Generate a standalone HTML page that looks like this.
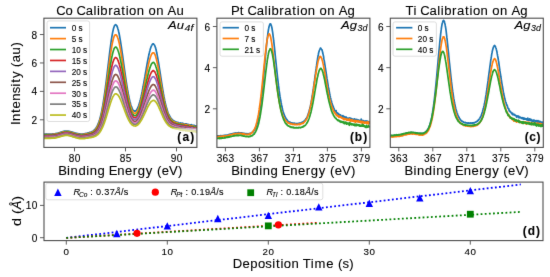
<!DOCTYPE html>
<html><head><meta charset="utf-8"><title>Calibration</title>
<style>
html,body{margin:0;padding:0;background:#fff;}
body{width:550px;height:277px;overflow:hidden;}
svg{display:block;font-family:"Liberation Sans", sans-serif;will-change:transform;}
text{stroke:#000;stroke-width:0.1px;}
</style></head>
<body>
<svg xmlns="http://www.w3.org/2000/svg" width="550" height="277" viewBox="0 0 550 277">
<defs><filter id="bl" x="0" y="0" width="550" height="277" filterUnits="userSpaceOnUse" color-interpolation-filters="sRGB"><feConvolveMatrix order="3" kernelMatrix="0.0052 0.0619 0.0052 0.0619 0.7314 0.0619 0.0052 0.0619 0.0052" edgeMode="duplicate"/></filter></defs><g filter="url(#bl)">
<rect x="0" y="0" width="550" height="277" fill="#fff"/>
<clipPath id="clipa"><rect x="43.9" y="18.2" width="153.0" height="129.20000000000002"/></clipPath>
<g clip-path="url(#clipa)">
<polyline points="43.90,134.08 44.16,134.35 44.41,134.17 44.67,134.23 44.92,134.22 45.17,134.20 45.43,134.31 45.68,134.20 45.94,134.23 46.19,133.98 46.45,134.16 46.71,134.20 46.96,134.19 47.22,134.21 47.47,134.23 47.73,134.18 47.98,134.13 48.23,134.17 48.49,134.09 48.74,134.15 49.00,134.13 49.26,134.04 49.51,134.09 49.77,134.15 50.02,134.12 50.27,134.07 50.53,133.98 50.78,134.10 51.04,134.09 51.29,134.00 51.55,134.10 51.81,134.05 52.06,133.97 52.32,133.97 52.57,133.98 52.83,133.93 53.08,134.11 53.33,133.86 53.59,133.96 53.84,133.97 54.10,133.83 54.36,133.77 54.61,133.81 54.87,133.81 55.12,133.71 55.38,133.67 55.63,133.55 55.88,133.54 56.14,133.53 56.39,133.42 56.65,133.45 56.91,133.44 57.16,133.29 57.42,133.23 57.67,133.21 57.92,133.18 58.18,133.05 58.43,133.15 58.69,132.88 58.94,132.82 59.20,132.87 59.46,132.69 59.71,132.68 59.97,132.49 60.22,132.58 60.47,132.43 60.73,132.25 60.98,132.14 61.24,132.26 61.49,132.08 61.75,131.95 62.01,131.92 62.26,131.72 62.52,131.81 62.77,131.64 63.02,131.65 63.28,131.44 63.53,131.46 63.79,131.42 64.04,131.45 64.30,131.20 64.56,131.20 64.81,131.16 65.07,131.10 65.32,131.12 65.58,131.15 65.83,131.14 66.08,131.13 66.34,130.99 66.59,131.16 66.85,131.11 67.11,131.10 67.36,131.09 67.62,131.09 67.87,131.22 68.12,131.28 68.38,131.22 68.63,131.18 68.89,131.26 69.14,131.34 69.40,131.43 69.66,131.45 69.91,131.54 70.17,131.54 70.42,131.70 70.67,131.72 70.93,131.80 71.18,131.84 71.44,131.93 71.69,131.87 71.95,132.01 72.21,132.09 72.46,132.38 72.72,132.35 72.97,132.45 73.22,132.46 73.48,132.70 73.73,132.57 73.99,132.66 74.24,132.87 74.50,132.93 74.76,132.99 75.01,133.01 75.27,133.05 75.52,133.03 75.78,133.23 76.03,133.24 76.28,133.34 76.54,133.31 76.79,133.43 77.05,133.45 77.31,133.65 77.56,133.65 77.82,133.74 78.07,133.65 78.33,133.74 78.58,133.84 78.83,133.89 79.09,133.87 79.34,133.97 79.60,134.01 79.86,133.95 80.11,133.85 80.37,134.03 80.62,134.06 80.88,134.11 81.13,134.12 81.38,134.01 81.64,133.99 81.89,134.03 82.15,134.00 82.41,133.99 82.66,133.97 82.92,134.05 83.17,133.96 83.43,133.89 83.68,133.91 83.93,133.86 84.19,133.84 84.44,133.77 84.70,133.66 84.96,133.68 85.21,133.62 85.47,133.52 85.72,133.47 85.97,133.36 86.23,133.53 86.48,133.30 86.74,133.33 86.99,133.23 87.25,133.13 87.51,133.06 87.76,133.00 88.02,132.99 88.27,132.84 88.53,132.89 88.78,132.82 89.03,132.69 89.29,132.70 89.54,132.46 89.80,132.46 90.06,132.31 90.31,132.35 90.57,132.28 90.82,132.16 91.08,132.02 91.33,132.00 91.58,131.83 91.84,131.73 92.09,131.51 92.35,131.51 92.61,131.26 92.86,131.20 93.12,131.05 93.37,130.86 93.62,130.69 93.88,130.41 94.13,130.13 94.39,129.95 94.64,129.67 94.90,129.33 95.16,129.12 95.41,128.82 95.67,128.51 95.92,128.23 96.17,127.71 96.43,127.46 96.68,126.88 96.94,126.46 97.19,125.90 97.45,125.45 97.71,124.94 97.96,124.28 98.22,123.71 98.47,123.03 98.72,122.32 98.98,121.60 99.23,120.83 99.49,120.05 99.74,119.15 100.00,118.36 100.26,117.29 100.51,116.35 100.77,115.17 101.02,114.07 101.28,113.12 101.53,111.80 101.78,110.58 102.04,109.34 102.29,107.91 102.55,106.57 102.81,105.21 103.06,103.62 103.32,102.07 103.57,100.46 103.82,98.89 104.08,97.09 104.33,95.35 104.59,93.67 104.84,91.82 105.10,89.91 105.36,88.03 105.61,85.95 105.87,84.06 106.12,82.11 106.38,80.06 106.63,77.94 106.88,75.71 107.14,73.74 107.39,71.60 107.65,69.43 107.91,67.32 108.16,65.03 108.42,63.06 108.67,60.84 108.92,58.75 109.18,56.61 109.43,54.63 109.69,52.39 109.94,50.47 110.20,48.47 110.46,46.59 110.71,44.68 110.97,42.76 111.22,40.95 111.47,39.25 111.73,37.58 111.98,36.05 112.24,34.60 112.49,33.16 112.75,31.87 113.01,30.71 113.26,29.56 113.52,28.53 113.77,27.70 114.03,26.96 114.28,26.24 114.53,25.63 114.79,25.34 115.04,25.03 115.30,24.86 115.56,24.71 115.81,24.93 116.07,24.93 116.32,25.11 116.57,25.56 116.83,25.85 117.08,26.42 117.34,27.10 117.59,27.76 117.85,28.66 118.11,29.48 118.36,30.30 118.62,31.51 118.87,32.47 119.12,33.79 119.38,34.99 119.63,36.39 119.89,37.93 120.14,39.29 120.40,40.76 120.66,42.41 120.91,44.04 121.17,45.60 121.42,47.36 121.67,49.16 121.93,50.87 122.18,52.57 122.44,54.47 122.69,56.22 122.95,58.03 123.21,59.98 123.46,61.91 123.72,63.79 123.97,65.58 124.22,67.39 124.48,69.27 124.73,71.10 124.99,72.98 125.24,74.73 125.50,76.56 125.76,78.31 126.01,80.09 126.27,81.80 126.52,83.40 126.78,85.06 127.03,86.64 127.28,88.10 127.54,89.65 127.79,90.93 128.05,92.47 128.31,93.94 128.56,95.18 128.82,96.48 129.07,97.77 129.32,98.84 129.58,100.07 129.83,101.28 130.09,102.07 130.34,103.12 130.60,103.91 130.86,104.89 131.11,105.73 131.37,106.32 131.62,107.17 131.88,107.73 132.13,108.25 132.38,108.86 132.64,109.35 132.89,109.76 133.15,110.09 133.41,110.51 133.66,110.69 133.92,110.90 134.17,110.95 134.43,111.22 134.68,111.31 134.93,111.21 135.19,111.23 135.44,111.08 135.70,110.94 135.96,110.67 136.21,110.53 136.47,110.19 136.72,109.99 136.97,109.48 137.23,108.88 137.48,108.52 137.74,107.97 137.99,107.41 138.25,106.66 138.51,105.99 138.76,105.34 139.02,104.45 139.27,103.65 139.53,102.75 139.78,101.92 140.03,100.83 140.29,99.91 140.54,98.91 140.80,97.86 141.06,96.74 141.31,95.52 141.57,94.41 141.82,93.11 142.08,91.89 142.33,90.57 142.58,89.29 142.84,88.01 143.09,86.77 143.35,85.25 143.61,83.82 143.86,82.44 144.12,80.98 144.37,79.59 144.62,78.13 144.88,76.69 145.13,75.08 145.39,73.68 145.64,72.24 145.90,70.82 146.16,69.28 146.41,67.72 146.67,66.34 146.92,64.99 147.18,63.44 147.43,62.05 147.68,60.72 147.94,59.41 148.19,58.08 148.45,56.86 148.71,55.63 148.96,54.55 149.22,53.27 149.47,52.27 149.72,51.13 149.98,50.42 150.23,49.33 150.49,48.46 150.74,47.76 151.00,46.98 151.26,46.31 151.51,45.75 151.77,45.32 152.02,44.86 152.28,44.43 152.53,44.13 152.78,44.01 153.04,43.90 153.29,43.86 153.55,43.87 153.81,44.19 154.06,44.48 154.32,44.75 154.57,45.31 154.82,45.84 155.08,46.44 155.33,47.16 155.59,48.11 155.84,48.89 156.10,50.08 156.36,50.98 156.61,52.29 156.87,53.48 157.12,54.61 157.38,56.03 157.63,57.45 157.88,58.86 158.14,60.27 158.39,61.84 158.65,63.40 158.91,64.90 159.16,66.66 159.42,68.27 159.67,69.92 159.92,71.43 160.18,73.11 160.43,74.75 160.69,76.53 160.94,78.19 161.20,79.74 161.46,81.53 161.71,83.07 161.97,84.71 162.22,86.46 162.47,87.98 162.73,89.53 162.98,90.86 163.24,92.26 163.49,93.97 163.75,95.37 164.01,96.98 164.26,98.04 164.52,99.34 164.77,100.70 165.03,101.69 165.28,103.11 165.53,104.06 165.79,105.09 166.04,106.27 166.30,107.00 166.56,107.90 166.81,109.09 167.07,109.95 167.32,110.50 167.57,111.35 167.83,112.23 168.08,112.80 168.34,113.43 168.59,114.06 168.85,114.50 169.11,115.12 169.36,115.44 169.62,115.98 169.87,116.54 170.12,116.91 170.38,117.27 170.63,117.74 170.89,118.40 171.14,118.40 171.40,118.84 171.66,118.88 171.91,119.40 172.17,119.58 172.42,119.85 172.68,119.85 172.93,120.31 173.18,120.58 173.44,120.66 173.69,120.97 173.95,121.02 174.21,121.20 174.46,121.29 174.72,121.11 174.97,121.67 175.22,121.70 175.48,121.86 175.73,121.79 175.99,122.25 176.24,122.25 176.50,122.21 176.76,122.17 177.01,122.37 177.27,122.54 177.52,122.69 177.78,122.48 178.03,122.35 178.28,122.65 178.54,122.74 178.79,122.75 179.05,123.10 179.31,123.03 179.56,123.08 179.82,123.01 180.07,123.13 180.33,123.45 180.58,122.98 180.83,122.91 181.09,123.40 181.34,123.30 181.60,123.38 181.86,123.31 182.11,123.88 182.37,123.22 182.62,123.74 182.88,123.39 183.13,123.71 183.38,123.87 183.64,123.86 183.89,123.66 184.15,124.13 184.41,124.06 184.66,124.13 184.92,124.47 185.17,123.80 185.43,124.02 185.68,124.21 185.93,123.97 186.19,124.53 186.44,124.36 186.70,123.97 186.96,124.20 187.21,125.03 187.47,125.35 187.72,124.84 187.97,124.37 188.23,124.79 188.48,124.77 188.74,124.62 188.99,125.03 189.25,124.81 189.51,124.71 189.76,124.84 190.02,124.90 190.27,125.20 190.53,124.96 190.78,125.25 191.03,124.86 191.29,124.59 191.54,125.47 191.80,125.87 192.06,125.48 192.31,125.32 192.57,125.20 192.82,125.24 193.07,125.76 193.33,125.81 193.58,125.33 193.84,125.98 194.09,125.47 194.35,125.85 194.61,125.64 194.86,125.70 195.12,125.73 195.37,125.77 195.62,126.28 195.88,125.99 196.13,126.11 196.39,126.08 196.64,125.90 196.90,126.33" fill="none" stroke="#1f77b4" stroke-width="1.7" stroke-linejoin="round" />
<polyline points="43.90,134.77 44.16,134.77 44.41,134.74 44.67,134.68 44.92,134.77 45.17,134.65 45.43,134.70 45.68,134.72 45.94,134.79 46.19,134.69 46.45,134.66 46.71,134.81 46.96,134.63 47.22,134.60 47.47,134.67 47.73,134.66 47.98,134.54 48.23,134.60 48.49,134.73 48.74,134.67 49.00,134.67 49.26,134.67 49.51,134.79 49.77,134.60 50.02,134.68 50.27,134.62 50.53,134.63 50.78,134.56 51.04,134.62 51.29,134.64 51.55,134.54 51.81,134.48 52.06,134.57 52.32,134.45 52.57,134.50 52.83,134.53 53.08,134.38 53.33,134.50 53.59,134.37 53.84,134.43 54.10,134.35 54.36,134.42 54.61,134.36 54.87,134.22 55.12,134.23 55.38,134.20 55.63,134.19 55.88,134.09 56.14,134.16 56.39,134.09 56.65,133.98 56.91,133.97 57.16,133.90 57.42,133.80 57.67,133.74 57.92,133.68 58.18,133.50 58.43,133.47 58.69,133.39 58.94,133.39 59.20,133.34 59.46,133.32 59.71,133.18 59.97,133.20 60.22,133.03 60.47,132.87 60.73,132.74 60.98,132.69 61.24,132.72 61.49,132.56 61.75,132.55 62.01,132.38 62.26,132.36 62.52,132.23 62.77,132.05 63.02,132.08 63.28,131.93 63.53,131.99 63.79,131.97 64.04,131.81 64.30,131.74 64.56,131.83 64.81,131.75 65.07,131.80 65.32,131.70 65.58,131.61 65.83,131.65 66.08,131.66 66.34,131.71 66.59,131.60 66.85,131.58 67.11,131.60 67.36,131.63 67.62,131.75 67.87,131.59 68.12,131.73 68.38,131.78 68.63,131.76 68.89,131.98 69.14,131.91 69.40,131.97 69.66,132.00 69.91,132.00 70.17,132.12 70.42,132.32 70.67,132.30 70.93,132.34 71.18,132.42 71.44,132.58 71.69,132.68 71.95,132.63 72.21,132.72 72.46,132.82 72.72,133.00 72.97,132.87 73.22,133.23 73.48,133.15 73.73,133.08 73.99,133.29 74.24,133.35 74.50,133.51 74.76,133.43 75.01,133.66 75.27,133.64 75.52,133.72 75.78,133.85 76.03,133.80 76.28,134.01 76.54,134.03 76.79,134.05 77.05,134.13 77.31,134.13 77.56,134.16 77.82,134.28 78.07,134.35 78.33,134.39 78.58,134.42 78.83,134.39 79.09,134.49 79.34,134.48 79.60,134.54 79.86,134.61 80.11,134.53 80.37,134.66 80.62,134.62 80.88,134.54 81.13,134.70 81.38,134.64 81.64,134.72 81.89,134.65 82.15,134.70 82.41,134.62 82.66,134.61 82.92,134.55 83.17,134.44 83.43,134.49 83.68,134.43 83.93,134.44 84.19,134.41 84.44,134.41 84.70,134.42 84.96,134.27 85.21,134.13 85.47,134.15 85.72,134.16 85.97,133.98 86.23,134.06 86.48,134.01 86.74,134.00 86.99,133.93 87.25,133.83 87.51,133.64 87.76,133.72 88.02,133.71 88.27,133.62 88.53,133.54 88.78,133.56 89.03,133.39 89.29,133.29 89.54,133.24 89.80,133.16 90.06,133.19 90.31,133.14 90.57,132.88 90.82,132.81 91.08,132.87 91.33,132.67 91.58,132.58 91.84,132.44 92.09,132.34 92.35,132.26 92.61,132.08 92.86,131.94 93.12,131.80 93.37,131.74 93.62,131.64 93.88,131.32 94.13,131.16 94.39,130.84 94.64,130.58 94.90,130.35 95.16,130.13 95.41,129.81 95.67,129.44 95.92,129.23 96.17,128.79 96.43,128.43 96.68,128.06 96.94,127.57 97.19,127.25 97.45,126.68 97.71,126.28 97.96,125.74 98.22,125.19 98.47,124.50 98.72,123.94 98.98,123.21 99.23,122.58 99.49,121.70 99.74,120.87 100.00,120.14 100.26,119.18 100.51,118.34 100.77,117.29 101.02,116.42 101.28,115.48 101.53,114.21 101.78,113.17 102.04,112.05 102.29,110.80 102.55,109.59 102.81,108.18 103.06,106.87 103.32,105.31 103.57,103.90 103.82,102.54 104.08,100.99 104.33,99.34 104.59,97.79 104.84,96.02 105.10,94.31 105.36,92.61 105.61,90.82 105.87,88.94 106.12,87.05 106.38,85.18 106.63,83.38 106.88,81.42 107.14,79.58 107.39,77.57 107.65,75.70 107.91,73.64 108.16,71.79 108.42,69.82 108.67,67.80 108.92,65.83 109.18,64.02 109.43,62.05 109.69,60.13 109.94,58.27 110.20,56.51 110.46,54.68 110.71,52.97 110.97,51.18 111.22,49.60 111.47,48.15 111.73,46.70 111.98,45.13 112.24,43.71 112.49,42.49 112.75,41.25 113.01,40.23 113.26,39.27 113.52,38.23 113.77,37.45 114.03,36.71 114.28,36.22 114.53,35.63 114.79,35.29 115.04,34.92 115.30,34.84 115.56,34.77 115.81,34.79 116.07,34.80 116.32,35.07 116.57,35.41 116.83,35.81 117.08,36.28 117.34,36.68 117.59,37.51 117.85,38.17 118.11,38.88 118.36,39.72 118.62,40.75 118.87,41.71 119.12,42.79 119.38,43.93 119.63,45.20 119.89,46.38 120.14,47.79 120.40,49.09 120.66,50.67 120.91,52.01 121.17,53.65 121.42,55.21 121.67,56.67 121.93,58.36 122.18,59.91 122.44,61.65 122.69,63.16 122.95,64.93 123.21,66.69 123.46,68.31 123.72,69.96 123.97,71.76 124.22,73.37 124.48,74.96 124.73,76.71 124.99,78.41 125.24,80.09 125.50,81.64 125.76,83.36 126.01,85.02 126.27,86.42 126.52,87.96 126.78,89.27 127.03,90.81 127.28,92.29 127.54,93.67 127.79,94.90 128.05,96.28 128.31,97.51 128.56,98.69 128.82,99.84 129.07,100.96 129.32,102.03 129.58,102.98 129.83,103.93 130.09,105.06 130.34,105.69 130.60,106.67 130.86,107.38 131.11,108.24 131.37,108.86 131.62,109.50 131.88,110.09 132.13,110.59 132.38,111.09 132.64,111.62 132.89,111.96 133.15,112.25 133.41,112.54 133.66,112.85 133.92,113.04 134.17,113.18 134.43,113.34 134.68,113.41 134.93,113.24 135.19,113.32 135.44,113.20 135.70,113.12 135.96,112.82 136.21,112.56 136.47,112.41 136.72,112.05 136.97,111.77 137.23,111.22 137.48,110.82 137.74,110.44 137.99,109.78 138.25,109.25 138.51,108.63 138.76,107.98 139.02,107.34 139.27,106.59 139.53,105.74 139.78,104.97 140.03,104.17 140.29,103.09 140.54,102.30 140.80,101.36 141.06,100.37 141.31,99.25 141.57,98.17 141.82,97.12 142.08,95.96 142.33,94.96 142.58,93.71 142.84,92.52 143.09,91.27 143.35,90.00 143.61,88.89 143.86,87.29 144.12,86.25 144.37,84.87 144.62,83.53 144.88,82.20 145.13,80.91 145.39,79.78 145.64,78.34 145.90,76.90 146.16,75.68 146.41,74.38 146.67,73.16 146.92,71.65 147.18,70.42 147.43,69.26 147.68,67.99 147.94,66.79 148.19,65.69 148.45,64.50 148.71,63.36 148.96,62.28 149.22,61.21 149.47,60.32 149.72,59.42 149.98,58.49 150.23,57.73 150.49,57.00 150.74,56.13 151.00,55.58 151.26,54.96 151.51,54.40 151.77,54.06 152.02,53.55 152.28,53.24 152.53,53.02 152.78,52.80 153.04,52.77 153.29,52.84 153.55,52.76 153.81,52.96 154.06,53.07 154.32,53.44 154.57,53.92 154.82,54.38 155.08,54.87 155.33,55.55 155.59,56.35 155.84,57.16 156.10,58.10 156.36,59.05 156.61,60.02 156.87,61.16 157.12,62.27 157.38,63.58 157.63,64.87 157.88,66.16 158.14,67.39 158.39,68.61 158.65,70.02 158.91,71.62 159.16,73.11 159.42,74.38 159.67,75.88 159.92,77.53 160.18,78.81 160.43,80.38 160.69,81.76 160.94,83.33 161.20,84.75 161.46,86.31 161.71,87.91 161.97,89.32 162.22,90.80 162.47,92.08 162.73,93.65 162.98,95.07 163.24,96.18 163.49,97.43 163.75,98.66 164.01,99.92 164.26,101.39 164.52,102.46 164.77,103.56 165.03,104.58 165.28,105.86 165.53,106.61 165.79,107.54 166.04,108.60 166.30,109.35 166.56,110.06 166.81,111.00 167.07,111.64 167.32,112.37 167.57,113.14 167.83,113.80 168.08,114.52 168.34,114.89 168.59,115.68 168.85,116.24 169.11,116.54 169.36,117.22 169.62,117.49 169.87,117.81 170.12,118.35 170.38,118.71 170.63,118.93 170.89,119.28 171.14,119.94 171.40,120.19 171.66,120.03 171.91,120.43 172.17,121.07 172.42,121.17 172.68,121.14 172.93,121.50 173.18,121.43 173.44,121.66 173.69,121.75 173.95,122.19 174.21,122.00 174.46,121.89 174.72,122.52 174.97,122.24 175.22,122.40 175.48,122.57 175.73,122.80 175.99,123.11 176.24,123.14 176.50,122.90 176.76,122.93 177.01,122.95 177.27,123.08 177.52,123.16 177.78,123.50 178.03,123.73 178.28,123.49 178.54,123.49 178.79,123.64 179.05,124.04 179.31,123.88 179.56,124.14 179.82,123.84 180.07,124.16 180.33,124.02 180.58,123.96 180.83,124.05 181.09,123.82 181.34,124.43 181.60,124.72 181.86,124.06 182.11,124.00 182.37,124.04 182.62,124.35 182.88,124.34 183.13,124.48 183.38,124.86 183.64,124.74 183.89,124.53 184.15,124.83 184.41,124.29 184.66,125.15 184.92,124.93 185.17,124.61 185.43,125.07 185.68,125.24 185.93,125.34 186.19,125.23 186.44,124.74 186.70,125.05 186.96,125.07 187.21,125.37 187.47,125.08 187.72,125.30 187.97,125.60 188.23,125.53 188.48,125.42 188.74,125.22 188.99,125.57 189.25,125.48 189.51,125.14 189.76,125.89 190.02,126.05 190.27,125.54 190.53,125.72 190.78,125.90 191.03,125.85 191.29,126.05 191.54,125.88 191.80,126.14 192.06,125.90 192.31,126.44 192.57,126.39 192.82,126.20 193.07,126.40 193.33,126.15 193.58,126.38 193.84,126.55 194.09,126.41 194.35,126.64 194.61,126.95 194.86,126.88 195.12,126.84 195.37,126.80 195.62,126.70 195.88,126.54 196.13,126.68 196.39,126.41 196.64,126.58 196.90,127.00" fill="none" stroke="#ff7f0e" stroke-width="1.7" stroke-linejoin="round" />
<polyline points="43.90,135.15 44.16,135.18 44.41,135.28 44.67,135.23 44.92,135.18 45.17,135.23 45.43,135.18 45.68,135.22 45.94,135.19 46.19,135.25 46.45,135.21 46.71,135.25 46.96,135.19 47.22,135.32 47.47,135.20 47.73,135.14 47.98,135.18 48.23,135.21 48.49,135.17 48.74,135.25 49.00,135.24 49.26,135.21 49.51,135.19 49.77,135.12 50.02,135.22 50.27,135.10 50.53,135.25 50.78,135.19 51.04,135.14 51.29,135.05 51.55,135.15 51.81,135.22 52.06,135.06 52.32,135.07 52.57,135.11 52.83,135.09 53.08,135.05 53.33,134.98 53.59,134.93 53.84,135.03 54.10,134.78 54.36,134.88 54.61,134.87 54.87,134.78 55.12,134.77 55.38,134.60 55.63,134.64 55.88,134.68 56.14,134.63 56.39,134.59 56.65,134.53 56.91,134.42 57.16,134.44 57.42,134.24 57.67,134.28 57.92,134.22 58.18,134.09 58.43,134.19 58.69,134.06 58.94,133.90 59.20,133.86 59.46,133.78 59.71,133.68 59.97,133.66 60.22,133.55 60.47,133.54 60.73,133.49 60.98,133.22 61.24,133.27 61.49,133.18 61.75,132.97 62.01,132.91 62.26,132.93 62.52,132.86 62.77,132.76 63.02,132.74 63.28,132.59 63.53,132.55 63.79,132.49 64.04,132.40 64.30,132.35 64.56,132.24 64.81,132.22 65.07,132.37 65.32,132.19 65.58,132.28 65.83,132.28 66.08,132.14 66.34,132.22 66.59,132.20 66.85,132.12 67.11,132.23 67.36,132.26 67.62,132.21 67.87,132.18 68.12,132.26 68.38,132.42 68.63,132.41 68.89,132.43 69.14,132.35 69.40,132.47 69.66,132.53 69.91,132.57 70.17,132.73 70.42,132.75 70.67,132.82 70.93,132.98 71.18,133.00 71.44,133.04 71.69,133.21 71.95,133.18 72.21,133.26 72.46,133.33 72.72,133.51 72.97,133.54 73.22,133.54 73.48,133.66 73.73,133.83 73.99,133.85 74.24,133.85 74.50,134.02 74.76,134.07 75.01,134.01 75.27,134.24 75.52,134.31 75.78,134.43 76.03,134.48 76.28,134.42 76.54,134.58 76.79,134.70 77.05,134.75 77.31,134.75 77.56,134.76 77.82,134.90 78.07,134.86 78.33,134.98 78.58,134.97 78.83,135.01 79.09,135.04 79.34,135.13 79.60,135.15 79.86,135.14 80.11,135.27 80.37,135.20 80.62,135.19 80.88,135.17 81.13,135.24 81.38,135.25 81.64,135.23 81.89,135.28 82.15,135.24 82.41,135.19 82.66,135.18 82.92,135.24 83.17,135.17 83.43,135.25 83.68,135.05 83.93,135.10 84.19,135.02 84.44,135.06 84.70,134.96 84.96,134.88 85.21,134.81 85.47,134.90 85.72,134.73 85.97,134.74 86.23,134.73 86.48,134.61 86.74,134.60 86.99,134.55 87.25,134.52 87.51,134.42 87.76,134.38 88.02,134.33 88.27,134.33 88.53,134.24 88.78,134.13 89.03,134.02 89.29,134.04 89.54,133.89 89.80,133.91 90.06,133.91 90.31,133.74 90.57,133.76 90.82,133.60 91.08,133.48 91.33,133.48 91.58,133.37 91.84,133.12 92.09,133.15 92.35,133.04 92.61,132.89 92.86,132.82 93.12,132.68 93.37,132.51 93.62,132.52 93.88,132.12 94.13,132.10 94.39,131.91 94.64,131.60 94.90,131.42 95.16,131.26 95.41,130.92 95.67,130.73 95.92,130.42 96.17,130.16 96.43,129.80 96.68,129.38 96.94,129.02 97.19,128.62 97.45,128.16 97.71,127.78 97.96,127.34 98.22,126.82 98.47,126.18 98.72,125.72 98.98,125.11 99.23,124.51 99.49,123.83 99.74,123.13 100.00,122.43 100.26,121.68 100.51,120.92 100.77,120.08 101.02,119.13 101.28,118.20 101.53,117.23 101.78,116.28 102.04,115.30 102.29,114.14 102.55,113.02 102.81,111.99 103.06,110.65 103.32,109.42 103.57,108.08 103.82,106.92 104.08,105.57 104.33,104.05 104.59,102.78 104.84,101.24 105.10,99.76 105.36,98.22 105.61,96.71 105.87,95.02 106.12,93.33 106.38,91.72 106.63,90.06 106.88,88.42 107.14,86.61 107.39,84.96 107.65,83.21 107.91,81.64 108.16,79.79 108.42,78.16 108.67,76.35 108.92,74.64 109.18,73.02 109.43,71.26 109.69,69.54 109.94,67.95 110.20,66.34 110.46,64.85 110.71,63.31 110.97,61.85 111.22,60.34 111.47,58.89 111.73,57.61 111.98,56.37 112.24,55.23 112.49,54.01 112.75,52.99 113.01,52.12 113.26,51.21 113.52,50.31 113.77,49.62 114.03,48.83 114.28,48.38 114.53,48.00 114.79,47.61 115.04,47.24 115.30,47.23 115.56,47.06 115.81,47.09 116.07,47.12 116.32,47.34 116.57,47.64 116.83,47.91 117.08,48.34 117.34,48.76 117.59,49.37 117.85,49.87 118.11,50.68 118.36,51.40 118.62,52.29 118.87,53.13 119.12,54.08 119.38,55.07 119.63,56.08 119.89,57.27 120.14,58.45 120.40,59.53 120.66,60.86 120.91,62.16 121.17,63.37 121.42,64.74 121.67,66.32 121.93,67.58 122.18,68.94 122.44,70.38 122.69,71.91 122.95,73.26 123.21,74.87 123.46,76.32 123.72,77.78 123.97,79.27 124.22,80.70 124.48,82.16 124.73,83.69 124.99,85.05 125.24,86.61 125.50,87.99 125.76,89.28 126.01,90.75 126.27,92.04 126.52,93.45 126.78,94.73 127.03,95.99 127.28,97.21 127.54,98.44 127.79,99.58 128.05,100.68 128.31,101.74 128.56,102.86 128.82,103.84 129.07,104.81 129.32,105.86 129.58,106.79 129.83,107.45 130.09,108.28 130.34,109.13 130.60,109.84 130.86,110.61 131.11,111.28 131.37,111.77 131.62,112.44 131.88,112.81 132.13,113.37 132.38,113.74 132.64,114.03 132.89,114.37 133.15,114.80 133.41,114.98 133.66,115.32 133.92,115.47 134.17,115.54 134.43,115.57 134.68,115.73 134.93,115.67 135.19,115.66 135.44,115.67 135.70,115.48 135.96,115.23 136.21,115.13 136.47,114.86 136.72,114.56 136.97,114.34 137.23,113.87 137.48,113.47 137.74,113.03 137.99,112.58 138.25,112.19 138.51,111.65 138.76,111.09 139.02,110.49 139.27,109.83 139.53,109.04 139.78,108.30 140.03,107.68 140.29,106.81 140.54,106.12 140.80,105.22 141.06,104.39 141.31,103.53 141.57,102.49 141.82,101.54 142.08,100.58 142.33,99.58 142.58,98.58 142.84,97.48 143.09,96.44 143.35,95.30 143.61,94.29 143.86,93.08 144.12,91.93 144.37,90.74 144.62,89.60 144.88,88.50 145.13,87.39 145.39,86.30 145.64,85.02 145.90,83.77 146.16,82.60 146.41,81.71 146.67,80.46 146.92,79.30 147.18,78.23 147.43,77.06 147.68,76.00 147.94,74.98 148.19,73.92 148.45,73.02 148.71,72.02 148.96,71.08 149.22,70.06 149.47,69.37 149.72,68.46 149.98,67.62 150.23,66.95 150.49,66.22 150.74,65.68 151.00,65.04 151.26,64.48 151.51,63.93 151.77,63.62 152.02,63.22 152.28,63.03 152.53,62.80 152.78,62.53 153.04,62.49 153.29,62.40 153.55,62.49 153.81,62.51 154.06,62.70 154.32,63.20 154.57,63.37 154.82,63.90 155.08,64.40 155.33,65.01 155.59,65.59 155.84,66.44 156.10,67.18 156.36,68.01 156.61,68.82 156.87,69.71 157.12,70.72 157.38,71.78 157.63,72.94 157.88,74.15 158.14,75.13 158.39,76.34 158.65,77.53 158.91,78.68 159.16,80.07 159.42,81.34 159.67,82.81 159.92,83.85 160.18,85.20 160.43,86.56 160.69,87.75 160.94,89.17 161.20,90.41 161.46,91.49 161.71,92.90 161.97,94.16 162.22,95.44 162.47,96.69 162.73,97.95 162.98,98.94 163.24,100.34 163.49,101.39 163.75,102.59 164.01,103.68 164.26,104.95 164.52,105.90 164.77,106.50 165.03,107.45 165.28,108.57 165.53,109.40 165.79,110.16 166.04,111.15 166.30,111.59 166.56,112.67 166.81,113.33 167.07,114.26 167.32,114.36 167.57,115.15 167.83,115.53 168.08,116.42 168.34,116.76 168.59,117.28 168.85,117.73 169.11,117.90 169.36,118.28 169.62,118.80 169.87,119.42 170.12,119.57 170.38,119.83 170.63,120.25 170.89,120.53 171.14,120.81 171.40,121.28 171.66,121.34 171.91,121.33 172.17,121.97 172.42,121.98 172.68,122.04 172.93,122.58 173.18,122.53 173.44,122.96 173.69,122.91 173.95,123.18 174.21,123.22 174.46,123.26 174.72,123.33 174.97,123.43 175.22,123.94 175.48,123.28 175.73,123.72 175.99,123.97 176.24,123.96 176.50,123.85 176.76,124.18 177.01,124.14 177.27,124.21 177.52,124.07 177.78,124.40 178.03,124.21 178.28,124.29 178.54,124.45 178.79,124.21 179.05,124.53 179.31,124.84 179.56,124.57 179.82,124.66 180.07,124.75 180.33,124.74 180.58,124.31 180.83,124.83 181.09,124.83 181.34,125.03 181.60,124.73 181.86,125.09 182.11,125.30 182.37,125.45 182.62,125.09 182.88,125.08 183.13,125.67 183.38,125.51 183.64,125.24 183.89,125.19 184.15,125.79 184.41,125.62 184.66,125.37 184.92,125.74 185.17,125.76 185.43,125.83 185.68,126.06 185.93,125.78 186.19,125.76 186.44,126.22 186.70,125.90 186.96,125.69 187.21,125.96 187.47,125.82 187.72,126.23 187.97,125.80 188.23,126.38 188.48,125.76 188.74,126.38 188.99,126.49 189.25,126.58 189.51,126.51 189.76,126.57 190.02,126.66 190.27,126.62 190.53,126.41 190.78,126.40 191.03,126.75 191.29,126.40 191.54,127.01 191.80,127.06 192.06,127.13 192.31,126.73 192.57,127.32 192.82,127.33 193.07,126.69 193.33,126.63 193.58,126.76 193.84,127.53 194.09,127.19 194.35,127.03 194.61,127.26 194.86,127.74 195.12,127.46 195.37,127.85 195.62,127.77 195.88,126.95 196.13,127.37 196.39,127.96 196.64,128.02 196.90,127.56" fill="none" stroke="#2ca02c" stroke-width="1.7" stroke-linejoin="round" />
<polyline points="43.90,135.82 44.16,135.74 44.41,135.82 44.67,135.79 44.92,135.76 45.17,135.83 45.43,135.88 45.68,135.84 45.94,135.81 46.19,135.78 46.45,135.76 46.71,135.76 46.96,135.73 47.22,135.81 47.47,135.67 47.73,135.63 47.98,135.72 48.23,135.73 48.49,135.66 48.74,135.69 49.00,135.72 49.26,135.73 49.51,135.76 49.77,135.78 50.02,135.66 50.27,135.62 50.53,135.75 50.78,135.68 51.04,135.65 51.29,135.68 51.55,135.69 51.81,135.65 52.06,135.73 52.32,135.60 52.57,135.60 52.83,135.44 53.08,135.49 53.33,135.55 53.59,135.50 53.84,135.37 54.10,135.35 54.36,135.41 54.61,135.40 54.87,135.44 55.12,135.34 55.38,135.29 55.63,135.28 55.88,135.09 56.14,135.26 56.39,135.11 56.65,135.02 56.91,134.97 57.16,134.84 57.42,134.96 57.67,134.86 57.92,134.75 58.18,134.68 58.43,134.64 58.69,134.59 58.94,134.41 59.20,134.46 59.46,134.36 59.71,134.16 59.97,134.06 60.22,134.03 60.47,134.05 60.73,133.97 60.98,133.89 61.24,133.83 61.49,133.70 61.75,133.52 62.01,133.51 62.26,133.49 62.52,133.42 62.77,133.37 63.02,133.16 63.28,133.29 63.53,133.09 63.79,133.13 64.04,133.05 64.30,133.03 64.56,132.84 64.81,132.86 65.07,132.66 65.32,132.85 65.58,132.83 65.83,132.72 66.08,132.70 66.34,132.75 66.59,132.85 66.85,132.65 67.11,132.71 67.36,132.74 67.62,132.82 67.87,132.78 68.12,132.88 68.38,132.88 68.63,132.94 68.89,132.90 69.14,133.06 69.40,133.10 69.66,133.08 69.91,133.19 70.17,133.27 70.42,133.36 70.67,133.36 70.93,133.52 71.18,133.53 71.44,133.52 71.69,133.69 71.95,133.84 72.21,133.95 72.46,133.95 72.72,134.11 72.97,134.21 73.22,134.24 73.48,134.34 73.73,134.30 73.99,134.52 74.24,134.42 74.50,134.63 74.76,134.66 75.01,134.70 75.27,134.80 75.52,134.84 75.78,135.01 76.03,135.16 76.28,135.10 76.54,135.25 76.79,135.25 77.05,135.22 77.31,135.34 77.56,135.42 77.82,135.51 78.07,135.51 78.33,135.55 78.58,135.68 78.83,135.61 79.09,135.73 79.34,135.69 79.60,135.76 79.86,135.70 80.11,135.73 80.37,135.80 80.62,135.82 80.88,135.80 81.13,135.76 81.38,135.78 81.64,135.83 81.89,135.82 82.15,135.74 82.41,135.92 82.66,135.77 82.92,135.84 83.17,135.68 83.43,135.77 83.68,135.71 83.93,135.74 84.19,135.64 84.44,135.56 84.70,135.47 84.96,135.60 85.21,135.51 85.47,135.21 85.72,135.34 85.97,135.36 86.23,135.28 86.48,135.42 86.74,135.12 86.99,135.16 87.25,135.21 87.51,135.00 87.76,135.06 88.02,135.03 88.27,134.89 88.53,134.85 88.78,134.85 89.03,134.77 89.29,134.79 89.54,134.74 89.80,134.54 90.06,134.46 90.31,134.45 90.57,134.38 90.82,134.36 91.08,134.27 91.33,134.24 91.58,134.00 91.84,134.05 92.09,133.90 92.35,133.83 92.61,133.81 92.86,133.49 93.12,133.51 93.37,133.41 93.62,133.22 93.88,133.13 94.13,132.92 94.39,132.81 94.64,132.54 94.90,132.37 95.16,132.25 95.41,131.89 95.67,131.70 95.92,131.53 96.17,131.17 96.43,130.88 96.68,130.48 96.94,130.32 97.19,129.87 97.45,129.56 97.71,129.12 97.96,128.76 98.22,128.30 98.47,127.80 98.72,127.41 98.98,126.94 99.23,126.27 99.49,125.71 99.74,125.07 100.00,124.39 100.26,123.77 100.51,122.98 100.77,122.31 101.02,121.53 101.28,120.67 101.53,119.84 101.78,119.00 102.04,118.07 102.29,117.17 102.55,116.18 102.81,115.11 103.06,114.00 103.32,112.98 103.57,111.77 103.82,110.54 104.08,109.32 104.33,108.22 104.59,106.89 104.84,105.61 105.10,104.27 105.36,102.91 105.61,101.55 105.87,100.12 106.12,98.73 106.38,97.30 106.63,95.79 106.88,94.29 107.14,92.74 107.39,91.28 107.65,89.73 107.91,88.16 108.16,86.77 108.42,85.20 108.67,83.63 108.92,82.14 109.18,80.70 109.43,79.09 109.69,77.68 109.94,76.29 110.20,74.69 110.46,73.49 110.71,72.05 110.97,70.77 111.22,69.45 111.47,68.19 111.73,67.10 111.98,65.93 112.24,64.86 112.49,63.91 112.75,62.84 113.01,62.03 113.26,61.25 113.52,60.55 113.77,59.88 114.03,59.28 114.28,58.83 114.53,58.32 114.79,58.23 115.04,57.97 115.30,57.71 115.56,57.73 115.81,57.63 116.07,57.73 116.32,57.80 116.57,58.02 116.83,58.24 117.08,58.61 117.34,59.00 117.59,59.52 117.85,60.02 118.11,60.65 118.36,61.38 118.62,62.13 118.87,62.90 119.12,63.62 119.38,64.67 119.63,65.44 119.89,66.47 120.14,67.39 120.40,68.47 120.66,69.62 120.91,70.69 121.17,71.98 121.42,73.01 121.67,74.21 121.93,75.58 122.18,76.67 122.44,77.99 122.69,79.25 122.95,80.64 123.21,81.81 123.46,83.11 123.72,84.45 123.97,85.81 124.22,87.01 124.48,88.27 124.73,89.61 124.99,90.84 125.24,92.20 125.50,93.40 125.76,94.61 126.01,95.84 126.27,96.86 126.52,98.17 126.78,99.37 127.03,100.40 127.28,101.60 127.54,102.57 127.79,103.57 128.05,104.64 128.31,105.59 128.56,106.56 128.82,107.39 129.07,108.30 129.32,108.98 129.58,109.83 129.83,110.64 130.09,111.42 130.34,111.89 130.60,112.58 130.86,113.23 131.11,113.82 131.37,114.35 131.62,114.87 131.88,115.19 132.13,115.70 132.38,116.18 132.64,116.47 132.89,116.88 133.15,116.95 133.41,117.17 133.66,117.30 133.92,117.43 134.17,117.72 134.43,117.72 134.68,117.73 134.93,117.75 135.19,117.80 135.44,117.65 135.70,117.57 135.96,117.38 136.21,117.29 136.47,117.09 136.72,116.87 136.97,116.58 137.23,116.30 137.48,115.93 137.74,115.50 137.99,115.09 138.25,114.59 138.51,114.13 138.76,113.65 139.02,113.22 139.27,112.54 139.53,111.91 139.78,111.43 140.03,110.75 140.29,110.06 140.54,109.34 140.80,108.56 141.06,107.82 141.31,106.95 141.57,106.23 141.82,105.32 142.08,104.47 142.33,103.61 142.58,102.58 142.84,101.72 143.09,100.74 143.35,99.84 143.61,98.80 143.86,97.82 144.12,96.87 144.37,95.96 144.62,94.78 144.88,93.77 145.13,92.77 145.39,91.74 145.64,90.72 145.90,89.69 146.16,88.74 146.41,87.66 146.67,86.63 146.92,85.69 147.18,84.73 147.43,83.58 147.68,82.71 147.94,81.84 148.19,80.94 148.45,80.20 148.71,79.26 148.96,78.36 149.22,77.47 149.47,76.92 149.72,76.11 149.98,75.25 150.23,74.69 150.49,74.10 150.74,73.49 151.00,73.06 151.26,72.60 151.51,72.13 151.77,71.75 152.02,71.57 152.28,71.13 152.53,71.15 152.78,70.92 153.04,70.56 153.29,70.77 153.55,70.72 153.81,70.94 154.06,71.06 154.32,71.33 154.57,71.61 154.82,71.91 155.08,72.27 155.33,72.83 155.59,73.33 155.84,74.10 156.10,74.63 156.36,75.42 156.61,76.13 156.87,77.09 157.12,77.94 157.38,78.72 157.63,79.73 157.88,80.74 158.14,81.82 158.39,82.81 158.65,83.82 158.91,84.89 159.16,86.09 159.42,87.19 159.67,88.25 159.92,89.51 160.18,90.47 160.43,91.69 160.69,92.84 160.94,94.17 161.20,95.22 161.46,96.33 161.71,97.43 161.97,98.61 162.22,99.58 162.47,100.70 162.73,101.81 162.98,103.03 163.24,103.71 163.49,104.88 163.75,105.77 164.01,106.85 164.26,107.69 164.52,108.51 164.77,109.42 165.03,110.17 165.28,111.09 165.53,111.62 165.79,112.81 166.04,113.36 166.30,113.86 166.56,114.66 166.81,115.30 167.07,116.06 167.32,116.25 167.57,117.19 167.83,117.39 168.08,117.91 168.34,118.28 168.59,118.63 168.85,119.34 169.11,119.74 169.36,120.04 169.62,120.59 169.87,120.55 170.12,121.03 170.38,121.24 170.63,121.71 170.89,121.79 171.14,122.13 171.40,122.27 171.66,122.64 171.91,122.50 172.17,122.96 172.42,123.45 172.68,123.08 172.93,123.39 173.18,123.64 173.44,123.18 173.69,123.76 173.95,124.11 174.21,124.09 174.46,124.02 174.72,124.23 174.97,124.05 175.22,124.18 175.48,124.61 175.73,124.54 175.99,124.50 176.24,124.78 176.50,124.86 176.76,124.66 177.01,124.81 177.27,125.25 177.52,125.14 177.78,125.17 178.03,125.17 178.28,125.35 178.54,124.97 178.79,125.51 179.05,125.59 179.31,125.36 179.56,125.94 179.82,125.73 180.07,125.41 180.33,125.89 180.58,125.83 180.83,125.45 181.09,125.63 181.34,125.77 181.60,125.77 181.86,126.03 182.11,125.85 182.37,126.01 182.62,125.43 182.88,125.92 183.13,126.17 183.38,126.15 183.64,126.16 183.89,126.55 184.15,126.46 184.41,125.94 184.66,126.68 184.92,126.53 185.17,126.19 185.43,126.11 185.68,126.77 185.93,126.21 186.19,126.69 186.44,126.24 186.70,126.57 186.96,126.80 187.21,126.59 187.47,126.68 187.72,127.05 187.97,126.37 188.23,127.03 188.48,126.70 188.74,127.15 188.99,127.52 189.25,127.39 189.51,127.18 189.76,127.03 190.02,126.80 190.27,127.26 190.53,127.39 190.78,127.68 191.03,127.42 191.29,127.38 191.54,128.05 191.80,127.21 192.06,127.29 192.31,127.05 192.57,127.89 192.82,127.70 193.07,127.75 193.33,128.13 193.58,128.05 193.84,128.13 194.09,127.79 194.35,127.85 194.61,127.66 194.86,128.15 195.12,128.45 195.37,128.02 195.62,128.08 195.88,128.05 196.13,127.94 196.39,128.45 196.64,128.14 196.90,128.64" fill="none" stroke="#d62728" stroke-width="1.7" stroke-linejoin="round" />
<polyline points="43.90,136.29 44.16,136.26 44.41,136.30 44.67,136.28 44.92,136.38 45.17,136.33 45.43,136.28 45.68,136.36 45.94,136.34 46.19,136.14 46.45,136.27 46.71,136.33 46.96,136.34 47.22,136.19 47.47,136.44 47.73,136.29 47.98,136.23 48.23,136.30 48.49,136.23 48.74,136.32 49.00,136.25 49.26,136.24 49.51,136.24 49.77,136.23 50.02,136.23 50.27,136.15 50.53,136.23 50.78,136.24 51.04,136.21 51.29,136.20 51.55,136.26 51.81,136.27 52.06,136.23 52.32,136.11 52.57,136.15 52.83,136.12 53.08,135.90 53.33,135.99 53.59,136.04 53.84,136.04 54.10,135.90 54.36,136.00 54.61,135.84 54.87,135.85 55.12,135.77 55.38,135.85 55.63,135.72 55.88,135.84 56.14,135.69 56.39,135.57 56.65,135.54 56.91,135.64 57.16,135.43 57.42,135.39 57.67,135.36 57.92,135.33 58.18,135.24 58.43,135.19 58.69,135.02 58.94,134.98 59.20,134.87 59.46,134.82 59.71,134.86 59.97,134.69 60.22,134.49 60.47,134.61 60.73,134.44 60.98,134.42 61.24,134.35 61.49,134.20 61.75,134.08 62.01,134.01 62.26,133.96 62.52,133.85 62.77,133.94 63.02,133.72 63.28,133.68 63.53,133.65 63.79,133.59 64.04,133.58 64.30,133.41 64.56,133.48 64.81,133.49 65.07,133.36 65.32,133.37 65.58,133.31 65.83,133.20 66.08,133.29 66.34,133.27 66.59,133.14 66.85,133.36 67.11,133.27 67.36,133.24 67.62,133.24 67.87,133.22 68.12,133.43 68.38,133.39 68.63,133.48 68.89,133.55 69.14,133.62 69.40,133.72 69.66,133.67 69.91,133.71 70.17,133.88 70.42,133.84 70.67,133.99 70.93,134.09 71.18,134.27 71.44,134.12 71.69,134.22 71.95,134.36 72.21,134.45 72.46,134.58 72.72,134.55 72.97,134.67 73.22,134.71 73.48,134.82 73.73,134.99 73.99,135.08 74.24,135.04 74.50,135.24 74.76,135.20 75.01,135.24 75.27,135.44 75.52,135.40 75.78,135.50 76.03,135.54 76.28,135.68 76.54,135.71 76.79,135.74 77.05,135.72 77.31,135.84 77.56,135.91 77.82,136.08 78.07,136.03 78.33,136.14 78.58,136.15 78.83,136.17 79.09,136.17 79.34,136.22 79.60,136.28 79.86,136.32 80.11,136.26 80.37,136.42 80.62,136.38 80.88,136.31 81.13,136.42 81.38,136.36 81.64,136.36 81.89,136.29 82.15,136.33 82.41,136.49 82.66,136.37 82.92,136.34 83.17,136.29 83.43,136.29 83.68,136.17 83.93,136.19 84.19,136.30 84.44,136.23 84.70,136.28 84.96,136.01 85.21,136.08 85.47,136.04 85.72,136.09 85.97,135.98 86.23,135.88 86.48,135.89 86.74,135.84 86.99,135.81 87.25,135.61 87.51,135.72 87.76,135.73 88.02,135.62 88.27,135.56 88.53,135.50 88.78,135.46 89.03,135.46 89.29,135.36 89.54,135.27 89.80,135.32 90.06,135.06 90.31,135.02 90.57,135.18 90.82,135.02 91.08,134.87 91.33,134.78 91.58,134.68 91.84,134.82 92.09,134.70 92.35,134.57 92.61,134.41 92.86,134.41 93.12,134.21 93.37,134.09 93.62,133.95 93.88,133.94 94.13,133.70 94.39,133.56 94.64,133.42 94.90,133.14 95.16,133.05 95.41,132.75 95.67,132.66 95.92,132.29 96.17,132.05 96.43,131.94 96.68,131.59 96.94,131.29 97.19,131.06 97.45,130.62 97.71,130.27 97.96,129.98 98.22,129.53 98.47,129.05 98.72,128.67 98.98,128.23 99.23,127.59 99.49,127.23 99.74,126.59 100.00,125.96 100.26,125.37 100.51,124.89 100.77,124.13 101.02,123.42 101.28,122.69 101.53,121.87 101.78,121.08 102.04,120.28 102.29,119.41 102.55,118.47 102.81,117.52 103.06,116.75 103.32,115.51 103.57,114.65 103.82,113.52 104.08,112.57 104.33,111.39 104.59,110.29 104.84,108.97 105.10,107.78 105.36,106.60 105.61,105.36 105.87,104.05 106.12,102.83 106.38,101.50 106.63,100.17 106.88,98.73 107.14,97.41 107.39,96.12 107.65,94.64 107.91,93.25 108.16,91.81 108.42,90.54 108.67,89.10 108.92,87.62 109.18,86.40 109.43,85.05 109.69,83.67 109.94,82.41 110.20,81.09 110.46,79.86 110.71,78.65 110.97,77.35 111.22,76.27 111.47,75.19 111.73,74.07 111.98,73.04 112.24,72.04 112.49,71.09 112.75,70.19 113.01,69.57 113.26,68.78 113.52,68.22 113.77,67.50 114.03,66.96 114.28,66.59 114.53,66.23 114.79,65.94 115.04,65.75 115.30,65.48 115.56,65.33 115.81,65.51 116.07,65.40 116.32,65.63 116.57,65.89 116.83,66.01 117.08,66.30 117.34,66.69 117.59,67.15 117.85,67.51 118.11,68.17 118.36,68.70 118.62,69.34 118.87,70.12 119.12,70.92 119.38,71.70 119.63,72.44 119.89,73.27 120.14,74.31 120.40,75.18 120.66,76.03 120.91,77.24 121.17,78.14 121.42,79.21 121.67,80.27 121.93,81.51 122.18,82.52 122.44,83.76 122.69,84.75 122.95,86.04 123.21,87.13 123.46,88.38 123.72,89.49 123.97,90.77 124.22,91.83 124.48,92.97 124.73,94.16 124.99,95.21 125.24,96.42 125.50,97.52 125.76,98.64 126.01,99.65 126.27,100.87 126.52,101.89 126.78,102.92 127.03,103.87 127.28,104.87 127.54,105.78 127.79,106.74 128.05,107.69 128.31,108.53 128.56,109.33 128.82,110.30 129.07,110.86 129.32,111.72 129.58,112.42 129.83,113.06 130.09,113.73 130.34,114.42 130.60,114.92 130.86,115.36 131.11,115.89 131.37,116.36 131.62,116.91 131.88,117.29 132.13,117.59 132.38,117.90 132.64,118.29 132.89,118.63 133.15,118.92 133.41,118.92 133.66,119.27 133.92,119.28 134.17,119.36 134.43,119.28 134.68,119.50 134.93,119.53 135.19,119.46 135.44,119.40 135.70,119.25 135.96,119.16 136.21,119.10 136.47,118.99 136.72,118.62 136.97,118.43 137.23,118.02 137.48,117.87 137.74,117.43 137.99,117.12 138.25,116.72 138.51,116.13 138.76,115.77 139.02,115.30 139.27,114.72 139.53,114.27 139.78,113.67 140.03,113.09 140.29,112.30 140.54,111.76 140.80,111.06 141.06,110.33 141.31,109.69 141.57,108.95 141.82,108.27 142.08,107.35 142.33,106.56 142.58,105.78 142.84,104.84 143.09,104.17 143.35,103.16 143.61,102.39 143.86,101.48 144.12,100.51 144.37,99.50 144.62,98.74 144.88,97.80 145.13,96.88 145.39,95.74 145.64,94.90 145.90,93.97 146.16,92.94 146.41,92.13 146.67,91.37 146.92,90.36 147.18,89.51 147.43,88.42 147.68,87.78 147.94,86.82 148.19,86.05 148.45,85.24 148.71,84.43 148.96,83.69 149.22,83.00 149.47,82.34 149.72,81.64 149.98,81.05 150.23,80.45 150.49,79.83 150.74,79.33 151.00,78.82 151.26,78.45 151.51,77.91 151.77,77.76 152.02,77.49 152.28,77.11 152.53,77.04 152.78,76.84 153.04,76.68 153.29,76.72 153.55,76.76 153.81,76.75 154.06,76.95 154.32,77.22 154.57,77.55 154.82,77.82 155.08,78.30 155.33,78.69 155.59,79.21 155.84,79.66 156.10,80.22 156.36,80.98 156.61,81.67 156.87,82.46 157.12,83.26 157.38,84.00 157.63,84.77 157.88,85.66 158.14,86.56 158.39,87.57 158.65,88.73 158.91,89.40 159.16,90.36 159.42,91.40 159.67,92.41 159.92,93.41 160.18,94.29 160.43,95.53 160.69,96.44 160.94,97.53 161.20,98.56 161.46,99.68 161.71,100.73 161.97,101.83 162.22,102.67 162.47,103.75 162.73,104.81 162.98,105.72 163.24,106.69 163.49,107.30 163.75,108.38 164.01,109.20 164.26,110.18 164.52,110.97 164.77,111.51 165.03,112.41 165.28,113.08 165.53,113.59 165.79,114.23 166.04,115.04 166.30,115.68 166.56,116.30 166.81,116.93 167.07,117.17 167.32,118.11 167.57,118.45 167.83,119.16 168.08,119.52 168.34,119.70 168.59,120.09 168.85,120.48 169.11,120.93 169.36,121.32 169.62,121.61 169.87,121.89 170.12,121.94 170.38,122.14 170.63,122.55 170.89,122.94 171.14,123.22 171.40,123.23 171.66,123.51 171.91,123.96 172.17,123.59 172.42,123.98 172.68,124.19 172.93,124.43 173.18,124.57 173.44,124.37 173.69,124.82 173.95,124.74 174.21,124.75 174.46,124.61 174.72,124.94 174.97,125.16 175.22,125.32 175.48,125.14 175.73,125.19 175.99,125.55 176.24,125.41 176.50,125.63 176.76,126.00 177.01,125.94 177.27,125.61 177.52,125.53 177.78,125.75 178.03,126.00 178.28,126.16 178.54,125.94 178.79,126.03 179.05,126.52 179.31,126.06 179.56,126.41 179.82,126.15 180.07,126.22 180.33,126.22 180.58,126.19 180.83,126.32 181.09,126.77 181.34,126.81 181.60,126.37 181.86,126.54 182.11,127.07 182.37,127.22 182.62,126.57 182.88,126.29 183.13,126.67 183.38,126.97 183.64,126.88 183.89,127.66 184.15,127.28 184.41,126.82 184.66,126.90 184.92,127.69 185.17,126.90 185.43,127.11 185.68,127.05 185.93,127.37 186.19,127.36 186.44,127.68 186.70,127.37 186.96,127.26 187.21,127.77 187.47,127.48 187.72,127.75 187.97,127.39 188.23,127.44 188.48,128.34 188.74,127.66 188.99,127.55 189.25,128.00 189.51,127.95 189.76,127.98 190.02,128.28 190.27,128.05 190.53,127.66 190.78,127.98 191.03,127.75 191.29,127.93 191.54,127.91 191.80,128.24 192.06,128.11 192.31,127.82 192.57,128.00 192.82,128.35 193.07,128.66 193.33,128.76 193.58,128.49 193.84,128.48 194.09,129.12 194.35,128.62 194.61,128.63 194.86,128.68 195.12,128.95 195.37,128.23 195.62,128.65 195.88,129.29 196.13,129.16 196.39,128.80 196.64,128.91 196.90,129.06" fill="none" stroke="#9467bd" stroke-width="1.7" stroke-linejoin="round" />
<polyline points="43.90,136.82 44.16,136.83 44.41,136.84 44.67,136.88 44.92,136.78 45.17,136.98 45.43,136.86 45.68,136.73 45.94,136.86 46.19,136.88 46.45,136.69 46.71,136.74 46.96,136.81 47.22,136.83 47.47,136.81 47.73,136.81 47.98,136.80 48.23,136.83 48.49,136.75 48.74,136.81 49.00,136.89 49.26,136.85 49.51,136.76 49.77,136.82 50.02,136.90 50.27,136.65 50.53,136.70 50.78,136.76 51.04,136.75 51.29,136.67 51.55,136.61 51.81,136.72 52.06,136.64 52.32,136.69 52.57,136.62 52.83,136.69 53.08,136.71 53.33,136.57 53.59,136.56 53.84,136.49 54.10,136.55 54.36,136.39 54.61,136.44 54.87,136.32 55.12,136.40 55.38,136.24 55.63,136.30 55.88,136.25 56.14,136.15 56.39,136.27 56.65,136.18 56.91,135.94 57.16,136.09 57.42,135.97 57.67,135.85 57.92,135.73 58.18,135.78 58.43,135.67 58.69,135.68 58.94,135.56 59.20,135.40 59.46,135.37 59.71,135.31 59.97,135.20 60.22,135.14 60.47,135.06 60.73,135.01 60.98,134.97 61.24,134.79 61.49,134.82 61.75,134.61 62.01,134.46 62.26,134.42 62.52,134.30 62.77,134.44 63.02,134.29 63.28,134.29 63.53,134.22 63.79,134.22 64.04,134.14 64.30,133.96 64.56,133.93 64.81,133.86 65.07,133.83 65.32,133.82 65.58,133.89 65.83,133.83 66.08,133.77 66.34,133.73 66.59,133.83 66.85,133.85 67.11,133.85 67.36,133.75 67.62,133.83 67.87,133.92 68.12,133.98 68.38,133.94 68.63,134.12 68.89,134.07 69.14,134.15 69.40,134.21 69.66,134.22 69.91,134.27 70.17,134.17 70.42,134.42 70.67,134.46 70.93,134.63 71.18,134.75 71.44,134.66 71.69,134.69 71.95,134.95 72.21,134.97 72.46,134.98 72.72,135.13 72.97,135.36 73.22,135.23 73.48,135.38 73.73,135.41 73.99,135.60 74.24,135.56 74.50,135.63 74.76,135.81 75.01,135.81 75.27,135.96 75.52,136.02 75.78,136.12 76.03,136.16 76.28,136.24 76.54,136.19 76.79,136.34 77.05,136.46 77.31,136.37 77.56,136.47 77.82,136.50 78.07,136.62 78.33,136.62 78.58,136.72 78.83,136.81 79.09,136.79 79.34,136.82 79.60,136.85 79.86,136.84 80.11,137.02 80.37,136.92 80.62,137.01 80.88,136.99 81.13,136.95 81.38,136.98 81.64,137.03 81.89,136.94 82.15,136.98 82.41,136.91 82.66,136.88 82.92,136.96 83.17,136.99 83.43,136.89 83.68,136.82 83.93,136.83 84.19,136.89 84.44,136.89 84.70,136.80 84.96,136.77 85.21,136.63 85.47,136.63 85.72,136.54 85.97,136.56 86.23,136.41 86.48,136.47 86.74,136.39 86.99,136.41 87.25,136.31 87.51,136.23 87.76,136.20 88.02,136.13 88.27,136.20 88.53,136.09 88.78,135.97 89.03,136.01 89.29,135.99 89.54,135.95 89.80,135.92 90.06,135.82 90.31,135.70 90.57,135.70 90.82,135.67 91.08,135.66 91.33,135.62 91.58,135.34 91.84,135.44 92.09,135.33 92.35,135.29 92.61,135.17 92.86,135.11 93.12,134.99 93.37,134.80 93.62,134.83 93.88,134.63 94.13,134.54 94.39,134.36 94.64,134.30 94.90,134.08 95.16,134.00 95.41,133.88 95.67,133.66 95.92,133.44 96.17,133.24 96.43,132.96 96.68,132.63 96.94,132.51 97.19,132.14 97.45,131.86 97.71,131.60 97.96,131.29 98.22,130.85 98.47,130.48 98.72,130.14 98.98,129.71 99.23,129.27 99.49,128.89 99.74,128.32 100.00,127.80 100.26,127.18 100.51,126.80 100.77,126.19 101.02,125.52 101.28,124.92 101.53,124.23 101.78,123.51 102.04,122.80 102.29,122.03 102.55,121.22 102.81,120.53 103.06,119.56 103.32,118.86 103.57,117.72 103.82,116.84 104.08,115.98 104.33,114.90 104.59,113.97 104.84,112.90 105.10,111.83 105.36,110.78 105.61,109.70 105.87,108.54 106.12,107.45 106.38,106.31 106.63,105.17 106.88,104.04 107.14,102.64 107.39,101.49 107.65,100.41 107.91,99.09 108.16,97.88 108.42,96.81 108.67,95.51 108.92,94.26 109.18,92.95 109.43,91.80 109.69,90.62 109.94,89.52 110.20,88.34 110.46,87.36 110.71,86.17 110.97,85.11 111.22,84.21 111.47,83.14 111.73,82.11 111.98,81.19 112.24,80.36 112.49,79.68 112.75,78.89 113.01,78.21 113.26,77.46 113.52,77.00 113.77,76.48 114.03,76.05 114.28,75.54 114.53,75.19 114.79,74.98 115.04,74.79 115.30,74.63 115.56,74.46 115.81,74.61 116.07,74.57 116.32,74.65 116.57,74.79 116.83,74.94 117.08,75.22 117.34,75.56 117.59,75.85 117.85,76.28 118.11,76.79 118.36,77.29 118.62,77.93 118.87,78.44 119.12,79.13 119.38,79.83 119.63,80.49 119.89,81.33 120.14,82.07 120.40,82.86 120.66,83.65 120.91,84.57 121.17,85.42 121.42,86.27 121.67,87.26 121.93,88.33 122.18,89.35 122.44,90.28 122.69,91.28 122.95,92.35 123.21,93.35 123.46,94.36 123.72,95.32 123.97,96.21 124.22,97.21 124.48,98.39 124.73,99.36 124.99,100.41 125.24,101.41 125.50,102.30 125.76,103.25 126.01,104.24 126.27,105.09 126.52,106.06 126.78,106.87 127.03,107.84 127.28,108.61 127.54,109.50 127.79,110.28 128.05,111.03 128.31,111.91 128.56,112.60 128.82,113.26 129.07,113.95 129.32,114.57 129.58,115.25 129.83,115.87 130.09,116.36 130.34,116.87 130.60,117.44 130.86,117.79 131.11,118.27 131.37,118.68 131.62,119.07 131.88,119.52 132.13,119.67 132.38,120.13 132.64,120.33 132.89,120.55 133.15,120.78 133.41,120.97 133.66,121.18 133.92,121.27 134.17,121.34 134.43,121.33 134.68,121.48 134.93,121.40 135.19,121.39 135.44,121.37 135.70,121.33 135.96,121.19 136.21,121.16 136.47,120.89 136.72,120.68 136.97,120.52 137.23,120.22 137.48,119.96 137.74,119.73 137.99,119.32 138.25,119.05 138.51,118.50 138.76,118.32 139.02,117.88 139.27,117.43 139.53,116.91 139.78,116.36 140.03,115.91 140.29,115.40 140.54,114.71 140.80,114.18 141.06,113.66 141.31,113.03 141.57,112.47 141.82,111.72 142.08,110.94 142.33,110.43 142.58,109.73 142.84,108.91 143.09,108.33 143.35,107.35 143.61,106.77 143.86,105.95 144.12,105.13 144.37,104.26 144.62,103.52 144.88,102.86 145.13,102.04 145.39,101.12 145.64,100.46 145.90,99.54 146.16,98.78 146.41,97.88 146.67,97.06 146.92,96.52 147.18,95.56 147.43,94.79 147.68,94.13 147.94,93.39 148.19,92.71 148.45,91.96 148.71,91.24 148.96,90.53 149.22,89.90 149.47,89.41 149.72,88.87 149.98,88.21 150.23,87.95 150.49,87.38 150.74,86.80 151.00,86.29 151.26,86.11 151.51,85.72 151.77,85.51 152.02,85.18 152.28,84.97 152.53,84.84 152.78,84.64 153.04,84.59 153.29,84.50 153.55,84.56 153.81,84.70 154.06,84.73 154.32,84.85 154.57,85.19 154.82,85.32 155.08,85.71 155.33,86.14 155.59,86.53 155.84,87.04 156.10,87.58 156.36,88.00 156.61,88.59 156.87,89.32 157.12,89.96 157.38,90.66 157.63,91.31 157.88,92.00 158.14,92.94 158.39,93.66 158.65,94.50 158.91,95.28 159.16,96.05 159.42,97.10 159.67,98.07 159.92,98.78 160.18,99.78 160.43,100.37 160.69,101.45 160.94,102.28 161.20,103.10 161.46,104.00 161.71,104.95 161.97,105.78 162.22,106.55 162.47,107.52 162.73,108.14 162.98,109.11 163.24,110.18 163.49,110.63 163.75,111.66 164.01,112.18 164.26,112.69 164.52,113.51 164.77,114.42 165.03,115.03 165.28,115.56 165.53,116.00 165.79,116.83 166.04,117.17 166.30,117.80 166.56,118.36 166.81,118.85 167.07,119.08 167.32,119.93 167.57,120.31 167.83,120.44 168.08,120.81 168.34,121.48 168.59,121.77 168.85,122.13 169.11,122.20 169.36,122.66 169.62,122.63 169.87,122.99 170.12,123.30 170.38,123.54 170.63,123.71 170.89,123.86 171.14,124.18 171.40,124.33 171.66,124.41 171.91,124.71 172.17,124.68 172.42,125.01 172.68,125.25 172.93,125.21 173.18,125.08 173.44,125.21 173.69,125.87 173.95,125.63 174.21,125.87 174.46,125.93 174.72,126.02 174.97,126.08 175.22,126.21 175.48,126.24 175.73,126.21 175.99,126.56 176.24,126.63 176.50,126.67 176.76,126.73 177.01,126.44 177.27,126.85 177.52,126.69 177.78,126.71 178.03,126.63 178.28,126.82 178.54,126.65 178.79,126.94 179.05,126.92 179.31,126.85 179.56,127.38 179.82,127.02 180.07,126.82 180.33,127.17 180.58,127.29 180.83,126.85 181.09,127.30 181.34,127.08 181.60,127.94 181.86,127.42 182.11,127.60 182.37,127.44 182.62,127.30 182.88,127.64 183.13,127.70 183.38,128.35 183.64,127.55 183.89,127.46 184.15,127.78 184.41,127.96 184.66,127.80 184.92,127.68 185.17,127.82 185.43,127.51 185.68,128.19 185.93,128.42 186.19,128.01 186.44,127.86 186.70,128.32 186.96,128.25 187.21,128.45 187.47,128.64 187.72,128.55 187.97,128.92 188.23,128.38 188.48,128.37 188.74,128.31 188.99,128.77 189.25,128.77 189.51,129.07 189.76,129.05 190.02,128.51 190.27,128.06 190.53,129.07 190.78,128.95 191.03,128.65 191.29,129.10 191.54,128.82 191.80,129.08 192.06,129.12 192.31,128.86 192.57,129.19 192.82,129.49 193.07,129.00 193.33,129.24 193.58,129.42 193.84,129.53 194.09,129.22 194.35,129.59 194.61,129.41 194.86,129.23 195.12,129.55 195.37,129.28 195.62,129.95 195.88,129.49 196.13,129.54 196.39,129.24 196.64,129.75 196.90,129.57" fill="none" stroke="#8c564b" stroke-width="1.7" stroke-linejoin="round" />
<polyline points="43.90,137.34 44.16,137.40 44.41,137.38 44.67,137.37 44.92,137.28 45.17,137.37 45.43,137.32 45.68,137.27 45.94,137.25 46.19,137.26 46.45,137.23 46.71,137.38 46.96,137.34 47.22,137.29 47.47,137.24 47.73,137.28 47.98,137.35 48.23,137.31 48.49,137.39 48.74,137.24 49.00,137.39 49.26,137.27 49.51,137.21 49.77,137.22 50.02,137.36 50.27,137.24 50.53,137.27 50.78,137.26 51.04,137.13 51.29,137.20 51.55,137.30 51.81,137.26 52.06,137.14 52.32,137.15 52.57,137.22 52.83,137.23 53.08,137.15 53.33,137.12 53.59,137.02 53.84,137.08 54.10,136.98 54.36,136.92 54.61,137.06 54.87,136.96 55.12,136.80 55.38,136.88 55.63,136.81 55.88,136.71 56.14,136.77 56.39,136.70 56.65,136.73 56.91,136.54 57.16,136.55 57.42,136.48 57.67,136.55 57.92,136.28 58.18,136.23 58.43,136.25 58.69,136.06 58.94,136.21 59.20,135.99 59.46,136.01 59.71,135.67 59.97,135.91 60.22,135.75 60.47,135.64 60.73,135.47 60.98,135.38 61.24,135.33 61.49,135.29 61.75,135.07 62.01,135.16 62.26,135.02 62.52,134.86 62.77,134.97 63.02,134.88 63.28,134.70 63.53,134.68 63.79,134.73 64.04,134.59 64.30,134.43 64.56,134.52 64.81,134.41 65.07,134.42 65.32,134.44 65.58,134.28 65.83,134.30 66.08,134.28 66.34,134.35 66.59,134.34 66.85,134.34 67.11,134.33 67.36,134.40 67.62,134.43 67.87,134.35 68.12,134.53 68.38,134.53 68.63,134.57 68.89,134.63 69.14,134.72 69.40,134.75 69.66,134.72 69.91,134.85 70.17,134.94 70.42,134.87 70.67,135.12 70.93,135.05 71.18,135.17 71.44,135.35 71.69,135.38 71.95,135.46 72.21,135.44 72.46,135.54 72.72,135.69 72.97,135.83 73.22,135.94 73.48,135.93 73.73,136.09 73.99,136.09 74.24,136.17 74.50,136.22 74.76,136.26 75.01,136.39 75.27,136.44 75.52,136.55 75.78,136.55 76.03,136.63 76.28,136.65 76.54,136.73 76.79,136.92 77.05,137.03 77.31,136.96 77.56,136.99 77.82,137.16 78.07,137.08 78.33,137.21 78.58,137.27 78.83,137.29 79.09,137.43 79.34,137.49 79.60,137.44 79.86,137.52 80.11,137.48 80.37,137.50 80.62,137.67 80.88,137.58 81.13,137.51 81.38,137.69 81.64,137.58 81.89,137.63 82.15,137.67 82.41,137.47 82.66,137.46 82.92,137.54 83.17,137.52 83.43,137.39 83.68,137.38 83.93,137.42 84.19,137.34 84.44,137.35 84.70,137.35 84.96,137.25 85.21,137.28 85.47,137.18 85.72,137.19 85.97,137.17 86.23,137.13 86.48,137.03 86.74,136.96 86.99,136.95 87.25,136.99 87.51,136.86 87.76,136.91 88.02,136.88 88.27,136.78 88.53,136.68 88.78,136.64 89.03,136.61 89.29,136.51 89.54,136.50 89.80,136.53 90.06,136.41 90.31,136.43 90.57,136.34 90.82,136.27 91.08,136.26 91.33,136.29 91.58,136.15 91.84,136.09 92.09,136.01 92.35,135.96 92.61,135.92 92.86,135.87 93.12,135.65 93.37,135.55 93.62,135.48 93.88,135.40 94.13,135.16 94.39,135.12 94.64,135.03 94.90,134.84 95.16,134.75 95.41,134.54 95.67,134.40 95.92,134.20 96.17,134.03 96.43,133.86 96.68,133.58 96.94,133.31 97.19,133.18 97.45,132.90 97.71,132.65 97.96,132.23 98.22,131.98 98.47,131.58 98.72,131.33 98.98,130.86 99.23,130.55 99.49,130.13 99.74,129.63 100.00,129.23 100.26,128.76 100.51,128.16 100.77,127.69 101.02,127.06 101.28,126.40 101.53,125.98 101.78,125.34 102.04,124.75 102.29,124.05 102.55,123.23 102.81,122.52 103.06,121.76 103.32,120.96 103.57,120.23 103.82,119.44 104.08,118.42 104.33,117.58 104.59,116.62 104.84,115.76 105.10,114.76 105.36,113.86 105.61,112.84 105.87,111.83 106.12,110.77 106.38,109.67 106.63,108.66 106.88,107.80 107.14,106.55 107.39,105.45 107.65,104.31 107.91,103.25 108.16,102.20 108.42,101.11 108.67,99.98 108.92,98.91 109.18,97.70 109.43,96.67 109.69,95.64 109.94,94.54 110.20,93.44 110.46,92.58 110.71,91.58 110.97,90.64 111.22,89.77 111.47,88.85 111.73,88.01 111.98,87.10 112.24,86.33 112.49,85.57 112.75,84.98 113.01,84.23 113.26,83.76 113.52,83.18 113.77,82.61 114.03,82.18 114.28,81.82 114.53,81.46 114.79,81.27 115.04,81.16 115.30,81.03 115.56,80.99 115.81,80.91 116.07,81.00 116.32,81.07 116.57,81.22 116.83,81.44 117.08,81.41 117.34,81.78 117.59,82.27 117.85,82.48 118.11,82.95 118.36,83.49 118.62,83.86 118.87,84.37 119.12,84.91 119.38,85.48 119.63,86.24 119.89,86.86 120.14,87.52 120.40,88.25 120.66,89.02 120.91,89.82 121.17,90.55 121.42,91.52 121.67,92.38 121.93,93.05 122.18,94.00 122.44,94.84 122.69,95.79 122.95,96.73 123.21,97.64 123.46,98.52 123.72,99.47 123.97,100.36 124.22,101.27 124.48,102.12 124.73,103.02 124.99,103.87 125.24,104.89 125.50,105.73 125.76,106.53 126.01,107.42 126.27,108.42 126.52,109.07 126.78,109.90 127.03,110.71 127.28,111.47 127.54,112.23 127.79,112.84 128.05,113.57 128.31,114.28 128.56,114.88 128.82,115.52 129.07,116.23 129.32,116.83 129.58,117.39 129.83,117.81 130.09,118.36 130.34,118.77 130.60,119.27 130.86,119.74 131.11,120.20 131.37,120.52 131.62,120.72 131.88,121.21 132.13,121.51 132.38,121.75 132.64,121.90 132.89,122.19 133.15,122.45 133.41,122.58 133.66,122.69 133.92,122.79 134.17,122.82 134.43,122.79 134.68,122.89 134.93,122.94 135.19,122.97 135.44,122.97 135.70,122.82 135.96,122.69 136.21,122.60 136.47,122.52 136.72,122.31 136.97,122.17 137.23,121.96 137.48,121.73 137.74,121.45 137.99,121.18 138.25,120.81 138.51,120.54 138.76,120.20 139.02,119.76 139.27,119.39 139.53,118.95 139.78,118.63 140.03,118.05 140.29,117.65 140.54,117.22 140.80,116.66 141.06,116.19 141.31,115.62 141.57,115.02 141.82,114.36 142.08,113.90 142.33,113.19 142.58,112.59 142.84,111.84 143.09,111.27 143.35,110.58 143.61,109.86 143.86,109.32 144.12,108.59 144.37,107.96 144.62,107.21 144.88,106.43 145.13,105.75 145.39,105.00 145.64,104.34 145.90,103.64 146.16,102.89 146.41,102.23 146.67,101.55 146.92,100.88 147.18,100.11 147.43,99.40 147.68,98.84 147.94,98.14 148.19,97.62 148.45,96.93 148.71,96.26 148.96,95.76 149.22,95.09 149.47,94.61 149.72,94.05 149.98,93.63 150.23,93.23 150.49,92.71 150.74,92.27 151.00,91.98 151.26,91.59 151.51,91.36 151.77,91.07 152.02,90.74 152.28,90.63 152.53,90.53 152.78,90.31 153.04,90.26 153.29,90.26 153.55,90.18 153.81,90.48 154.06,90.35 154.32,90.40 154.57,90.71 154.82,91.10 155.08,91.16 155.33,91.40 155.59,91.91 155.84,92.43 156.10,92.85 156.36,93.30 156.61,93.79 156.87,94.27 157.12,94.89 157.38,95.71 157.63,96.20 157.88,96.85 158.14,97.37 158.39,98.26 158.65,99.04 158.91,99.69 159.16,100.39 159.42,101.31 159.67,101.83 159.92,102.70 160.18,103.39 160.43,104.17 160.69,104.95 160.94,105.64 161.20,106.38 161.46,107.36 161.71,108.11 161.97,108.78 162.22,109.63 162.47,110.45 162.73,111.12 162.98,111.94 163.24,112.61 163.49,113.59 163.75,113.91 164.01,114.39 164.26,115.13 164.52,115.75 164.77,116.40 165.03,117.08 165.28,117.49 165.53,118.07 165.79,118.61 166.04,119.06 166.30,119.63 166.56,120.00 166.81,120.37 167.07,120.74 167.32,121.23 167.57,121.52 167.83,121.96 168.08,122.62 168.34,122.90 168.59,122.98 168.85,123.39 169.11,123.44 169.36,123.96 169.62,124.08 169.87,124.33 170.12,124.58 170.38,124.76 170.63,124.87 170.89,125.04 171.14,125.31 171.40,125.36 171.66,125.46 171.91,125.72 172.17,125.93 172.42,126.06 172.68,126.15 172.93,126.27 173.18,126.28 173.44,125.93 173.69,126.30 173.95,126.58 174.21,126.56 174.46,126.64 174.72,126.60 174.97,126.64 175.22,127.15 175.48,126.62 175.73,127.26 175.99,127.15 176.24,127.38 176.50,127.61 176.76,127.69 177.01,127.00 177.27,127.15 177.52,127.69 177.78,127.77 178.03,127.29 178.28,127.84 178.54,127.59 178.79,127.31 179.05,127.61 179.31,127.50 179.56,127.81 179.82,128.27 180.07,128.12 180.33,128.37 180.58,127.96 180.83,128.36 181.09,128.08 181.34,128.26 181.60,128.35 181.86,128.12 182.11,128.38 182.37,128.50 182.62,128.13 182.88,128.40 183.13,128.77 183.38,128.20 183.64,128.83 183.89,128.49 184.15,128.46 184.41,128.69 184.66,128.86 184.92,128.78 185.17,128.82 185.43,129.04 185.68,128.62 185.93,129.00 186.19,129.07 186.44,128.61 186.70,129.15 186.96,129.38 187.21,129.07 187.47,129.09 187.72,129.12 187.97,128.66 188.23,129.34 188.48,128.92 188.74,129.07 188.99,128.96 189.25,129.38 189.51,129.47 189.76,129.48 190.02,129.39 190.27,129.27 190.53,129.14 190.78,130.02 191.03,129.36 191.29,129.57 191.54,129.68 191.80,129.99 192.06,129.69 192.31,130.26 192.57,129.54 192.82,130.12 193.07,129.95 193.33,130.00 193.58,129.86 193.84,130.37 194.09,129.87 194.35,130.01 194.61,129.77 194.86,130.12 195.12,130.26 195.37,130.75 195.62,130.40 195.88,129.93 196.13,130.50 196.39,130.55 196.64,130.50 196.90,130.28" fill="none" stroke="#e377c2" stroke-width="1.7" stroke-linejoin="round" />
<polyline points="43.90,137.95 44.16,137.74 44.41,137.81 44.67,137.80 44.92,137.84 45.17,137.72 45.43,137.86 45.68,137.79 45.94,137.83 46.19,137.91 46.45,137.84 46.71,137.79 46.96,137.84 47.22,137.85 47.47,137.82 47.73,137.87 47.98,137.88 48.23,137.81 48.49,137.86 48.74,137.77 49.00,137.76 49.26,137.72 49.51,137.73 49.77,137.80 50.02,137.75 50.27,137.84 50.53,137.74 50.78,137.78 51.04,137.67 51.29,137.78 51.55,137.71 51.81,137.76 52.06,137.66 52.32,137.65 52.57,137.73 52.83,137.53 53.08,137.60 53.33,137.69 53.59,137.64 53.84,137.67 54.10,137.65 54.36,137.52 54.61,137.60 54.87,137.42 55.12,137.50 55.38,137.39 55.63,137.23 55.88,137.31 56.14,137.24 56.39,137.12 56.65,137.16 56.91,137.06 57.16,137.08 57.42,137.00 57.67,136.91 57.92,136.85 58.18,136.83 58.43,136.71 58.69,136.61 58.94,136.54 59.20,136.50 59.46,136.48 59.71,136.31 59.97,136.22 60.22,136.25 60.47,136.25 60.73,136.04 60.98,135.89 61.24,135.82 61.49,135.86 61.75,135.64 62.01,135.69 62.26,135.51 62.52,135.51 62.77,135.36 63.02,135.32 63.28,135.30 63.53,135.18 63.79,135.21 64.04,135.14 64.30,135.08 64.56,135.07 64.81,134.93 65.07,134.89 65.32,134.92 65.58,134.96 65.83,134.85 66.08,134.85 66.34,134.83 66.59,134.87 66.85,134.89 67.11,134.80 67.36,134.94 67.62,134.94 67.87,135.06 68.12,135.01 68.38,135.06 68.63,135.09 68.89,135.09 69.14,135.21 69.40,135.21 69.66,135.32 69.91,135.39 70.17,135.54 70.42,135.47 70.67,135.53 70.93,135.70 71.18,135.76 71.44,135.91 71.69,135.90 71.95,136.03 72.21,136.02 72.46,136.14 72.72,136.18 72.97,136.34 73.22,136.48 73.48,136.46 73.73,136.57 73.99,136.51 74.24,136.69 74.50,136.69 74.76,136.82 75.01,136.95 75.27,137.10 75.52,137.09 75.78,137.12 76.03,137.22 76.28,137.27 76.54,137.34 76.79,137.50 77.05,137.47 77.31,137.59 77.56,137.61 77.82,137.58 78.07,137.83 78.33,137.78 78.58,137.79 78.83,137.79 79.09,137.89 79.34,137.98 79.60,137.92 79.86,137.96 80.11,138.13 80.37,138.04 80.62,138.17 80.88,138.24 81.13,138.15 81.38,138.16 81.64,138.23 81.89,137.99 82.15,138.18 82.41,138.07 82.66,138.04 82.92,137.94 83.17,138.07 83.43,137.93 83.68,138.07 83.93,137.98 84.19,137.97 84.44,137.97 84.70,137.86 84.96,137.74 85.21,137.69 85.47,137.74 85.72,137.81 85.97,137.75 86.23,137.63 86.48,137.59 86.74,137.55 86.99,137.56 87.25,137.56 87.51,137.44 87.76,137.43 88.02,137.30 88.27,137.39 88.53,137.25 88.78,137.18 89.03,137.11 89.29,137.07 89.54,137.20 89.80,137.17 90.06,137.05 90.31,137.06 90.57,137.11 90.82,136.83 91.08,136.84 91.33,136.75 91.58,136.75 91.84,136.63 92.09,136.63 92.35,136.57 92.61,136.39 92.86,136.50 93.12,136.32 93.37,136.37 93.62,136.10 93.88,136.10 94.13,136.06 94.39,135.99 94.64,135.77 94.90,135.52 95.16,135.47 95.41,135.45 95.67,135.33 95.92,134.88 96.17,134.90 96.43,134.77 96.68,134.48 96.94,134.24 97.19,133.96 97.45,133.83 97.71,133.60 97.96,133.25 98.22,133.06 98.47,132.69 98.72,132.38 98.98,132.00 99.23,131.74 99.49,131.37 99.74,130.92 100.00,130.49 100.26,130.17 100.51,129.68 100.77,129.14 101.02,128.67 101.28,127.99 101.53,127.54 101.78,126.94 102.04,126.43 102.29,125.81 102.55,125.17 102.81,124.45 103.06,123.85 103.32,123.02 103.57,122.43 103.82,121.57 104.08,120.84 104.33,120.08 104.59,119.15 104.84,118.34 105.10,117.55 105.36,116.71 105.61,115.72 105.87,114.91 106.12,113.90 106.38,113.04 106.63,112.03 106.88,111.12 107.14,110.11 107.39,109.02 107.65,108.02 107.91,107.17 108.16,106.16 108.42,105.25 108.67,104.14 108.92,103.10 109.18,102.24 109.43,101.28 109.69,100.24 109.94,99.35 110.20,98.38 110.46,97.39 110.71,96.56 110.97,95.69 111.22,94.78 111.47,94.07 111.73,93.26 111.98,92.56 112.24,91.90 112.49,91.10 112.75,90.65 113.01,89.98 113.26,89.52 113.52,89.01 113.77,88.60 114.03,88.15 114.28,87.77 114.53,87.44 114.79,87.40 115.04,87.10 115.30,87.01 115.56,86.96 115.81,86.90 116.07,86.90 116.32,86.98 116.57,87.08 116.83,87.11 117.08,87.42 117.34,87.65 117.59,88.02 117.85,88.20 118.11,88.65 118.36,89.03 118.62,89.50 118.87,89.93 119.12,90.48 119.38,91.04 119.63,91.61 119.89,92.15 120.14,92.75 120.40,93.36 120.66,93.97 120.91,94.66 121.17,95.53 121.42,96.27 121.67,96.93 121.93,97.79 122.18,98.45 122.44,99.25 122.69,100.17 122.95,100.87 123.21,101.64 123.46,102.52 123.72,103.38 123.97,104.19 124.22,104.96 124.48,105.85 124.73,106.59 124.99,107.42 125.24,108.25 125.50,109.04 125.76,109.73 126.01,110.57 126.27,111.25 126.52,112.11 126.78,112.73 127.03,113.41 127.28,114.08 127.54,114.72 127.79,115.39 128.05,116.01 128.31,116.67 128.56,117.31 128.82,117.88 129.07,118.40 129.32,118.86 129.58,119.32 129.83,119.83 130.09,120.29 130.34,120.69 130.60,121.16 130.86,121.52 131.11,121.89 131.37,122.21 131.62,122.55 131.88,122.90 132.13,123.11 132.38,123.38 132.64,123.44 132.89,123.65 133.15,123.95 133.41,124.11 133.66,124.18 133.92,124.37 134.17,124.28 134.43,124.41 134.68,124.47 134.93,124.38 135.19,124.35 135.44,124.38 135.70,124.27 135.96,124.35 136.21,124.19 136.47,124.07 136.72,123.97 136.97,123.66 137.23,123.37 137.48,123.38 137.74,123.11 137.99,122.76 138.25,122.57 138.51,122.25 138.76,121.99 139.02,121.59 139.27,121.31 139.53,120.84 139.78,120.46 140.03,120.06 140.29,119.70 140.54,119.23 140.80,118.72 141.06,118.33 141.31,117.84 141.57,117.41 141.82,116.78 142.08,116.22 142.33,115.60 142.58,115.16 142.84,114.60 143.09,113.85 143.35,113.26 143.61,112.79 143.86,112.14 144.12,111.60 144.37,110.86 144.62,110.14 144.88,109.54 145.13,109.01 145.39,108.28 145.64,107.70 145.90,107.00 146.16,106.41 146.41,105.70 146.67,105.03 146.92,104.46 147.18,103.84 147.43,103.23 147.68,102.60 147.94,102.10 148.19,101.51 148.45,100.95 148.71,100.31 148.96,99.86 149.22,99.33 149.47,98.91 149.72,98.51 149.98,98.01 150.23,97.54 150.49,97.21 150.74,96.86 151.00,96.52 151.26,96.16 151.51,95.89 151.77,95.68 152.02,95.53 152.28,95.33 152.53,94.90 152.78,95.04 153.04,94.91 153.29,94.89 153.55,95.01 153.81,94.86 154.06,95.04 154.32,95.24 154.57,95.29 154.82,95.59 155.08,95.78 155.33,96.19 155.59,96.43 155.84,96.73 156.10,97.21 156.36,97.71 156.61,98.13 156.87,98.50 157.12,99.19 157.38,99.72 157.63,100.12 157.88,100.75 158.14,101.37 158.39,102.03 158.65,102.60 158.91,103.22 159.16,103.91 159.42,104.76 159.67,105.24 159.92,106.12 160.18,106.52 160.43,107.39 160.69,107.99 160.94,108.69 161.20,109.46 161.46,110.01 161.71,110.80 161.97,111.31 162.22,112.13 162.47,112.84 162.73,113.29 162.98,114.04 163.24,114.81 163.49,115.51 163.75,115.84 164.01,116.49 164.26,117.06 164.52,117.77 164.77,118.34 165.03,118.89 165.28,119.16 165.53,119.79 165.79,120.15 166.04,120.93 166.30,120.98 166.56,121.59 166.81,122.23 167.07,122.43 167.32,122.57 167.57,122.77 167.83,123.64 168.08,123.77 168.34,123.87 168.59,124.37 168.85,124.48 169.11,124.82 169.36,124.89 169.62,125.34 169.87,125.39 170.12,125.66 170.38,125.71 170.63,125.91 170.89,125.91 171.14,126.19 171.40,126.09 171.66,126.77 171.91,126.69 172.17,126.64 172.42,126.87 172.68,127.44 172.93,127.05 173.18,127.29 173.44,126.86 173.69,127.40 173.95,127.34 174.21,127.72 174.46,127.50 174.72,128.21 174.97,127.96 175.22,127.90 175.48,128.20 175.73,127.76 175.99,128.01 176.24,127.74 176.50,128.40 176.76,128.34 177.01,128.09 177.27,128.38 177.52,128.15 177.78,128.24 178.03,128.57 178.28,128.43 178.54,128.39 178.79,128.50 179.05,128.63 179.31,128.74 179.56,128.72 179.82,128.50 180.07,128.30 180.33,129.11 180.58,129.06 180.83,128.91 181.09,128.58 181.34,129.14 181.60,128.46 181.86,128.50 182.11,129.61 182.37,128.94 182.62,129.00 182.88,129.27 183.13,129.65 183.38,129.18 183.64,129.38 183.89,129.04 184.15,129.22 184.41,129.62 184.66,128.96 184.92,129.03 185.17,129.14 185.43,129.52 185.68,129.35 185.93,129.59 186.19,129.78 186.44,130.14 186.70,129.65 186.96,130.25 187.21,129.62 187.47,130.17 187.72,129.82 187.97,129.98 188.23,130.23 188.48,130.24 188.74,130.16 188.99,129.68 189.25,130.00 189.51,130.20 189.76,129.96 190.02,130.50 190.27,130.63 190.53,130.51 190.78,130.05 191.03,130.43 191.29,130.36 191.54,130.40 191.80,130.58 192.06,130.19 192.31,130.36 192.57,130.80 192.82,130.88 193.07,130.67 193.33,130.93 193.58,130.74 193.84,130.58 194.09,130.79 194.35,130.80 194.61,131.01 194.86,131.13 195.12,131.22 195.37,130.66 195.62,131.23 195.88,131.05 196.13,131.08 196.39,131.03 196.64,131.27 196.90,131.63" fill="none" stroke="#7f7f7f" stroke-width="1.7" stroke-linejoin="round" />
<polyline points="43.90,138.24 44.16,138.43 44.41,138.32 44.67,138.42 44.92,138.32 45.17,138.42 45.43,138.25 45.68,138.33 45.94,138.45 46.19,138.25 46.45,138.46 46.71,138.37 46.96,138.28 47.22,138.37 47.47,138.26 47.73,138.34 47.98,138.37 48.23,138.26 48.49,138.33 48.74,138.35 49.00,138.26 49.26,138.33 49.51,138.40 49.77,138.35 50.02,138.15 50.27,138.15 50.53,138.38 50.78,138.23 51.04,138.19 51.29,138.27 51.55,138.20 51.81,138.30 52.06,138.24 52.32,138.14 52.57,138.19 52.83,138.18 53.08,138.17 53.33,138.22 53.59,138.17 53.84,138.12 54.10,138.07 54.36,138.09 54.61,137.89 54.87,138.08 55.12,138.00 55.38,137.94 55.63,137.82 55.88,137.90 56.14,137.75 56.39,137.77 56.65,137.72 56.91,137.59 57.16,137.51 57.42,137.44 57.67,137.51 57.92,137.32 58.18,137.25 58.43,137.22 58.69,137.15 58.94,137.10 59.20,137.04 59.46,136.90 59.71,136.77 59.97,136.81 60.22,136.70 60.47,136.58 60.73,136.64 60.98,136.38 61.24,136.37 61.49,136.23 61.75,136.26 62.01,136.22 62.26,136.10 62.52,136.00 62.77,136.00 63.02,135.82 63.28,135.80 63.53,135.82 63.79,135.67 64.04,135.65 64.30,135.59 64.56,135.57 64.81,135.55 65.07,135.55 65.32,135.44 65.58,135.42 65.83,135.38 66.08,135.44 66.34,135.37 66.59,135.34 66.85,135.47 67.11,135.40 67.36,135.30 67.62,135.49 67.87,135.50 68.12,135.52 68.38,135.59 68.63,135.55 68.89,135.66 69.14,135.72 69.40,135.81 69.66,135.79 69.91,135.90 70.17,135.99 70.42,136.05 70.67,136.01 70.93,136.18 71.18,136.24 71.44,136.25 71.69,136.42 71.95,136.44 72.21,136.64 72.46,136.62 72.72,136.88 72.97,136.82 73.22,136.94 73.48,137.04 73.73,137.01 73.99,137.11 74.24,137.18 74.50,137.22 74.76,137.36 75.01,137.43 75.27,137.55 75.52,137.50 75.78,137.64 76.03,137.81 76.28,137.88 76.54,137.94 76.79,138.01 77.05,137.95 77.31,138.07 77.56,138.08 77.82,138.25 78.07,138.30 78.33,138.23 78.58,138.48 78.83,138.48 79.09,138.57 79.34,138.52 79.60,138.36 79.86,138.60 80.11,138.51 80.37,138.50 80.62,138.66 80.88,138.68 81.13,138.63 81.38,138.62 81.64,138.76 81.89,138.71 82.15,138.56 82.41,138.70 82.66,138.62 82.92,138.57 83.17,138.63 83.43,138.60 83.68,138.60 83.93,138.58 84.19,138.55 84.44,138.59 84.70,138.49 84.96,138.44 85.21,138.35 85.47,138.38 85.72,138.36 85.97,138.17 86.23,138.24 86.48,138.22 86.74,138.20 86.99,138.13 87.25,138.15 87.51,138.09 87.76,138.07 88.02,138.06 88.27,137.97 88.53,137.99 88.78,137.77 89.03,137.90 89.29,137.69 89.54,137.74 89.80,137.67 90.06,137.59 90.31,137.74 90.57,137.50 90.82,137.53 91.08,137.54 91.33,137.51 91.58,137.39 91.84,137.46 92.09,137.20 92.35,137.26 92.61,137.15 92.86,137.12 93.12,137.09 93.37,137.01 93.62,136.96 93.88,136.75 94.13,136.74 94.39,136.61 94.64,136.51 94.90,136.39 95.16,136.29 95.41,136.11 95.67,136.10 95.92,135.97 96.17,135.77 96.43,135.62 96.68,135.43 96.94,135.18 97.19,134.99 97.45,134.81 97.71,134.67 97.96,134.36 98.22,134.13 98.47,133.84 98.72,133.61 98.98,133.34 99.23,133.00 99.49,132.72 99.74,132.39 100.00,131.97 100.26,131.60 100.51,131.15 100.77,130.78 101.02,130.43 101.28,129.82 101.53,129.33 101.78,129.00 102.04,128.46 102.29,127.83 102.55,127.32 102.81,126.85 103.06,126.09 103.32,125.54 103.57,124.89 103.82,124.18 104.08,123.62 104.33,122.93 104.59,122.13 104.84,121.39 105.10,120.69 105.36,119.86 105.61,119.13 105.87,118.29 106.12,117.60 106.38,116.74 106.63,115.84 106.88,115.11 107.14,114.26 107.39,113.35 107.65,112.51 107.91,111.69 108.16,110.86 108.42,109.82 108.67,109.03 108.92,108.09 109.18,107.37 109.43,106.47 109.69,105.64 109.94,104.80 110.20,104.09 110.46,103.13 110.71,102.44 110.97,101.66 111.22,101.00 111.47,100.14 111.73,99.64 111.98,98.79 112.24,98.31 112.49,97.72 112.75,97.19 113.01,96.55 113.26,96.21 113.52,95.78 113.77,95.40 114.03,94.97 114.28,94.66 114.53,94.48 114.79,94.20 115.04,93.98 115.30,93.92 115.56,93.86 115.81,93.92 116.07,93.77 116.32,93.87 116.57,94.08 116.83,94.16 117.08,94.44 117.34,94.44 117.59,94.78 117.85,94.99 118.11,95.19 118.36,95.69 118.62,95.92 118.87,96.39 119.12,96.87 119.38,97.18 119.63,97.72 119.89,98.29 120.14,98.75 120.40,99.37 120.66,99.96 120.91,100.53 121.17,101.06 121.42,101.85 121.67,102.47 121.93,103.00 122.18,103.81 122.44,104.41 122.69,105.11 122.95,105.86 123.21,106.52 123.46,107.18 123.72,107.88 123.97,108.54 124.22,109.27 124.48,109.93 124.73,110.66 124.99,111.39 125.24,112.01 125.50,112.69 125.76,113.33 126.01,114.05 126.27,114.69 126.52,115.32 126.78,116.02 127.03,116.51 127.28,117.16 127.54,117.74 127.79,118.28 128.05,118.67 128.31,119.37 128.56,119.74 128.82,120.44 129.07,120.80 129.32,121.12 129.58,121.66 129.83,122.06 130.09,122.50 130.34,122.96 130.60,123.16 130.86,123.47 131.11,123.77 131.37,124.01 131.62,124.40 131.88,124.61 132.13,124.99 132.38,125.10 132.64,125.25 132.89,125.35 133.15,125.47 133.41,125.61 133.66,125.78 133.92,125.90 134.17,125.96 134.43,126.01 134.68,126.02 134.93,125.97 135.19,126.04 135.44,126.10 135.70,126.02 135.96,125.70 136.21,125.71 136.47,125.71 136.72,125.57 136.97,125.36 137.23,125.22 137.48,125.04 137.74,124.98 137.99,124.73 138.25,124.40 138.51,124.11 138.76,123.87 139.02,123.50 139.27,123.29 139.53,122.96 139.78,122.63 140.03,122.23 140.29,121.95 140.54,121.41 140.80,121.20 141.06,120.68 141.31,120.25 141.57,119.76 141.82,119.48 142.08,119.00 142.33,118.48 142.58,117.94 142.84,117.43 143.09,117.13 143.35,116.48 143.61,115.92 143.86,115.38 144.12,114.85 144.37,114.33 144.62,113.77 144.88,113.34 145.13,112.62 145.39,112.27 145.64,111.57 145.90,111.06 146.16,110.43 146.41,109.96 146.67,109.30 146.92,108.79 147.18,108.24 147.43,107.68 147.68,107.16 147.94,106.74 148.19,106.18 148.45,105.72 148.71,105.23 148.96,104.81 149.22,104.55 149.47,103.98 149.72,103.56 149.98,103.21 150.23,102.87 150.49,102.47 150.74,102.21 151.00,101.83 151.26,101.53 151.51,101.37 151.77,101.10 152.02,101.05 152.28,100.88 152.53,100.70 152.78,100.64 153.04,100.50 153.29,100.45 153.55,100.34 153.81,100.52 154.06,100.47 154.32,100.73 154.57,100.81 154.82,100.91 155.08,101.16 155.33,101.60 155.59,101.70 155.84,101.97 156.10,102.45 156.36,102.73 156.61,103.11 156.87,103.47 157.12,103.84 157.38,104.50 157.63,104.94 157.88,105.25 158.14,105.79 158.39,106.28 158.65,106.96 158.91,107.43 159.16,108.27 159.42,108.61 159.67,109.31 159.92,109.93 160.18,110.49 160.43,110.89 160.69,111.43 160.94,112.19 161.20,112.76 161.46,113.23 161.71,114.01 161.97,114.52 162.22,115.07 162.47,115.59 162.73,116.30 162.98,117.11 163.24,117.40 163.49,117.84 163.75,118.48 164.01,119.00 164.26,119.53 164.52,119.86 164.77,120.34 165.03,120.78 165.28,121.24 165.53,121.51 165.79,122.01 166.04,122.44 166.30,122.93 166.56,123.20 166.81,123.49 167.07,123.63 167.32,124.06 167.57,124.45 167.83,124.59 168.08,124.87 168.34,125.27 168.59,125.39 168.85,125.83 169.11,125.88 169.36,125.81 169.62,126.15 169.87,126.38 170.12,126.52 170.38,126.71 170.63,127.14 170.89,127.18 171.14,127.36 171.40,127.31 171.66,127.36 171.91,127.29 172.17,127.75 172.42,128.02 172.68,127.89 172.93,128.03 173.18,128.07 173.44,128.20 173.69,128.19 173.95,128.46 174.21,128.37 174.46,128.32 174.72,128.53 174.97,128.52 175.22,128.80 175.48,128.58 175.73,128.82 175.99,128.98 176.24,128.95 176.50,129.03 176.76,129.04 177.01,129.16 177.27,128.76 177.52,128.96 177.78,129.09 178.03,129.14 178.28,129.29 178.54,129.15 178.79,129.41 179.05,129.41 179.31,129.60 179.56,129.22 179.82,129.27 180.07,129.32 180.33,129.35 180.58,130.15 180.83,129.65 181.09,129.48 181.34,129.63 181.60,130.13 181.86,129.75 182.11,129.70 182.37,130.02 182.62,130.19 182.88,130.10 183.13,130.68 183.38,129.98 183.64,130.27 183.89,130.19 184.15,130.19 184.41,130.21 184.66,129.86 184.92,130.46 185.17,130.36 185.43,130.84 185.68,130.53 185.93,130.87 186.19,130.27 186.44,130.49 186.70,130.67 186.96,130.35 187.21,130.84 187.47,130.67 187.72,130.86 187.97,130.92 188.23,130.79 188.48,130.92 188.74,130.84 188.99,131.11 189.25,131.26 189.51,130.58 189.76,130.85 190.02,131.07 190.27,130.96 190.53,131.30 190.78,130.99 191.03,131.48 191.29,131.04 191.54,131.10 191.80,131.24 192.06,131.08 192.31,131.31 192.57,130.91 192.82,131.21 193.07,131.78 193.33,131.68 193.58,131.06 193.84,131.64 194.09,131.45 194.35,131.71 194.61,131.23 194.86,131.37 195.12,131.48 195.37,131.82 195.62,131.83 195.88,131.44 196.13,131.96 196.39,132.39 196.64,131.50 196.90,131.68" fill="none" stroke="#bcbd22" stroke-width="1.7" stroke-linejoin="round" />
</g>
<line x1="74.50" y1="147.4" x2="74.50" y2="151.4" stroke="#4d4d4d" stroke-width="0.9"/>
<text x="68.73 74.65" y="162.10" font-size="10.11" xml:space="preserve">80</text>
<line x1="125.50" y1="147.4" x2="125.50" y2="151.4" stroke="#4d4d4d" stroke-width="0.9"/>
<text x="119.73 125.65" y="162.10" font-size="10.11" xml:space="preserve">85</text>
<line x1="176.50" y1="147.4" x2="176.50" y2="151.4" stroke="#4d4d4d" stroke-width="0.9"/>
<text x="170.73 176.65" y="162.10" font-size="10.11" xml:space="preserve">90</text>
<line x1="39.90" y1="119.80" x2="43.90" y2="119.80" stroke="#4d4d4d" stroke-width="0.9"/>
<text x="31.53" y="123.80" font-size="10.11" xml:space="preserve">2</text>
<line x1="39.90" y1="91.38" x2="43.90" y2="91.38" stroke="#4d4d4d" stroke-width="0.9"/>
<text x="31.53" y="95.38" font-size="10.11" xml:space="preserve">4</text>
<line x1="39.90" y1="62.96" x2="43.90" y2="62.96" stroke="#4d4d4d" stroke-width="0.9"/>
<text x="31.53" y="66.96" font-size="10.11" xml:space="preserve">6</text>
<line x1="39.90" y1="34.54" x2="43.90" y2="34.54" stroke="#4d4d4d" stroke-width="0.9"/>
<text x="31.53" y="38.54" font-size="10.11" xml:space="preserve">8</text>
<text x="56.34 65.55 73.14 76.53 85.74 93.45 96.90 100.37 108.31 113.20 121.25 125.77 129.10 136.82 144.55 148.49 156.21 163.93 167.60 176.49" y="15.00" font-size="13.08" xml:space="preserve">Co Calibration on Au</text>
<text x="58.21 67.10 70.56 78.43 86.27 89.74 97.60 105.33 108.67 117.25 124.99 132.81 137.84 145.81 152.90 156.93 161.71 169.04 177.88" y="174.90" font-size="13.08" xml:space="preserve">Binding Energy (eV)</text>
<text x="168.10" y="29.2" font-size="11.82" font-style="italic" textLength="15.90" lengthAdjust="spacingAndGlyphs">Au</text>
<text x="184.60" y="31.2" font-size="9.07" font-style="italic" textLength="8.80" lengthAdjust="spacingAndGlyphs">4f</text>
<rect x="171.2" y="128.4" width="25.70" height="16.5" fill="#fff" fill-opacity="0.6"/>
<text x="177.34 182.41 190.13" y="140.60" font-size="11.92" font-weight="bold" xml:space="preserve">(a)</text>
<rect x="47.0" y="20.9" width="42.60" height="100.60" rx="2" fill="#fff" fill-opacity="0.8" stroke="#d6d6d6" stroke-width="0.8"/>
<line x1="50.0" y1="27.70" x2="66.0" y2="27.70" stroke="#1f77b4" stroke-width="1.7"/>
<text x="71.63 76.26 78.41" y="31.00" font-size="8.24" xml:space="preserve">0 s</text>
<line x1="50.0" y1="38.62" x2="66.0" y2="38.62" stroke="#ff7f0e" stroke-width="1.7"/>
<text x="71.63 76.26 78.41" y="41.92" font-size="8.24" xml:space="preserve">5 s</text>
<line x1="50.0" y1="49.54" x2="66.0" y2="49.54" stroke="#2ca02c" stroke-width="1.7"/>
<text x="71.63 76.28 80.90 83.05" y="52.84" font-size="8.24" xml:space="preserve">10 s</text>
<line x1="50.0" y1="60.46" x2="66.0" y2="60.46" stroke="#d62728" stroke-width="1.7"/>
<text x="71.63 76.28 80.90 83.05" y="63.76" font-size="8.24" xml:space="preserve">15 s</text>
<line x1="50.0" y1="71.38" x2="66.0" y2="71.38" stroke="#9467bd" stroke-width="1.7"/>
<text x="71.63 76.28 80.90 83.05" y="74.68" font-size="8.24" xml:space="preserve">20 s</text>
<line x1="50.0" y1="82.30" x2="66.0" y2="82.30" stroke="#8c564b" stroke-width="1.7"/>
<text x="71.63 76.28 80.90 83.05" y="85.60" font-size="8.24" xml:space="preserve">25 s</text>
<line x1="50.0" y1="93.22" x2="66.0" y2="93.22" stroke="#e377c2" stroke-width="1.7"/>
<text x="71.63 76.28 80.90 83.05" y="96.52" font-size="8.24" xml:space="preserve">30 s</text>
<line x1="50.0" y1="104.14" x2="66.0" y2="104.14" stroke="#7f7f7f" stroke-width="1.7"/>
<text x="71.63 76.28 80.90 83.05" y="107.44" font-size="8.24" xml:space="preserve">35 s</text>
<line x1="50.0" y1="115.06" x2="66.0" y2="115.06" stroke="#bcbd22" stroke-width="1.7"/>
<text x="71.63 76.28 80.90 83.05" y="118.36" font-size="8.24" xml:space="preserve">40 s</text>
<rect x="43.90" y="18.20" width="153.00" height="129.20" fill="none" stroke="#4d4d4d" stroke-width="1.1"/>
<clipPath id="clipb"><rect x="216.9" y="18.2" width="153.0" height="129.20000000000002"/></clipPath>
<g clip-path="url(#clipb)">
<polyline points="216.90,136.24 217.11,136.01 217.33,135.95 217.54,136.00 217.75,135.78 217.96,135.84 218.17,136.12 218.39,136.02 218.60,135.86 218.81,135.85 219.03,136.02 219.24,135.80 219.45,136.07 219.66,135.82 219.88,136.19 220.09,135.85 220.30,135.61 220.51,135.67 220.72,136.00 220.94,136.30 221.15,135.81 221.36,135.68 221.58,135.80 221.79,135.77 222.00,135.99 222.21,135.85 222.42,135.93 222.64,135.92 222.85,135.79 223.06,135.48 223.28,135.61 223.49,135.75 223.70,135.64 223.91,135.73 224.13,135.64 224.34,135.51 224.55,135.72 224.76,135.43 224.97,135.53 225.19,135.25 225.40,135.51 225.61,135.31 225.83,135.43 226.04,135.19 226.25,135.48 226.46,135.26 226.67,135.27 226.89,135.34 227.10,135.11 227.31,135.04 227.53,135.06 227.74,135.07 227.95,134.98 228.16,134.93 228.38,134.63 228.59,134.65 228.80,134.48 229.01,134.49 229.22,134.31 229.44,134.51 229.65,134.42 229.86,134.39 230.08,134.41 230.29,134.20 230.50,134.18 230.71,134.11 230.92,134.09 231.14,133.92 231.35,134.22 231.56,133.88 231.78,133.91 231.99,133.94 232.20,133.85 232.41,133.68 232.63,133.58 232.84,133.68 233.05,133.49 233.26,133.49 233.47,133.35 233.69,133.30 233.90,133.30 234.11,133.41 234.33,133.48 234.54,133.08 234.75,133.36 234.96,133.09 235.17,133.16 235.39,132.90 235.60,133.12 235.81,133.12 236.03,133.35 236.24,132.94 236.45,133.01 236.66,133.07 236.88,133.02 237.09,132.76 237.30,132.88 237.51,132.80 237.72,132.95 237.94,132.86 238.15,132.76 238.36,132.94 238.58,132.71 238.79,132.93 239.00,132.62 239.21,132.99 239.42,132.98 239.64,132.91 239.85,132.99 240.06,132.96 240.28,132.97 240.49,132.81 240.70,133.07 240.91,132.86 241.13,132.92 241.34,133.05 241.55,133.13 241.76,132.86 241.97,133.52 242.19,133.26 242.40,133.24 242.61,133.18 242.83,133.28 243.04,133.19 243.25,133.28 243.46,133.24 243.67,133.52 243.89,133.40 244.10,133.27 244.31,133.63 244.53,133.55 244.74,133.82 244.95,133.59 245.16,133.79 245.38,133.62 245.59,133.91 245.80,133.77 246.01,133.95 246.22,133.83 246.44,133.78 246.65,133.53 246.86,133.82 247.08,133.82 247.29,133.63 247.50,133.74 247.71,134.05 247.92,133.81 248.14,133.86 248.35,133.75 248.56,133.77 248.78,134.08 248.99,133.87 249.20,133.49 249.41,133.59 249.63,133.79 249.84,133.68 250.05,133.59 250.26,133.67 250.47,133.89 250.69,133.24 250.90,133.38 251.11,133.23 251.33,133.13 251.54,132.96 251.75,132.84 251.96,132.40 252.17,132.53 252.39,132.23 252.60,132.15 252.81,131.77 253.03,131.74 253.24,131.84 253.45,131.04 253.66,130.81 253.88,130.69 254.09,130.74 254.30,130.00 254.51,129.82 254.72,129.64 254.94,129.23 255.15,128.57 255.36,128.41 255.58,127.88 255.79,127.48 256.00,126.77 256.21,126.43 256.42,125.62 256.64,125.13 256.85,124.11 257.06,123.78 257.27,122.95 257.49,122.03 257.70,121.20 257.91,120.68 258.13,119.49 258.34,118.47 258.55,117.40 258.76,116.43 258.97,115.05 259.19,113.87 259.40,112.87 259.61,111.67 259.83,110.16 260.04,108.64 260.25,107.08 260.46,105.87 260.67,104.19 260.89,102.73 261.10,100.87 261.31,98.79 261.52,96.82 261.74,95.14 261.95,93.34 262.16,91.38 262.38,89.02 262.59,87.05 262.80,85.08 263.01,83.03 263.22,80.87 263.44,78.52 263.65,76.00 263.86,74.02 264.08,71.73 264.29,69.32 264.50,67.07 264.71,64.55 264.92,62.51 265.14,60.01 265.35,57.82 265.56,55.29 265.77,53.12 265.99,51.02 266.20,48.79 266.41,46.56 266.63,44.24 266.84,42.34 267.05,40.41 267.26,38.71 267.47,36.98 267.69,35.27 267.90,33.52 268.11,31.86 268.33,30.51 268.54,29.08 268.75,28.25 268.96,27.10 269.17,26.22 269.39,25.59 269.60,25.17 269.81,24.51 270.02,23.95 270.24,24.20 270.45,23.82 270.66,23.97 270.88,24.44 271.09,24.84 271.30,25.52 271.51,26.25 271.72,26.94 271.94,28.01 272.15,29.18 272.36,30.56 272.58,31.99 272.79,33.42 273.00,35.22 273.21,36.81 273.42,38.41 273.64,40.48 273.85,42.08 274.06,44.01 274.27,45.98 274.49,47.96 274.70,50.07 274.91,51.71 275.13,54.37 275.34,56.26 275.55,58.50 275.76,60.26 275.97,62.25 276.19,64.18 276.40,66.61 276.61,68.43 276.83,70.67 277.04,72.53 277.25,74.38 277.46,76.61 277.67,78.31 277.89,80.22 278.10,81.88 278.31,83.59 278.52,85.65 278.74,87.14 278.95,88.96 279.16,90.69 279.38,92.06 279.59,93.49 279.80,95.02 280.01,96.41 280.22,97.41 280.44,98.89 280.65,100.00 280.86,101.15 281.08,102.50 281.29,103.26 281.50,104.64 281.71,105.71 281.92,106.83 282.14,107.70 282.35,108.49 282.56,109.39 282.77,110.18 282.99,110.93 283.20,111.93 283.41,112.54 283.63,113.15 283.84,113.80 284.05,114.52 284.26,114.90 284.47,115.56 284.69,115.79 284.90,116.54 285.11,116.84 285.33,117.60 285.54,117.73 285.75,117.94 285.96,118.44 286.17,118.69 286.39,119.08 286.60,119.46 286.81,119.63 287.02,119.91 287.24,120.17 287.45,120.55 287.66,120.76 287.88,121.31 288.09,121.09 288.30,121.44 288.51,121.57 288.72,121.50 288.94,121.75 289.15,121.87 289.36,122.17 289.58,122.12 289.79,122.30 290.00,122.39 290.21,122.54 290.42,122.37 290.64,122.87 290.85,122.76 291.06,122.83 291.27,122.80 291.49,122.94 291.70,123.15 291.91,123.11 292.13,122.96 292.34,123.08 292.55,123.34 292.76,123.30 292.97,123.39 293.19,123.21 293.40,123.50 293.61,123.27 293.83,123.25 294.04,123.54 294.25,123.21 294.46,123.59 294.67,123.60 294.89,123.48 295.10,123.67 295.31,123.59 295.52,123.79 295.74,123.68 295.95,123.61 296.16,123.82 296.38,123.51 296.59,123.50 296.80,123.62 297.01,123.50 297.22,123.49 297.44,123.69 297.65,123.47 297.86,123.50 298.08,123.61 298.29,123.44 298.50,123.62 298.71,123.85 298.92,123.34 299.14,123.34 299.35,123.07 299.56,123.34 299.77,123.12 299.99,123.33 300.20,123.32 300.41,123.14 300.63,123.00 300.84,122.98 301.05,122.74 301.26,122.66 301.47,122.94 301.69,122.74 301.90,122.31 302.11,122.28 302.33,122.55 302.54,122.38 302.75,121.85 302.96,122.16 303.17,121.70 303.39,122.03 303.60,121.61 303.81,121.57 304.02,121.19 304.24,120.86 304.45,120.78 304.66,120.48 304.88,120.23 305.09,119.91 305.30,119.84 305.51,119.90 305.72,119.55 305.94,118.86 306.15,118.56 306.36,118.13 306.58,117.96 306.79,117.58 307.00,117.36 307.21,116.79 307.42,116.16 307.64,115.73 307.85,115.33 308.06,114.30 308.27,113.91 308.49,113.23 308.70,112.58 308.91,111.90 309.13,111.31 309.34,110.25 309.55,109.65 309.76,108.87 309.97,107.64 310.19,106.88 310.40,105.84 310.61,105.21 310.83,103.62 311.04,102.92 311.25,101.85 311.46,100.58 311.67,99.47 311.89,98.22 312.10,96.74 312.31,95.29 312.52,94.20 312.74,92.79 312.95,91.38 313.16,89.93 313.38,88.69 313.59,86.76 313.80,85.72 314.01,84.08 314.22,82.12 314.44,80.89 314.65,79.46 314.86,77.71 315.08,75.79 315.29,74.56 315.50,73.16 315.71,71.38 315.92,69.82 316.14,68.45 316.35,66.77 316.56,65.66 316.77,63.78 316.99,62.39 317.20,61.02 317.41,59.80 317.63,58.20 317.84,57.08 318.05,55.80 318.26,55.00 318.47,53.76 318.69,52.65 318.90,51.82 319.11,51.39 319.33,50.55 319.54,50.03 319.75,49.46 319.96,49.00 320.17,48.40 320.39,48.21 320.60,48.36 320.81,48.18 321.02,48.51 321.24,48.81 321.45,49.22 321.66,49.45 321.88,49.49 322.09,50.37 322.30,51.00 322.51,51.68 322.72,53.02 322.94,53.66 323.15,54.60 323.36,55.44 323.58,56.70 323.79,58.22 324.00,59.44 324.21,60.34 324.42,61.64 324.64,63.24 324.85,64.58 325.06,65.69 325.27,67.32 325.49,68.41 325.70,69.92 325.91,71.33 326.13,72.32 326.34,74.24 326.55,75.69 326.76,76.97 326.97,78.70 327.19,79.45 327.40,80.82 327.61,82.25 327.83,83.58 328.04,84.87 328.25,86.42 328.46,87.37 328.67,88.55 328.89,89.54 329.10,90.79 329.31,91.75 329.53,92.91 329.74,94.55 329.95,95.29 330.16,95.97 330.38,97.16 330.59,97.99 330.80,98.68 331.01,99.98 331.22,100.52 331.44,100.96 331.65,102.11 331.86,103.03 332.08,103.55 332.29,104.32 332.50,105.20 332.71,105.31 332.92,106.06 333.14,107.15 333.35,106.82 333.56,107.94 333.77,108.13 333.99,108.47 334.20,109.08 334.41,109.84 334.63,110.57 334.84,110.40 335.05,110.50 335.26,111.30 335.47,111.36 335.69,111.10 335.90,112.14 336.11,110.71 336.33,112.20 336.54,112.99 336.75,112.64 336.96,113.09 337.17,112.73 337.39,113.87 337.60,113.32 337.81,114.17 338.02,113.78 338.24,113.48 338.45,114.15 338.66,113.84 338.88,114.65 339.09,114.31 339.30,115.10 339.51,115.07 339.72,115.09 339.94,115.86 340.15,115.75 340.36,115.73 340.58,114.85 340.79,115.64 341.00,116.32 341.21,116.45 341.42,116.06 341.64,116.63 341.85,116.13 342.06,116.81 342.27,116.88 342.49,116.10 342.70,117.43 342.91,115.58 343.13,117.09 343.34,117.51 343.55,116.60 343.76,116.44 343.97,116.41 344.19,116.85 344.40,117.51 344.61,117.33 344.83,117.25 345.04,116.96 345.25,116.98 345.46,117.17 345.67,117.15 345.89,118.75 346.10,117.98 346.31,117.19 346.52,118.06 346.74,117.93 346.95,118.31 347.16,118.08 347.38,118.40 347.59,119.16 347.80,117.99 348.01,118.02 348.22,118.75 348.44,119.40 348.65,118.59 348.86,119.12 349.08,118.01 349.29,118.72 349.50,119.47 349.71,119.06 349.92,117.81 350.14,118.91 350.35,119.29 350.56,119.06 350.77,119.58 350.99,118.57 351.20,119.80 351.41,118.81 351.63,118.62 351.84,118.72 352.05,119.31 352.26,119.51 352.47,119.32 352.69,119.25 352.90,119.13 353.11,119.47 353.33,119.38 353.54,119.80 353.75,120.02 353.96,119.06 354.17,119.46 354.39,119.35 354.60,118.89 354.81,120.19 355.02,120.18 355.24,120.10 355.45,119.48 355.66,120.73 355.88,120.38 356.09,119.65 356.30,120.93 356.51,119.78 356.72,119.35 356.94,120.01 357.15,120.71 357.36,120.54 357.58,120.87 357.79,120.43 358.00,119.93 358.21,119.93 358.42,121.69 358.64,120.95 358.85,120.41 359.06,120.81 359.27,121.96 359.49,120.59 359.70,120.46 359.91,120.78 360.13,120.86 360.34,120.36 360.55,121.65 360.76,121.09 360.97,120.76 361.19,119.20 361.40,121.43 361.61,120.67 361.83,120.20 362.04,120.75 362.25,120.73 362.46,120.56 362.67,122.21 362.89,121.03 363.10,121.57 363.31,120.56 363.52,121.18 363.74,121.31 363.95,121.38 364.16,122.18 364.38,121.06 364.59,122.45 364.80,121.73 365.01,121.85 365.22,121.17 365.44,121.72 365.65,122.22 365.86,121.44 366.08,120.91 366.29,122.41 366.50,121.17 366.71,122.29 366.92,122.09 367.14,122.11 367.35,122.60 367.56,121.21 367.77,121.69 367.99,121.82 368.20,122.90 368.41,121.86 368.63,122.72 368.84,121.55 369.05,123.26 369.26,121.96 369.47,123.22 369.69,123.20 369.90,122.33" fill="none" stroke="#1f77b4" stroke-width="1.7" stroke-linejoin="round" />
<polyline points="216.90,136.61 217.11,136.57 217.33,136.79 217.54,136.81 217.75,136.58 217.96,136.89 218.17,136.87 218.39,136.61 218.60,136.61 218.81,136.66 219.03,136.48 219.24,136.91 219.45,136.57 219.66,136.30 219.88,136.69 220.09,136.81 220.30,136.41 220.51,136.50 220.72,136.39 220.94,136.45 221.15,136.61 221.36,136.56 221.58,136.69 221.79,136.09 222.00,136.62 222.21,136.51 222.42,136.54 222.64,136.35 222.85,136.17 223.06,136.45 223.28,136.28 223.49,136.21 223.70,135.96 223.91,136.30 224.13,136.20 224.34,135.96 224.55,136.40 224.76,136.15 224.97,136.11 225.19,136.26 225.40,136.08 225.61,135.99 225.83,135.81 226.04,135.80 226.25,135.99 226.46,136.01 226.67,135.68 226.89,136.01 227.10,135.82 227.31,135.87 227.53,135.89 227.74,135.56 227.95,135.77 228.16,135.60 228.38,135.27 228.59,135.17 228.80,135.56 229.01,135.45 229.22,135.39 229.44,135.41 229.65,134.95 229.86,134.96 230.08,134.97 230.29,135.14 230.50,134.82 230.71,134.85 230.92,134.83 231.14,134.68 231.35,134.51 231.56,134.67 231.78,134.67 231.99,134.71 232.20,134.29 232.41,134.38 232.63,134.76 232.84,134.33 233.05,134.18 233.26,134.49 233.47,134.43 233.69,134.00 233.90,134.15 234.11,134.29 234.33,134.02 234.54,133.93 234.75,134.09 234.96,134.03 235.17,133.87 235.39,133.85 235.60,133.55 235.81,133.58 236.03,133.68 236.24,133.83 236.45,133.80 236.66,134.03 236.88,133.68 237.09,133.71 237.30,133.74 237.51,133.52 237.72,133.43 237.94,133.89 238.15,133.54 238.36,133.54 238.58,133.70 238.79,133.71 239.00,133.35 239.21,133.50 239.42,133.30 239.64,133.75 239.85,133.80 240.06,133.70 240.28,133.54 240.49,133.49 240.70,133.42 240.91,133.83 241.13,133.97 241.34,133.63 241.55,133.67 241.76,133.75 241.97,133.64 242.19,134.01 242.40,134.17 242.61,133.65 242.83,133.94 243.04,134.07 243.25,133.93 243.46,133.75 243.67,134.10 243.89,133.90 244.10,134.18 244.31,133.94 244.53,134.23 244.74,134.11 244.95,134.33 245.16,134.27 245.38,134.35 245.59,134.48 245.80,134.42 246.01,134.35 246.22,134.49 246.44,134.57 246.65,134.44 246.86,134.29 247.08,134.53 247.29,134.67 247.50,134.65 247.71,134.50 247.92,134.24 248.14,134.62 248.35,134.27 248.56,134.44 248.78,134.47 248.99,134.40 249.20,134.09 249.41,134.27 249.63,133.93 249.84,133.75 250.05,134.10 250.26,134.06 250.47,134.03 250.69,133.57 250.90,133.65 251.11,133.48 251.33,133.35 251.54,132.86 251.75,132.79 251.96,132.61 252.17,132.76 252.39,132.41 252.60,132.05 252.81,131.81 253.03,131.47 253.24,130.98 253.45,130.81 253.66,130.46 253.88,130.24 254.09,129.90 254.30,129.50 254.51,129.01 254.72,128.78 254.94,128.13 255.15,127.51 255.36,127.03 255.58,126.37 255.79,126.01 256.00,125.15 256.21,124.35 256.42,123.43 256.64,122.80 256.85,122.02 257.06,121.19 257.27,120.17 257.49,119.28 257.70,118.07 257.91,117.19 258.13,115.89 258.34,114.91 258.55,113.81 258.76,112.53 258.97,110.84 259.19,109.68 259.40,108.23 259.61,106.28 259.83,105.30 260.04,103.53 260.25,102.08 260.46,100.28 260.67,98.36 260.89,96.69 261.10,94.52 261.31,93.07 261.52,91.11 261.74,89.26 261.95,87.05 262.16,85.14 262.38,82.99 262.59,81.01 262.80,78.72 263.01,76.77 263.22,74.53 263.44,72.42 263.65,70.37 263.86,68.13 264.08,66.00 264.29,63.81 264.50,62.09 264.71,59.50 264.92,57.68 265.14,55.64 265.35,53.68 265.56,52.07 265.77,49.92 265.99,48.22 266.20,46.64 266.41,44.83 266.63,43.47 266.84,42.15 267.05,40.53 267.26,39.32 267.47,38.28 267.69,37.35 267.90,36.22 268.11,35.80 268.33,35.06 268.54,34.64 268.75,34.29 268.96,33.98 269.17,34.13 269.39,33.98 269.60,34.22 269.81,34.67 270.02,35.21 270.24,35.93 270.45,36.46 270.66,37.09 270.88,38.43 271.09,39.57 271.30,40.73 271.51,41.88 271.72,43.23 271.94,44.72 272.15,46.31 272.36,48.09 272.58,49.41 272.79,51.32 273.00,52.97 273.21,54.80 273.42,56.63 273.64,58.36 273.85,60.32 274.06,61.90 274.27,63.87 274.49,65.84 274.70,67.89 274.91,69.60 275.13,71.53 275.34,73.32 275.55,75.24 275.76,77.21 275.97,78.98 276.19,80.60 276.40,82.18 276.61,84.01 276.83,85.74 277.04,87.30 277.25,88.75 277.46,90.47 277.67,91.97 277.89,93.34 278.10,94.68 278.31,96.33 278.52,97.54 278.74,98.77 278.95,100.08 279.16,101.14 279.38,102.25 279.59,103.60 279.80,104.20 280.01,105.53 280.22,106.34 280.44,107.41 280.65,108.69 280.86,109.48 281.08,110.08 281.29,110.83 281.50,111.57 281.71,112.67 281.92,113.15 282.14,113.64 282.35,114.13 282.56,114.83 282.77,115.67 282.99,116.07 283.20,116.54 283.41,117.02 283.63,117.25 283.84,117.65 284.05,118.03 284.26,118.76 284.47,119.14 284.69,119.51 284.90,119.65 285.11,119.89 285.33,120.39 285.54,120.41 285.75,120.67 285.96,120.97 286.17,121.09 286.39,121.52 286.60,121.73 286.81,121.54 287.02,121.99 287.24,121.95 287.45,122.35 287.66,122.74 287.88,122.46 288.09,122.85 288.30,122.92 288.51,122.78 288.72,123.24 288.94,123.16 289.15,123.05 289.36,123.01 289.58,123.54 289.79,123.45 290.00,123.65 290.21,123.44 290.42,123.76 290.64,123.55 290.85,124.00 291.06,123.75 291.27,123.70 291.49,123.87 291.70,124.01 291.91,124.13 292.13,124.30 292.34,124.00 292.55,124.04 292.76,124.16 292.97,124.43 293.19,124.40 293.40,124.32 293.61,124.07 293.83,124.06 294.04,124.22 294.25,124.59 294.46,124.70 294.67,124.41 294.89,124.36 295.10,124.19 295.31,124.58 295.52,124.29 295.74,124.51 295.95,124.38 296.16,124.55 296.38,124.55 296.59,124.56 296.80,124.50 297.01,124.61 297.22,124.58 297.44,124.41 297.65,124.62 297.86,124.48 298.08,124.50 298.29,124.43 298.50,124.19 298.71,124.46 298.92,124.08 299.14,124.57 299.35,124.40 299.56,124.12 299.77,124.56 299.99,124.19 300.20,124.04 300.41,124.27 300.63,123.79 300.84,123.67 301.05,123.88 301.26,123.82 301.47,123.63 301.69,123.53 301.90,123.66 302.11,123.56 302.33,123.10 302.54,123.27 302.75,123.22 302.96,123.20 303.17,123.38 303.39,122.82 303.60,122.64 303.81,122.50 304.02,122.35 304.24,122.01 304.45,121.89 304.66,121.69 304.88,121.52 305.09,121.30 305.30,120.97 305.51,120.81 305.72,120.24 305.94,120.05 306.15,119.75 306.36,119.09 306.58,118.89 306.79,118.77 307.00,118.30 307.21,117.72 307.42,117.30 307.64,116.52 307.85,116.06 308.06,115.47 308.27,114.84 308.49,114.23 308.70,113.97 308.91,113.21 309.13,112.42 309.34,111.43 309.55,110.67 309.76,109.59 309.97,108.81 310.19,107.89 310.40,107.25 310.61,106.18 310.83,105.01 311.04,104.28 311.25,103.13 311.46,101.64 311.67,100.44 311.89,99.85 312.10,98.38 312.31,97.31 312.52,96.15 312.74,94.68 312.95,93.15 313.16,91.79 313.38,90.48 313.59,88.93 313.80,87.86 314.01,86.35 314.22,84.66 314.44,83.34 314.65,82.14 314.86,80.77 315.08,79.14 315.29,77.69 315.50,76.25 315.71,74.92 315.92,73.50 316.14,72.25 316.35,70.83 316.56,69.62 316.77,68.46 316.99,67.02 317.20,65.99 317.41,64.86 317.63,63.58 317.84,62.60 318.05,61.42 318.26,60.57 318.47,60.08 318.69,59.34 318.90,58.75 319.11,58.30 319.33,57.35 319.54,57.10 319.75,56.99 319.96,56.41 320.17,56.46 320.39,56.43 320.60,56.69 320.81,57.17 321.02,56.94 321.24,57.52 321.45,58.08 321.66,58.27 321.88,58.88 322.09,59.81 322.30,60.42 322.51,61.16 322.72,62.12 322.94,63.16 323.15,63.81 323.36,65.16 323.58,66.00 323.79,67.34 324.00,68.54 324.21,69.45 324.42,70.99 324.64,72.05 324.85,73.26 325.06,74.41 325.27,75.88 325.49,77.42 325.70,78.72 325.91,80.00 326.13,81.15 326.34,82.21 326.55,83.49 326.76,84.75 326.97,85.89 327.19,87.21 327.40,88.26 327.61,89.38 327.83,90.11 328.04,91.70 328.25,92.78 328.46,93.86 328.67,95.00 328.89,95.67 329.10,97.10 329.31,97.33 329.53,99.04 329.74,99.60 329.95,100.22 330.16,101.16 330.38,101.91 330.59,103.22 330.80,103.40 331.01,104.19 331.22,104.63 331.44,105.68 331.65,106.29 331.86,107.33 332.08,107.36 332.29,108.34 332.50,108.48 332.71,108.60 332.92,109.82 333.14,109.96 333.35,110.62 333.56,111.05 333.77,111.84 333.99,111.78 334.20,111.91 334.41,111.95 334.63,112.17 334.84,113.01 335.05,112.95 335.26,113.55 335.47,114.08 335.69,114.18 335.90,113.95 336.11,114.23 336.33,115.27 336.54,114.67 336.75,115.16 336.96,114.99 337.17,115.32 337.39,116.01 337.60,116.20 337.81,115.85 338.02,115.95 338.24,116.03 338.45,116.65 338.66,115.77 338.88,117.42 339.09,116.05 339.30,116.79 339.51,117.05 339.72,116.23 339.94,117.10 340.15,117.13 340.36,117.48 340.58,117.11 340.79,117.20 341.00,116.87 341.21,117.10 341.42,117.70 341.64,118.07 341.85,118.06 342.06,118.29 342.27,118.23 342.49,118.37 342.70,118.02 342.91,118.19 343.13,118.66 343.34,118.26 343.55,119.51 343.76,118.57 343.97,119.70 344.19,118.85 344.40,118.42 344.61,118.69 344.83,119.39 345.04,119.01 345.25,119.05 345.46,119.32 345.67,119.03 345.89,119.48 346.10,119.63 346.31,119.76 346.52,119.10 346.74,119.84 346.95,120.18 347.16,119.08 347.38,119.92 347.59,120.32 347.80,119.33 348.01,120.01 348.22,120.04 348.44,120.23 348.65,119.52 348.86,119.55 349.08,119.44 349.29,120.34 349.50,118.83 349.71,120.40 349.92,120.72 350.14,120.35 350.35,121.15 350.56,120.68 350.77,120.53 350.99,120.27 351.20,119.71 351.41,120.20 351.63,120.61 351.84,120.48 352.05,121.16 352.26,119.83 352.47,120.51 352.69,120.43 352.90,120.98 353.11,121.18 353.33,121.31 353.54,121.28 353.75,121.17 353.96,120.48 354.17,121.32 354.39,120.69 354.60,120.60 354.81,120.87 355.02,120.66 355.24,122.33 355.45,121.04 355.66,121.45 355.88,120.55 356.09,121.10 356.30,121.50 356.51,121.34 356.72,121.29 356.94,120.52 357.15,121.67 357.36,121.35 357.58,121.83 357.79,121.43 358.00,121.42 358.21,121.55 358.42,121.76 358.64,120.92 358.85,121.18 359.06,121.52 359.27,122.12 359.49,121.61 359.70,121.81 359.91,121.43 360.13,121.65 360.34,122.32 360.55,121.71 360.76,121.08 360.97,121.79 361.19,122.68 361.40,122.37 361.61,121.67 361.83,121.55 362.04,123.02 362.25,121.71 362.46,121.42 362.67,121.56 362.89,123.03 363.10,122.37 363.31,121.71 363.52,122.04 363.74,122.67 363.95,123.01 364.16,122.57 364.38,122.29 364.59,123.13 364.80,122.73 365.01,122.01 365.22,122.02 365.44,122.64 365.65,122.06 365.86,122.88 366.08,123.17 366.29,123.22 366.50,123.46 366.71,123.19 366.92,123.16 367.14,121.90 367.35,122.52 367.56,121.89 367.77,123.63 367.99,122.77 368.20,123.41 368.41,123.95 368.63,122.93 368.84,123.61 369.05,122.90 369.26,121.98 369.47,123.31 369.69,123.45 369.90,123.79" fill="none" stroke="#ff7f0e" stroke-width="1.7" stroke-linejoin="round" />
<polyline points="216.90,138.58 217.11,138.38 217.33,138.47 217.54,138.31 217.75,138.38 217.96,138.28 218.17,138.24 218.39,138.13 218.60,138.47 218.81,138.41 219.03,138.07 219.24,138.14 219.45,138.37 219.66,137.88 219.88,138.67 220.09,138.30 220.30,138.27 220.51,138.14 220.72,138.40 220.94,138.19 221.15,138.14 221.36,137.99 221.58,138.43 221.79,138.23 222.00,138.21 222.21,137.95 222.42,137.79 222.64,137.80 222.85,138.15 223.06,137.98 223.28,138.02 223.49,137.98 223.70,138.05 223.91,137.90 224.13,137.91 224.34,137.78 224.55,137.86 224.76,137.43 224.97,138.03 225.19,137.83 225.40,137.80 225.61,137.65 225.83,137.50 226.04,137.61 226.25,137.12 226.46,137.47 226.67,137.27 226.89,137.46 227.10,137.51 227.31,136.99 227.53,137.44 227.74,137.50 227.95,137.33 228.16,137.15 228.38,136.92 228.59,137.12 228.80,137.07 229.01,136.94 229.22,136.81 229.44,137.00 229.65,136.78 229.86,136.86 230.08,136.66 230.29,136.59 230.50,136.46 230.71,136.29 230.92,136.58 231.14,136.59 231.35,136.38 231.56,136.34 231.78,136.29 231.99,136.12 232.20,136.16 232.41,136.01 232.63,136.08 232.84,136.05 233.05,136.11 233.26,135.84 233.47,135.89 233.69,135.67 233.90,135.72 234.11,135.85 234.33,135.70 234.54,135.71 234.75,135.68 234.96,135.82 235.17,135.56 235.39,135.55 235.60,135.71 235.81,135.46 236.03,135.43 236.24,135.62 236.45,135.60 236.66,135.38 236.88,135.29 237.09,135.35 237.30,135.64 237.51,135.53 237.72,135.29 237.94,135.51 238.15,135.21 238.36,135.20 238.58,135.49 238.79,135.33 239.00,135.27 239.21,135.32 239.42,135.46 239.64,135.44 239.85,135.44 240.06,135.21 240.28,135.37 240.49,135.32 240.70,135.47 240.91,135.46 241.13,135.44 241.34,135.62 241.55,135.73 241.76,135.60 241.97,135.75 242.19,135.80 242.40,135.87 242.61,136.00 242.83,135.82 243.04,136.01 243.25,136.03 243.46,136.00 243.67,136.18 243.89,135.96 244.10,135.95 244.31,136.29 244.53,136.22 244.74,136.24 244.95,136.28 245.16,136.27 245.38,136.27 245.59,136.45 245.80,136.28 246.01,136.70 246.22,136.60 246.44,136.35 246.65,136.57 246.86,136.48 247.08,136.38 247.29,136.31 247.50,136.73 247.71,136.69 247.92,136.69 248.14,136.69 248.35,136.54 248.56,136.85 248.78,136.49 248.99,136.54 249.20,136.30 249.41,136.70 249.63,136.35 249.84,136.46 250.05,136.46 250.26,136.18 250.47,136.11 250.69,136.37 250.90,135.98 251.11,136.06 251.33,135.99 251.54,135.91 251.75,135.75 251.96,135.71 252.17,135.49 252.39,135.73 252.60,135.10 252.81,135.05 253.03,135.01 253.24,134.70 253.45,134.60 253.66,134.28 253.88,134.00 254.09,133.86 254.30,134.13 254.51,133.23 254.72,133.13 254.94,132.75 255.15,132.64 255.36,132.21 255.58,131.85 255.79,131.35 256.00,130.91 256.21,130.52 256.42,130.07 256.64,129.48 256.85,128.92 257.06,128.42 257.27,127.97 257.49,127.17 257.70,126.71 257.91,125.88 258.13,124.97 258.34,124.61 258.55,123.74 258.76,123.03 258.97,121.53 259.19,120.83 259.40,119.79 259.61,118.78 259.83,117.75 260.04,116.72 260.25,115.38 260.46,114.32 260.67,112.82 260.89,111.37 261.10,109.90 261.31,108.95 261.52,107.43 261.74,106.00 261.95,104.58 262.16,102.93 262.38,101.16 262.59,99.34 262.80,97.62 263.01,96.20 263.22,94.23 263.44,92.58 263.65,90.71 263.86,88.77 264.08,86.94 264.29,85.10 264.50,83.33 264.71,81.47 264.92,79.61 265.14,77.70 265.35,75.95 265.56,74.03 265.77,72.26 265.99,70.30 266.20,68.88 266.41,67.07 266.63,65.33 266.84,63.72 267.05,62.46 267.26,60.47 267.47,58.96 267.69,58.05 267.90,56.71 268.11,55.11 268.33,54.40 268.54,53.14 268.75,52.24 268.96,51.46 269.17,50.64 269.39,50.25 269.60,49.84 269.81,49.32 270.02,49.01 270.24,48.82 270.45,48.73 270.66,48.75 270.88,49.13 271.09,49.57 271.30,49.97 271.51,50.81 271.72,51.44 271.94,52.25 272.15,53.27 272.36,53.93 272.58,55.28 272.79,56.51 273.00,57.68 273.21,58.63 273.42,60.04 273.64,61.60 273.85,63.02 274.06,64.89 274.27,66.30 274.49,67.71 274.70,69.50 274.91,71.17 275.13,72.71 275.34,74.13 275.55,75.68 275.76,77.68 275.97,78.98 276.19,80.99 276.40,82.42 276.61,84.05 276.83,85.68 277.04,86.95 277.25,88.63 277.46,90.26 277.67,91.61 277.89,93.32 278.10,94.60 278.31,95.85 278.52,97.37 278.74,98.48 278.95,100.22 279.16,101.50 279.38,102.59 279.59,103.76 279.80,104.96 280.01,105.79 280.22,107.01 280.44,108.24 280.65,109.19 280.86,109.99 281.08,111.15 281.29,111.81 281.50,112.86 281.71,113.53 281.92,114.26 282.14,115.25 282.35,115.82 282.56,116.48 282.77,117.05 282.99,117.58 283.20,118.28 283.41,119.02 283.63,119.41 283.84,119.98 284.05,120.36 284.26,120.64 284.47,121.07 284.69,121.44 284.90,122.11 285.11,122.59 285.33,122.82 285.54,123.01 285.75,123.40 285.96,123.77 286.17,123.88 286.39,123.94 286.60,124.41 286.81,124.53 287.02,124.50 287.24,125.08 287.45,125.07 287.66,125.58 287.88,125.66 288.09,125.72 288.30,125.68 288.51,125.96 288.72,126.18 288.94,126.14 289.15,126.12 289.36,126.24 289.58,126.68 289.79,126.56 290.00,126.82 290.21,126.72 290.42,126.74 290.64,127.14 290.85,126.73 291.06,127.38 291.27,127.14 291.49,127.48 291.70,127.35 291.91,127.10 292.13,127.18 292.34,127.14 292.55,127.51 292.76,127.64 292.97,127.67 293.19,127.14 293.40,127.45 293.61,127.76 293.83,127.64 294.04,127.68 294.25,127.55 294.46,127.80 294.67,127.98 294.89,127.86 295.10,127.68 295.31,127.76 295.52,127.86 295.74,127.97 295.95,127.62 296.16,127.71 296.38,127.93 296.59,127.88 296.80,127.53 297.01,127.84 297.22,127.60 297.44,127.81 297.65,127.80 297.86,127.84 298.08,127.67 298.29,127.68 298.50,127.86 298.71,127.46 298.92,127.75 299.14,127.75 299.35,127.48 299.56,127.73 299.77,127.62 299.99,127.52 300.20,127.40 300.41,127.73 300.63,127.59 300.84,127.76 301.05,127.28 301.26,127.27 301.47,127.17 301.69,127.16 301.90,127.23 302.11,126.98 302.33,127.15 302.54,127.05 302.75,126.88 302.96,126.59 303.17,126.82 303.39,126.09 303.60,126.52 303.81,126.52 304.02,126.13 304.24,126.14 304.45,125.76 304.66,125.57 304.88,125.67 305.09,125.25 305.30,125.21 305.51,124.87 305.72,124.75 305.94,124.45 306.15,124.12 306.36,123.68 306.58,123.65 306.79,123.16 307.00,122.71 307.21,122.70 307.42,122.04 307.64,121.84 307.85,121.32 308.06,120.86 308.27,120.49 308.49,119.73 308.70,119.24 308.91,118.85 309.13,118.29 309.34,117.67 309.55,116.95 309.76,116.29 309.97,115.87 310.19,114.84 310.40,114.10 310.61,113.43 310.83,112.67 311.04,111.96 311.25,110.77 311.46,110.01 311.67,109.02 311.89,107.61 312.10,107.20 312.31,106.24 312.52,104.78 312.74,104.07 312.95,102.78 313.16,101.57 313.38,100.56 313.59,99.07 313.80,98.05 314.01,96.82 314.22,95.72 314.44,94.54 314.65,93.18 314.86,91.61 315.08,90.65 315.29,89.31 315.50,88.07 315.71,87.03 315.92,85.55 316.14,84.52 316.35,83.50 316.56,82.33 316.77,80.80 316.99,79.47 317.20,78.56 317.41,77.43 317.63,76.75 317.84,76.04 318.05,74.40 318.26,73.64 318.47,73.21 318.69,72.17 318.90,71.51 319.11,70.89 319.33,70.47 319.54,69.75 319.75,69.29 319.96,69.27 320.17,68.74 320.39,68.85 320.60,68.42 320.81,68.54 321.02,68.43 321.24,68.65 321.45,69.21 321.66,69.43 321.88,69.64 322.09,70.02 322.30,70.45 322.51,71.44 322.72,71.93 322.94,72.23 323.15,73.39 323.36,74.38 323.58,75.40 323.79,75.94 324.00,76.81 324.21,78.08 324.42,78.82 324.64,79.81 324.85,80.81 325.06,82.01 325.27,83.27 325.49,84.45 325.70,85.26 325.91,86.77 326.13,87.36 326.34,88.62 326.55,89.89 326.76,91.27 326.97,92.18 327.19,93.38 327.40,94.36 327.61,95.11 327.83,95.79 328.04,97.44 328.25,98.39 328.46,98.78 328.67,100.13 328.89,101.00 329.10,102.12 329.31,102.52 329.53,103.69 329.74,104.37 329.95,105.16 330.16,105.78 330.38,106.79 330.59,107.74 330.80,108.18 331.01,109.01 331.22,110.06 331.44,110.42 331.65,111.25 331.86,111.49 332.08,112.13 332.29,112.63 332.50,113.48 332.71,113.39 332.92,113.95 333.14,114.15 333.35,115.20 333.56,115.40 333.77,115.84 333.99,115.88 334.20,116.56 334.41,116.52 334.63,117.33 334.84,117.15 335.05,117.52 335.26,117.84 335.47,118.14 335.69,118.35 335.90,118.22 336.11,118.41 336.33,118.64 336.54,119.09 336.75,119.50 336.96,119.70 337.17,119.74 337.39,119.83 337.60,120.16 337.81,120.53 338.02,120.60 338.24,120.04 338.45,120.71 338.66,120.59 338.88,120.87 339.09,120.71 339.30,121.04 339.51,120.59 339.72,121.08 339.94,121.72 340.15,121.35 340.36,121.91 340.58,121.71 340.79,121.25 341.00,122.31 341.21,121.56 341.42,121.91 341.64,121.51 341.85,122.03 342.06,121.69 342.27,122.13 342.49,121.72 342.70,122.20 342.91,122.72 343.13,122.36 343.34,122.49 343.55,121.76 343.76,122.99 343.97,123.40 344.19,122.16 344.40,123.09 344.61,123.65 344.83,123.35 345.04,123.32 345.25,123.21 345.46,122.02 345.67,123.24 345.89,122.87 346.10,122.99 346.31,123.55 346.52,124.17 346.74,122.47 346.95,123.66 347.16,123.87 347.38,123.24 347.59,123.98 347.80,123.87 348.01,123.17 348.22,123.93 348.44,123.64 348.65,123.96 348.86,123.08 349.08,124.66 349.29,125.29 349.50,123.90 349.71,124.15 349.92,122.61 350.14,124.02 350.35,124.05 350.56,123.75 350.77,124.03 350.99,123.91 351.20,124.71 351.41,124.45 351.63,123.60 351.84,124.97 352.05,124.60 352.26,124.26 352.47,124.10 352.69,124.49 352.90,124.22 353.11,124.17 353.33,124.56 353.54,125.02 353.75,124.45 353.96,125.01 354.17,125.04 354.39,124.15 354.60,124.58 354.81,125.42 355.02,125.78 355.24,125.34 355.45,124.83 355.66,124.69 355.88,125.04 356.09,124.04 356.30,125.15 356.51,125.64 356.72,125.21 356.94,124.72 357.15,125.00 357.36,125.08 357.58,124.62 357.79,124.78 358.00,124.55 358.21,125.59 358.42,125.19 358.64,125.29 358.85,125.37 359.06,124.51 359.27,125.24 359.49,125.27 359.70,126.14 359.91,125.72 360.13,125.33 360.34,125.55 360.55,126.15 360.76,125.36 360.97,125.73 361.19,125.20 361.40,125.42 361.61,125.28 361.83,126.26 362.04,126.17 362.25,125.41 362.46,124.39 362.67,125.54 362.89,125.62 363.10,126.14 363.31,124.91 363.52,125.83 363.74,126.02 363.95,125.83 364.16,126.32 364.38,125.75 364.59,126.04 364.80,126.23 365.01,126.90 365.22,126.78 365.44,126.43 365.65,127.42 365.86,126.77 366.08,126.37 366.29,126.41 366.50,125.32 366.71,127.48 366.92,126.59 367.14,126.73 367.35,126.40 367.56,126.72 367.77,127.01 367.99,126.55 368.20,126.81 368.41,125.60 368.63,126.90 368.84,126.51 369.05,126.30 369.26,126.58 369.47,126.92 369.69,126.89 369.90,126.98" fill="none" stroke="#2ca02c" stroke-width="1.7" stroke-linejoin="round" />
</g>
<line x1="225.40" y1="147.4" x2="225.40" y2="151.4" stroke="#4d4d4d" stroke-width="0.9"/>
<text x="216.67 222.59 228.51" y="162.10" font-size="10.11" xml:space="preserve">363</text>
<line x1="259.40" y1="147.4" x2="259.40" y2="151.4" stroke="#4d4d4d" stroke-width="0.9"/>
<text x="250.67 256.59 262.51" y="162.10" font-size="10.11" xml:space="preserve">367</text>
<line x1="293.40" y1="147.4" x2="293.40" y2="151.4" stroke="#4d4d4d" stroke-width="0.9"/>
<text x="284.67 290.59 296.51" y="162.10" font-size="10.11" xml:space="preserve">371</text>
<line x1="327.40" y1="147.4" x2="327.40" y2="151.4" stroke="#4d4d4d" stroke-width="0.9"/>
<text x="318.67 324.59 330.51" y="162.10" font-size="10.11" xml:space="preserve">375</text>
<line x1="361.40" y1="147.4" x2="361.40" y2="151.4" stroke="#4d4d4d" stroke-width="0.9"/>
<text x="352.67 358.59 364.51" y="162.10" font-size="10.11" xml:space="preserve">379</text>
<line x1="212.90" y1="108.80" x2="216.90" y2="108.80" stroke="#4d4d4d" stroke-width="0.9"/>
<text x="204.53" y="112.80" font-size="10.11" xml:space="preserve">2</text>
<line x1="212.90" y1="67.66" x2="216.90" y2="67.66" stroke="#4d4d4d" stroke-width="0.9"/>
<text x="204.53" y="71.66" font-size="10.11" xml:space="preserve">4</text>
<line x1="212.90" y1="26.52" x2="216.90" y2="26.52" stroke="#4d4d4d" stroke-width="0.9"/>
<text x="204.53" y="30.52" font-size="10.11" xml:space="preserve">6</text>
<text x="231.06 239.78 244.18 247.57 256.79 264.49 267.94 271.41 279.35 284.24 292.29 296.81 300.14 307.87 315.59 319.53 327.25 334.97 338.64 347.54" y="15.00" font-size="13.08" xml:space="preserve">Pt Calibration on Ag</text>
<text x="231.21 240.10 243.56 251.43 259.27 262.74 270.60 278.33 281.67 290.25 297.99 305.81 310.84 318.81 325.90 329.93 334.71 342.04 350.88" y="174.90" font-size="13.08" xml:space="preserve">Binding Energy (eV)</text>
<text x="341.10" y="29.2" font-size="11.82" font-style="italic" textLength="15.90" lengthAdjust="spacingAndGlyphs">Ag</text>
<text x="357.60" y="31.2" font-size="9.07" font-style="italic" textLength="9.90" lengthAdjust="spacingAndGlyphs">3d</text>
<text x="349.88 354.85 363.13" y="140.60" font-size="11.92" font-weight="bold" xml:space="preserve">(b)</text>
<rect x="220.0" y="21.9" width="43.40" height="34.30" rx="2" fill="#fff" fill-opacity="0.8" stroke="#d6d6d6" stroke-width="0.8"/>
<line x1="222.6" y1="27.70" x2="238.9" y2="27.70" stroke="#1f77b4" stroke-width="1.7"/>
<text x="244.53 249.16 251.31" y="31.00" font-size="8.24" xml:space="preserve">0 s</text>
<line x1="222.6" y1="38.50" x2="238.9" y2="38.50" stroke="#ff7f0e" stroke-width="1.7"/>
<text x="244.53 249.16 251.31" y="41.80" font-size="8.24" xml:space="preserve">7 s</text>
<line x1="222.6" y1="49.30" x2="238.9" y2="49.30" stroke="#2ca02c" stroke-width="1.7"/>
<text x="244.53 249.18 253.80 255.95" y="52.60" font-size="8.24" xml:space="preserve">21 s</text>
<rect x="216.90" y="18.20" width="153.00" height="129.20" fill="none" stroke="#4d4d4d" stroke-width="1.1"/>
<clipPath id="clipc"><rect x="390.3" y="18.2" width="153.0" height="129.20000000000002"/></clipPath>
<g clip-path="url(#clipc)">
<polyline points="390.30,135.95 390.51,135.81 390.73,135.57 390.94,135.59 391.15,135.92 391.36,135.66 391.57,135.78 391.79,135.79 392.00,135.80 392.21,135.63 392.43,135.88 392.64,135.86 392.85,135.55 393.06,135.97 393.28,135.78 393.49,135.63 393.70,135.69 393.91,135.71 394.12,135.38 394.34,135.44 394.55,135.57 394.76,135.46 394.98,135.59 395.19,135.62 395.40,135.37 395.61,135.33 395.82,135.68 396.04,135.26 396.25,135.16 396.46,135.30 396.68,135.58 396.89,135.28 397.10,135.46 397.31,135.16 397.53,135.31 397.74,135.30 397.95,135.38 398.16,135.23 398.37,135.17 398.59,135.36 398.80,135.21 399.01,135.23 399.23,134.90 399.44,134.99 399.65,135.05 399.86,134.78 400.07,134.88 400.29,134.89 400.50,134.87 400.71,134.59 400.93,134.70 401.14,134.93 401.35,134.72 401.56,134.62 401.78,134.87 401.99,134.34 402.20,134.24 402.41,134.51 402.62,134.17 402.84,134.20 403.05,134.18 403.26,134.29 403.48,133.84 403.69,134.00 403.90,134.10 404.11,133.83 404.32,133.87 404.54,133.96 404.75,133.67 404.96,133.67 405.18,133.95 405.39,133.62 405.60,133.50 405.81,133.38 406.03,133.29 406.24,133.39 406.45,133.32 406.66,133.47 406.87,133.28 407.09,133.32 407.30,133.05 407.51,132.95 407.73,133.17 407.94,133.36 408.15,132.96 408.36,132.82 408.57,132.97 408.79,133.11 409.00,132.77 409.21,132.96 409.43,132.80 409.64,132.81 409.85,132.66 410.06,132.94 410.28,132.54 410.49,132.66 410.70,132.38 410.91,132.83 411.12,132.99 411.34,132.68 411.55,132.87 411.76,132.65 411.98,132.95 412.19,132.54 412.40,132.65 412.61,132.57 412.82,132.69 413.04,132.89 413.25,132.54 413.46,132.53 413.68,132.50 413.89,132.82 414.10,132.74 414.31,132.70 414.53,132.89 414.74,132.83 414.95,132.84 415.16,132.75 415.37,133.18 415.59,132.72 415.80,132.96 416.01,132.99 416.23,133.12 416.44,132.91 416.65,133.00 416.86,133.12 417.07,133.03 417.29,133.29 417.50,133.12 417.71,133.40 417.93,133.36 418.14,133.08 418.35,133.47 418.56,133.52 418.78,133.47 418.99,133.44 419.20,133.41 419.41,133.50 419.62,133.53 419.84,133.55 420.05,133.19 420.26,133.82 420.48,133.54 420.69,133.46 420.90,133.73 421.11,133.50 421.32,133.49 421.54,133.96 421.75,133.26 421.96,133.37 422.18,133.41 422.39,133.57 422.60,133.44 422.81,133.46 423.03,133.41 423.24,133.09 423.45,133.49 423.66,133.43 423.87,133.11 424.09,132.81 424.30,132.97 424.51,132.60 424.73,132.69 424.94,132.48 425.15,132.33 425.36,132.12 425.57,131.92 425.79,131.85 426.00,131.78 426.21,131.64 426.43,131.03 426.64,130.92 426.85,130.57 427.06,130.56 427.28,130.07 427.49,129.72 427.70,129.33 427.91,129.17 428.12,128.59 428.34,128.57 428.55,127.98 428.76,127.63 428.98,127.18 429.19,126.44 429.40,125.75 429.61,125.41 429.82,124.74 430.04,124.07 430.25,123.35 430.46,122.39 430.68,121.55 430.89,121.07 431.10,119.88 431.31,118.94 431.53,118.08 431.74,117.21 431.95,115.88 432.16,114.87 432.37,113.41 432.59,112.14 432.80,110.65 433.01,109.55 433.23,107.99 433.44,106.56 433.65,104.87 433.86,103.40 434.07,101.69 434.29,100.04 434.50,98.06 434.71,96.19 434.93,94.03 435.14,92.25 435.35,90.32 435.56,88.05 435.78,85.94 435.99,83.98 436.20,81.68 436.41,79.50 436.62,77.21 436.84,74.84 437.05,72.54 437.26,70.25 437.48,67.71 437.69,65.45 437.90,63.25 438.11,60.67 438.32,58.02 438.54,55.75 438.75,53.35 438.96,51.06 439.18,48.90 439.39,46.74 439.60,44.49 439.81,42.12 440.03,40.06 440.24,37.96 440.45,36.11 440.66,33.81 440.87,32.48 441.09,30.47 441.30,29.16 441.51,27.45 441.73,26.02 441.94,24.83 442.15,23.79 442.36,22.99 442.57,22.51 442.79,21.89 443.00,21.11 443.21,20.67 443.43,20.82 443.64,20.41 443.85,20.72 444.06,21.18 444.28,21.43 444.49,21.72 444.70,22.91 444.91,23.67 445.12,24.69 445.34,25.96 445.55,27.01 445.76,28.36 445.98,29.98 446.19,31.45 446.40,33.34 446.61,35.02 446.82,37.13 447.04,38.70 447.25,40.85 447.46,43.10 447.68,44.89 447.89,47.18 448.10,49.23 448.31,51.07 448.53,53.21 448.74,55.61 448.95,57.94 449.16,59.64 449.37,62.04 449.59,63.86 449.80,65.95 450.01,68.07 450.23,69.86 450.44,72.08 450.65,74.19 450.86,76.19 451.07,78.03 451.29,79.85 451.50,81.93 451.71,83.56 451.93,85.25 452.14,87.18 452.35,88.80 452.56,90.15 452.78,91.96 452.99,93.06 453.20,94.61 453.41,96.05 453.62,97.55 453.84,98.91 454.05,99.97 454.26,101.15 454.48,102.21 454.69,103.88 454.90,104.46 455.11,105.44 455.32,106.62 455.54,107.40 455.75,108.43 455.96,109.26 456.18,110.21 456.39,110.65 456.60,111.47 456.81,112.23 457.03,112.89 457.24,113.40 457.45,113.82 457.66,114.38 457.87,115.10 458.09,115.75 458.30,116.01 458.51,116.80 458.73,116.73 458.94,117.25 459.15,117.82 459.36,118.13 459.57,118.54 459.79,118.69 460.00,119.18 460.21,119.32 460.43,119.69 460.64,120.11 460.85,120.08 461.06,120.36 461.28,120.64 461.49,120.90 461.70,120.97 461.91,121.13 462.12,121.34 462.34,121.47 462.55,121.56 462.76,121.79 462.98,121.65 463.19,121.84 463.40,121.90 463.61,122.23 463.82,122.26 464.04,122.26 464.25,122.37 464.46,122.54 464.68,122.61 464.89,122.50 465.10,122.51 465.31,122.47 465.53,122.80 465.74,122.70 465.95,122.73 466.16,122.86 466.37,122.92 466.59,122.97 466.80,122.88 467.01,122.91 467.23,123.19 467.44,123.13 467.65,123.23 467.86,123.10 468.07,123.22 468.29,123.11 468.50,122.96 468.71,123.25 468.93,123.03 469.14,123.16 469.35,123.22 469.56,123.21 469.78,123.21 469.99,123.08 470.20,122.90 470.41,123.15 470.62,123.20 470.84,122.97 471.05,123.03 471.26,123.22 471.48,122.96 471.69,123.11 471.90,123.01 472.11,122.91 472.32,123.07 472.54,122.98 472.75,122.85 472.96,123.10 473.18,122.90 473.39,123.07 473.60,122.72 473.81,122.73 474.03,122.81 474.24,122.70 474.45,122.79 474.66,122.49 474.87,122.53 475.09,122.32 475.30,122.11 475.51,122.23 475.73,122.22 475.94,121.78 476.15,121.95 476.36,121.58 476.57,121.55 476.79,121.32 477.00,121.42 477.21,121.45 477.43,121.12 477.64,120.85 477.85,120.42 478.06,120.62 478.28,120.21 478.49,120.25 478.70,119.87 478.91,119.41 479.12,119.15 479.34,118.94 479.55,118.68 479.76,118.30 479.98,117.88 480.19,117.66 480.40,117.27 480.61,116.80 480.82,116.34 481.04,116.17 481.25,115.45 481.46,114.93 481.68,114.33 481.89,113.83 482.10,112.96 482.31,112.34 482.53,111.75 482.74,110.59 482.95,110.15 483.16,109.28 483.37,108.58 483.59,107.66 483.80,106.68 484.01,105.99 484.23,105.11 484.44,103.56 484.65,103.03 484.86,101.87 485.07,100.55 485.29,99.41 485.50,98.07 485.71,96.59 485.93,95.39 486.14,94.48 486.35,92.88 486.56,91.35 486.78,89.96 486.99,88.76 487.20,87.06 487.41,85.27 487.62,83.89 487.84,82.40 488.05,80.93 488.26,78.97 488.48,77.14 488.69,76.01 488.90,74.11 489.11,72.62 489.32,71.18 489.54,69.62 489.75,67.75 489.96,66.23 490.18,64.76 490.39,63.08 490.60,61.55 490.81,59.76 491.03,58.75 491.24,57.47 491.45,56.19 491.66,54.68 491.87,53.44 492.09,52.45 492.30,51.21 492.51,50.36 492.73,49.52 492.94,48.74 493.15,47.94 493.36,47.28 493.57,46.84 493.79,46.52 494.00,46.19 494.21,45.62 494.43,45.77 494.64,45.38 494.85,45.99 495.06,45.98 495.28,46.33 495.49,46.91 495.70,47.50 495.91,47.96 496.12,48.33 496.34,49.46 496.55,50.13 496.76,51.07 496.98,52.05 497.19,53.63 497.40,54.49 497.61,55.93 497.82,56.75 498.04,57.98 498.25,59.24 498.46,60.66 498.68,61.95 498.89,63.39 499.10,64.92 499.31,66.26 499.53,68.02 499.74,69.27 499.95,70.94 500.16,72.31 500.37,73.60 500.59,74.79 500.80,76.51 501.01,77.74 501.23,79.24 501.44,80.35 501.65,81.81 501.86,83.37 502.07,84.36 502.29,85.76 502.50,87.08 502.71,87.90 502.93,89.44 503.14,90.73 503.35,92.18 503.56,93.13 503.78,93.63 503.99,95.62 504.20,95.61 504.41,97.07 504.62,97.99 504.84,98.36 505.05,99.88 505.26,100.42 505.48,101.28 505.69,101.87 505.90,102.22 506.11,102.72 506.32,104.33 506.54,104.79 506.75,104.39 506.96,105.46 507.18,105.64 507.39,106.18 507.60,107.21 507.81,107.95 508.03,107.88 508.24,108.45 508.45,108.49 508.66,109.22 508.87,108.93 509.09,110.61 509.30,110.97 509.51,110.88 509.73,111.40 509.94,111.24 510.15,111.79 510.36,111.31 510.57,111.96 510.79,112.07 511.00,112.65 511.21,112.64 511.43,112.97 511.64,113.36 511.85,113.06 512.06,114.14 512.28,113.74 512.49,113.98 512.70,113.41 512.91,114.18 513.12,114.94 513.34,114.42 513.55,114.35 513.76,114.44 513.98,114.39 514.19,114.55 514.40,114.80 514.61,114.52 514.82,115.40 515.04,115.11 515.25,115.37 515.46,115.38 515.67,115.44 515.89,115.90 516.10,115.97 516.31,115.94 516.53,117.09 516.74,115.97 516.95,115.78 517.16,116.41 517.37,116.58 517.59,116.59 517.80,116.03 518.01,116.89 518.23,116.23 518.44,117.50 518.65,117.18 518.86,116.21 519.07,117.29 519.29,117.80 519.50,117.03 519.71,117.47 519.92,117.35 520.14,117.11 520.35,117.68 520.56,117.29 520.78,117.71 520.99,117.62 521.20,117.84 521.41,118.45 521.62,118.27 521.84,118.23 522.05,117.58 522.26,118.44 522.48,118.60 522.69,118.06 522.90,117.84 523.11,118.21 523.32,118.48 523.54,119.16 523.75,118.21 523.96,117.93 524.17,118.68 524.39,118.49 524.60,119.09 524.81,119.05 525.03,118.69 525.24,118.90 525.45,118.61 525.66,118.83 525.87,119.22 526.09,119.35 526.30,118.81 526.51,119.75 526.73,118.93 526.94,119.43 527.15,120.01 527.36,119.83 527.57,119.60 527.79,118.18 528.00,119.58 528.21,120.20 528.42,119.11 528.64,120.20 528.85,120.40 529.06,119.57 529.28,119.28 529.49,118.81 529.70,119.71 529.91,120.34 530.12,119.96 530.34,119.33 530.55,119.24 530.76,120.55 530.98,119.29 531.19,120.32 531.40,120.87 531.61,119.95 531.82,120.27 532.04,121.15 532.25,120.94 532.46,120.47 532.67,120.29 532.89,121.16 533.10,120.04 533.31,121.11 533.53,121.20 533.74,120.39 533.95,120.16 534.16,121.01 534.37,120.99 534.59,120.74 534.80,120.39 535.01,121.23 535.23,121.15 535.44,121.42 535.65,122.01 535.86,120.84 536.07,121.44 536.29,120.75 536.50,121.57 536.71,120.66 536.92,121.28 537.14,120.91 537.35,122.15 537.56,121.87 537.78,121.86 537.99,120.63 538.20,121.42 538.41,121.95 538.62,122.89 538.84,122.28 539.05,121.12 539.26,122.11 539.48,121.58 539.69,122.80 539.90,121.77 540.11,121.47 540.32,121.83 540.54,122.61 540.75,122.70 540.96,121.87 541.17,122.77 541.39,123.00 541.60,122.22 541.81,122.92 542.03,122.99 542.24,122.53 542.45,122.53 542.66,123.22 542.87,122.54 543.09,121.95 543.30,122.26" fill="none" stroke="#1f77b4" stroke-width="1.7" stroke-linejoin="round" />
<polyline points="390.30,136.74 390.51,136.74 390.73,136.87 390.94,136.84 391.15,137.01 391.36,137.00 391.57,136.97 391.79,137.02 392.00,136.55 392.21,136.63 392.43,137.05 392.64,136.72 392.85,136.79 393.06,136.73 393.28,136.72 393.49,136.63 393.70,136.93 393.91,136.89 394.12,136.79 394.34,136.58 394.55,136.70 394.76,136.69 394.98,136.70 395.19,136.54 395.40,136.58 395.61,136.41 395.82,136.31 396.04,136.48 396.25,136.68 396.46,136.71 396.68,136.52 396.89,136.45 397.10,136.45 397.31,136.38 397.53,136.40 397.74,136.18 397.95,136.35 398.16,136.13 398.37,136.25 398.59,136.30 398.80,136.20 399.01,136.26 399.23,136.13 399.44,136.43 399.65,136.06 399.86,135.89 400.07,135.83 400.29,136.06 400.50,136.07 400.71,135.68 400.93,136.03 401.14,135.79 401.35,135.78 401.56,135.64 401.78,135.50 401.99,135.38 402.20,135.82 402.41,135.54 402.62,135.74 402.84,135.49 403.05,135.56 403.26,135.32 403.48,135.31 403.69,135.13 403.90,135.04 404.11,135.05 404.32,134.91 404.54,134.80 404.75,134.93 404.96,134.86 405.18,134.92 405.39,134.89 405.60,134.59 405.81,134.42 406.03,134.57 406.24,134.77 406.45,134.61 406.66,134.42 406.87,134.39 407.09,134.49 407.30,134.29 407.51,134.26 407.73,134.44 407.94,134.34 408.15,134.07 408.36,134.25 408.57,134.12 408.79,133.87 409.00,133.90 409.21,133.89 409.43,134.15 409.64,134.05 409.85,133.93 410.06,133.91 410.28,133.77 410.49,133.77 410.70,133.70 410.91,133.63 411.12,133.85 411.34,133.98 411.55,133.70 411.76,133.80 411.98,133.80 412.19,133.90 412.40,133.86 412.61,133.50 412.82,134.12 413.04,133.76 413.25,133.83 413.46,133.79 413.68,133.98 413.89,133.93 414.10,134.02 414.31,134.01 414.53,134.06 414.74,133.78 414.95,133.90 415.16,134.00 415.37,134.05 415.59,134.23 415.80,134.40 416.01,134.17 416.23,134.39 416.44,134.38 416.65,134.47 416.86,134.44 417.07,134.49 417.29,134.26 417.50,134.27 417.71,134.52 417.93,134.48 418.14,134.61 418.35,134.59 418.56,134.74 418.78,134.65 418.99,134.97 419.20,135.14 419.41,134.52 419.62,134.80 419.84,134.85 420.05,134.79 420.26,134.86 420.48,134.78 420.69,135.07 420.90,135.01 421.11,134.73 421.32,134.88 421.54,135.02 421.75,135.10 421.96,134.62 422.18,134.71 422.39,134.75 422.60,135.01 422.81,134.85 423.03,134.89 423.24,134.95 423.45,134.69 423.66,134.60 423.87,134.16 424.09,134.59 424.30,134.15 424.51,134.16 424.73,134.00 424.94,133.97 425.15,133.72 425.36,133.75 425.57,133.42 425.79,133.33 426.00,133.41 426.21,133.13 426.43,132.63 426.64,132.44 426.85,132.61 427.06,132.19 427.28,131.74 427.49,131.65 427.70,131.53 427.91,131.02 428.12,130.77 428.34,130.68 428.55,129.99 428.76,129.63 428.98,129.13 429.19,128.50 429.40,128.01 429.61,127.52 429.82,126.96 430.04,126.76 430.25,126.15 430.46,125.28 430.68,124.64 430.89,123.83 431.10,123.19 431.31,122.21 431.53,121.19 431.74,120.53 431.95,119.57 432.16,118.62 432.37,117.80 432.59,116.42 432.80,115.26 433.01,113.98 433.23,112.86 433.44,111.24 433.65,109.93 433.86,108.38 434.07,107.60 434.29,105.77 434.50,104.01 434.71,102.42 434.93,100.76 435.14,99.11 435.35,97.19 435.56,95.60 435.78,93.73 435.99,91.44 436.20,89.94 436.41,87.80 436.62,85.93 436.84,83.83 437.05,81.91 437.26,79.72 437.48,77.62 437.69,75.73 437.90,73.71 438.11,71.64 438.32,69.60 438.54,67.17 438.75,65.07 438.96,63.58 439.18,61.43 439.39,59.32 439.60,57.28 439.81,55.70 440.03,53.78 440.24,51.91 440.45,50.10 440.66,48.74 440.87,46.90 441.09,45.73 441.30,44.09 441.51,43.06 441.73,41.86 441.94,40.64 442.15,39.76 442.36,38.90 442.57,38.35 442.79,37.81 443.00,37.16 443.21,36.77 443.43,36.83 443.64,36.80 443.85,37.10 444.06,36.97 444.28,37.69 444.49,38.10 444.70,38.61 444.91,40.01 445.12,40.55 445.34,41.71 445.55,42.69 445.76,43.84 445.98,45.36 446.19,46.37 446.40,47.65 446.61,49.59 446.82,51.14 447.04,52.54 447.25,54.44 447.46,56.41 447.68,57.93 447.89,59.92 448.10,61.45 448.31,63.59 448.53,65.13 448.74,67.39 448.95,69.09 449.16,71.23 449.37,72.38 449.59,74.59 449.80,76.46 450.01,78.15 450.23,79.97 450.44,81.67 450.65,83.12 450.86,84.91 451.07,86.88 451.29,88.39 451.50,90.04 451.71,91.50 451.93,93.25 452.14,94.62 452.35,96.22 452.56,97.30 452.78,98.83 452.99,99.86 453.20,101.27 453.41,102.73 453.62,103.43 453.84,105.13 454.05,105.48 454.26,106.70 454.48,107.71 454.69,108.66 454.90,109.66 455.11,110.75 455.32,111.68 455.54,112.37 455.75,113.53 455.96,113.83 456.18,114.60 456.39,115.22 456.60,115.96 456.81,116.72 457.03,117.05 457.24,117.67 457.45,118.18 457.66,118.60 457.87,118.94 458.09,119.30 458.30,120.09 458.51,120.27 458.73,120.96 458.94,121.19 459.15,121.51 459.36,121.69 459.57,121.95 459.79,122.17 460.00,122.47 460.21,122.74 460.43,123.16 460.64,123.09 460.85,123.52 461.06,123.47 461.28,123.80 461.49,123.61 461.70,124.23 461.91,124.15 462.12,124.20 462.34,124.57 462.55,124.67 462.76,124.49 462.98,124.71 463.19,124.91 463.40,125.14 463.61,125.23 463.82,125.48 464.04,125.06 464.25,125.38 464.46,125.37 464.68,125.32 464.89,125.47 465.10,125.67 465.31,125.50 465.53,126.04 465.74,125.62 465.95,125.78 466.16,125.91 466.37,125.84 466.59,125.81 466.80,126.12 467.01,126.01 467.23,126.14 467.44,126.13 467.65,126.01 467.86,126.22 468.07,126.34 468.29,126.25 468.50,125.99 468.71,126.04 468.93,126.13 469.14,126.03 469.35,126.30 469.56,126.38 469.78,126.42 469.99,126.24 470.20,126.24 470.41,126.50 470.62,125.95 470.84,126.19 471.05,126.55 471.26,126.59 471.48,126.28 471.69,126.28 471.90,126.48 472.11,126.29 472.32,126.29 472.54,126.29 472.75,126.06 472.96,126.43 473.18,126.22 473.39,126.37 473.60,126.14 473.81,126.09 474.03,125.75 474.24,126.19 474.45,125.97 474.66,125.98 474.87,125.90 475.09,125.96 475.30,125.98 475.51,125.84 475.73,125.79 475.94,125.45 476.15,125.54 476.36,125.20 476.57,125.46 476.79,125.50 477.00,125.20 477.21,125.05 477.43,124.55 477.64,124.90 477.85,124.46 478.06,124.47 478.28,124.35 478.49,123.92 478.70,123.96 478.91,123.37 479.12,123.32 479.34,123.06 479.55,122.95 479.76,122.58 479.98,122.19 480.19,122.14 480.40,121.70 480.61,121.46 480.82,121.00 481.04,120.52 481.25,120.40 481.46,119.65 481.68,119.27 481.89,118.54 482.10,118.31 482.31,117.62 482.53,117.00 482.74,116.16 482.95,115.67 483.16,114.73 483.37,114.11 483.59,113.62 483.80,112.88 484.01,111.88 484.23,110.89 484.44,110.10 484.65,109.29 484.86,108.09 485.07,107.19 485.29,106.23 485.50,104.99 485.71,103.94 485.93,103.01 486.14,101.60 486.35,100.31 486.56,99.25 486.78,98.08 486.99,96.46 487.20,95.08 487.41,93.93 487.62,92.50 487.84,91.27 488.05,89.74 488.26,88.56 488.48,86.97 488.69,85.46 488.90,84.16 489.11,82.65 489.32,81.19 489.54,79.58 489.75,78.44 489.96,77.18 490.18,75.71 490.39,74.35 490.60,72.84 490.81,71.42 491.03,70.56 491.24,69.13 491.45,67.91 491.66,66.91 491.87,65.84 492.09,64.94 492.30,63.69 492.51,62.91 492.73,62.38 492.94,61.46 493.15,61.06 493.36,60.24 493.57,59.70 493.79,59.77 494.00,59.23 494.21,59.01 494.43,58.53 494.64,58.77 494.85,58.84 495.06,59.15 495.28,59.38 495.49,59.66 495.70,60.20 495.91,60.67 496.12,61.41 496.34,62.29 496.55,62.82 496.76,63.69 496.98,64.85 497.19,65.74 497.40,66.68 497.61,67.40 497.82,68.65 498.04,69.62 498.25,71.46 498.46,72.21 498.68,73.23 498.89,74.83 499.10,75.93 499.31,77.45 499.53,78.49 499.74,79.85 499.95,81.40 500.16,82.20 500.37,83.67 500.59,84.86 500.80,86.52 501.01,87.28 501.23,88.78 501.44,89.73 501.65,91.29 501.86,91.99 502.07,93.44 502.29,94.48 502.50,95.70 502.71,97.02 502.93,97.75 503.14,98.47 503.35,99.44 503.56,100.76 503.78,101.31 503.99,102.54 504.20,103.65 504.41,104.24 504.62,105.02 504.84,105.57 505.05,107.11 505.26,107.00 505.48,107.78 505.69,108.51 505.90,109.67 506.11,110.33 506.32,110.23 506.54,111.15 506.75,111.32 506.96,112.45 507.18,112.41 507.39,112.91 507.60,113.90 507.81,114.01 508.03,113.78 508.24,114.94 508.45,114.71 508.66,115.40 508.87,116.03 509.09,116.21 509.30,116.66 509.51,116.00 509.73,117.38 509.94,117.51 510.15,117.32 510.36,117.20 510.57,118.23 510.79,118.27 511.00,118.22 511.21,118.44 511.43,118.46 511.64,118.88 511.85,118.80 512.06,118.65 512.28,119.54 512.49,119.86 512.70,119.65 512.91,119.43 513.12,118.52 513.34,119.36 513.55,119.60 513.76,121.16 513.98,120.83 514.19,119.84 514.40,120.46 514.61,120.61 514.82,120.04 515.04,119.94 515.25,120.29 515.46,120.54 515.67,121.51 515.89,120.86 516.10,120.45 516.31,120.99 516.53,121.65 516.74,122.15 516.95,121.26 517.16,120.89 517.37,121.56 517.59,121.36 517.80,121.12 518.01,121.61 518.23,121.48 518.44,121.77 518.65,121.88 518.86,121.34 519.07,121.34 519.29,121.77 519.50,122.41 519.71,121.55 519.92,121.40 520.14,121.48 520.35,121.53 520.56,121.91 520.78,122.07 520.99,121.73 521.20,121.73 521.41,121.77 521.62,122.54 521.84,123.06 522.05,122.00 522.26,122.05 522.48,122.12 522.69,122.03 522.90,123.10 523.11,122.68 523.32,122.08 523.54,122.67 523.75,122.55 523.96,121.77 524.17,122.15 524.39,122.81 524.60,122.45 524.81,122.99 525.03,122.44 525.24,123.36 525.45,123.55 525.66,121.97 525.87,122.26 526.09,123.26 526.30,122.59 526.51,124.09 526.73,122.86 526.94,122.34 527.15,122.56 527.36,122.89 527.57,123.03 527.79,122.91 528.00,121.99 528.21,123.30 528.42,122.98 528.64,122.73 528.85,123.59 529.06,122.40 529.28,124.18 529.49,123.34 529.70,123.48 529.91,123.31 530.12,123.96 530.34,123.52 530.55,123.20 530.76,123.80 530.98,122.95 531.19,124.44 531.40,123.53 531.61,122.65 531.82,123.98 532.04,123.48 532.25,123.73 532.46,123.86 532.67,123.25 532.89,124.29 533.10,123.37 533.31,124.37 533.53,123.82 533.74,123.31 533.95,124.02 534.16,123.73 534.37,122.62 534.59,123.71 534.80,123.67 535.01,123.50 535.23,123.56 535.44,123.87 535.65,124.03 535.86,123.80 536.07,123.76 536.29,123.27 536.50,123.94 536.71,123.59 536.92,123.01 537.14,124.88 537.35,124.17 537.56,124.21 537.78,124.18 537.99,123.40 538.20,124.28 538.41,124.06 538.62,123.32 538.84,125.29 539.05,124.86 539.26,124.83 539.48,124.24 539.69,124.00 539.90,124.74 540.11,123.60 540.32,123.50 540.54,124.75 540.75,124.65 540.96,124.91 541.17,124.07 541.39,124.65 541.60,123.95 541.81,123.88 542.03,124.46 542.24,124.92 542.45,125.80 542.66,124.36 542.87,124.28 543.09,124.53 543.30,125.01" fill="none" stroke="#ff7f0e" stroke-width="1.7" stroke-linejoin="round" />
<polyline points="390.30,135.35 390.51,135.52 390.73,135.40 390.94,135.38 391.15,135.34 391.36,135.38 391.57,135.71 391.79,135.41 392.00,135.47 392.21,135.53 392.43,135.57 392.64,135.57 392.85,135.49 393.06,135.46 393.28,135.40 393.49,135.67 393.70,135.51 393.91,135.27 394.12,135.20 394.34,135.39 394.55,135.40 394.76,135.04 394.98,135.45 395.19,135.13 395.40,135.14 395.61,135.19 395.82,135.07 396.04,135.11 396.25,135.21 396.46,135.06 396.68,134.77 396.89,135.09 397.10,134.94 397.31,134.79 397.53,135.17 397.74,135.02 397.95,135.13 398.16,134.94 398.37,135.00 398.59,134.72 398.80,134.90 399.01,134.72 399.23,134.76 399.44,134.69 399.65,134.85 399.86,134.53 400.07,134.65 400.29,134.62 400.50,134.67 400.71,134.44 400.93,134.54 401.14,134.53 401.35,134.38 401.56,134.66 401.78,134.11 401.99,134.30 402.20,134.04 402.41,134.31 402.62,134.38 402.84,134.17 403.05,133.92 403.26,133.74 403.48,133.67 403.69,133.65 403.90,133.88 404.11,133.79 404.32,133.60 404.54,133.50 404.75,133.69 404.96,133.64 405.18,133.64 405.39,133.22 405.60,133.48 405.81,133.25 406.03,133.23 406.24,133.13 406.45,133.37 406.66,133.09 406.87,132.92 407.09,132.92 407.30,133.02 407.51,132.82 407.73,132.85 407.94,132.90 408.15,132.80 408.36,132.44 408.57,132.81 408.79,132.94 409.00,132.58 409.21,132.54 409.43,132.55 409.64,132.62 409.85,132.44 410.06,132.28 410.28,132.34 410.49,132.84 410.70,132.65 410.91,132.48 411.12,132.83 411.34,132.24 411.55,132.39 411.76,132.62 411.98,132.65 412.19,132.34 412.40,132.56 412.61,132.48 412.82,132.69 413.04,132.71 413.25,132.63 413.46,132.58 413.68,132.48 413.89,132.70 414.10,132.53 414.31,132.74 414.53,132.83 414.74,132.79 414.95,132.83 415.16,132.97 415.37,133.10 415.59,132.78 415.80,132.86 416.01,132.82 416.23,133.20 416.44,133.06 416.65,133.24 416.86,132.89 417.07,132.88 417.29,133.07 417.50,133.00 417.71,133.46 417.93,133.30 418.14,133.29 418.35,133.28 418.56,133.38 418.78,133.32 418.99,133.42 419.20,133.54 419.41,133.34 419.62,133.61 419.84,133.46 420.05,133.50 420.26,133.77 420.48,133.69 420.69,133.32 420.90,133.63 421.11,133.53 421.32,133.70 421.54,133.46 421.75,133.60 421.96,133.44 422.18,133.43 422.39,133.65 422.60,133.49 422.81,133.35 423.03,133.54 423.24,133.33 423.45,133.31 423.66,133.11 423.87,133.28 424.09,132.97 424.30,132.81 424.51,132.91 424.73,132.78 424.94,132.48 425.15,132.53 425.36,132.24 425.57,131.97 425.79,132.18 426.00,131.73 426.21,131.42 426.43,131.60 426.64,131.14 426.85,130.85 427.06,130.72 427.28,130.35 427.49,130.24 427.70,129.77 427.91,129.55 428.12,128.97 428.34,128.69 428.55,128.27 428.76,127.71 428.98,127.33 429.19,126.98 429.40,126.41 429.61,125.92 429.82,125.16 430.04,124.43 430.25,123.68 430.46,123.15 430.68,122.66 430.89,121.67 431.10,121.13 431.31,120.34 431.53,119.40 431.74,118.27 431.95,117.60 432.16,116.27 432.37,115.31 432.59,113.95 432.80,113.05 433.01,111.93 433.23,110.80 433.44,109.49 433.65,108.02 433.86,106.91 434.07,105.69 434.29,103.96 434.50,102.43 434.71,100.93 434.93,99.40 435.14,97.90 435.35,96.39 435.56,94.31 435.78,92.76 435.99,91.12 436.20,89.54 436.41,87.86 436.62,86.05 436.84,84.18 437.05,82.51 437.26,80.78 437.48,78.94 437.69,77.39 437.90,75.69 438.11,73.91 438.32,72.20 438.54,70.26 438.75,68.56 438.96,67.46 439.18,65.88 439.39,64.28 439.60,63.13 439.81,61.56 440.03,59.97 440.24,59.04 440.45,57.85 440.66,56.55 440.87,55.46 441.09,54.86 441.30,54.03 441.51,53.29 441.73,52.61 441.94,52.51 442.15,51.84 442.36,51.68 442.57,51.42 442.79,51.33 443.00,51.85 443.21,51.55 443.43,52.00 443.64,52.48 443.85,52.88 444.06,53.51 444.28,54.01 444.49,55.02 444.70,55.92 444.91,57.00 445.12,58.01 445.34,59.38 445.55,60.34 445.76,61.69 445.98,62.91 446.19,64.27 446.40,66.01 446.61,67.17 446.82,68.60 447.04,70.04 447.25,71.99 447.46,73.17 447.68,74.95 447.89,76.40 448.10,77.78 448.31,79.28 448.53,80.87 448.74,82.46 448.95,83.97 449.16,85.29 449.37,86.75 449.59,88.30 449.80,90.00 450.01,91.48 450.23,92.75 450.44,93.94 450.65,95.07 450.86,96.53 451.07,97.80 451.29,98.97 451.50,100.17 451.71,101.35 451.93,102.51 452.14,103.58 452.35,104.55 452.56,105.53 452.78,106.59 452.99,107.32 453.20,108.51 453.41,109.15 453.62,110.15 453.84,110.76 454.05,111.76 454.26,112.35 454.48,112.91 454.69,113.60 454.90,114.48 455.11,115.05 455.32,115.72 455.54,116.15 455.75,116.85 455.96,117.18 456.18,117.72 456.39,118.06 456.60,118.51 456.81,118.88 457.03,119.25 457.24,119.47 457.45,119.99 457.66,120.35 457.87,120.42 458.09,121.32 458.30,121.28 458.51,121.54 458.73,121.41 458.94,121.77 459.15,121.99 459.36,122.27 459.57,122.41 459.79,122.44 460.00,123.06 460.21,123.10 460.43,123.05 460.64,123.39 460.85,123.28 461.06,123.41 461.28,123.48 461.49,123.99 461.70,123.83 461.91,123.80 462.12,124.11 462.34,123.99 462.55,124.26 462.76,124.47 462.98,124.13 463.19,124.66 463.40,124.50 463.61,124.60 463.82,124.72 464.04,124.78 464.25,125.00 464.46,124.76 464.68,125.00 464.89,124.61 465.10,124.99 465.31,125.21 465.53,124.95 465.74,124.91 465.95,124.90 466.16,125.16 466.37,125.14 466.59,125.19 466.80,125.10 467.01,125.01 467.23,125.09 467.44,125.31 467.65,125.30 467.86,125.31 468.07,125.40 468.29,125.48 468.50,125.41 468.71,125.28 468.93,125.29 469.14,125.53 469.35,125.34 469.56,125.42 469.78,125.35 469.99,125.30 470.20,125.34 470.41,125.27 470.62,125.31 470.84,125.29 471.05,125.43 471.26,125.65 471.48,125.73 471.69,125.42 471.90,125.42 472.11,125.61 472.32,125.58 472.54,125.69 472.75,125.17 472.96,125.67 473.18,125.63 473.39,125.21 473.60,125.14 473.81,125.33 474.03,125.14 474.24,125.10 474.45,125.23 474.66,124.72 474.87,124.99 475.09,124.96 475.30,124.97 475.51,124.86 475.73,125.00 475.94,124.82 476.15,124.72 476.36,124.62 476.57,124.65 476.79,124.48 477.00,124.50 477.21,124.12 477.43,124.40 477.64,124.33 477.85,124.00 478.06,123.76 478.28,123.81 478.49,123.57 478.70,123.42 478.91,123.20 479.12,122.84 479.34,123.02 479.55,122.76 479.76,122.43 479.98,122.23 480.19,121.88 480.40,121.41 480.61,121.26 480.82,121.11 481.04,120.60 481.25,120.27 481.46,119.69 481.68,119.73 481.89,119.12 482.10,118.58 482.31,118.14 482.53,117.74 482.74,117.35 482.95,116.84 483.16,116.29 483.37,115.51 483.59,114.84 483.80,114.30 484.01,113.67 484.23,112.84 484.44,112.35 484.65,110.99 484.86,110.66 485.07,109.68 485.29,108.85 485.50,107.97 485.71,107.00 485.93,106.26 486.14,104.85 486.35,104.10 486.56,103.34 486.78,101.85 486.99,100.90 487.20,99.92 487.41,98.77 487.62,97.80 487.84,96.23 488.05,95.36 488.26,94.30 488.48,93.29 488.69,92.03 488.90,90.98 489.11,89.54 489.32,88.42 489.54,87.30 489.75,86.05 489.96,84.81 490.18,83.72 490.39,82.69 490.60,81.41 490.81,80.46 491.03,79.36 491.24,78.42 491.45,77.49 491.66,76.21 491.87,75.75 492.09,75.07 492.30,74.25 492.51,73.46 492.73,72.33 492.94,71.56 493.15,71.80 493.36,70.88 493.57,70.63 493.79,69.99 494.00,69.98 494.21,69.96 494.43,69.62 494.64,69.73 494.85,69.79 495.06,70.23 495.28,70.11 495.49,70.42 495.70,70.80 495.91,71.28 496.12,71.67 496.34,72.33 496.55,73.14 496.76,73.54 496.98,74.57 497.19,75.06 497.40,75.90 497.61,76.48 497.82,77.52 498.04,78.40 498.25,79.38 498.46,80.60 498.68,81.38 498.89,82.38 499.10,83.76 499.31,84.68 499.53,85.35 499.74,86.37 499.95,87.37 500.16,88.51 500.37,90.18 500.59,90.98 500.80,92.18 501.01,93.15 501.23,93.73 501.44,94.94 501.65,95.96 501.86,96.93 502.07,97.85 502.29,98.85 502.50,99.78 502.71,100.17 502.93,101.24 503.14,102.44 503.35,102.99 503.56,103.65 503.78,104.60 503.99,105.03 504.20,105.98 504.41,106.46 504.62,107.06 504.84,107.81 505.05,108.54 505.26,108.90 505.48,109.37 505.69,109.79 505.90,110.56 506.11,111.57 506.32,111.27 506.54,112.53 506.75,112.84 506.96,112.34 507.18,113.26 507.39,113.12 507.60,114.07 507.81,114.46 508.03,115.45 508.24,115.08 508.45,115.15 508.66,115.52 508.87,115.08 509.09,115.85 509.30,116.19 509.51,116.22 509.73,116.63 509.94,116.78 510.15,117.43 510.36,118.02 510.57,117.62 510.79,117.84 511.00,117.75 511.21,117.69 511.43,118.13 511.64,118.75 511.85,118.28 512.06,118.17 512.28,119.08 512.49,118.43 512.70,119.19 512.91,119.24 513.12,118.56 513.34,119.30 513.55,118.98 513.76,119.13 513.98,119.43 514.19,118.84 514.40,119.43 514.61,119.35 514.82,119.70 515.04,120.76 515.25,120.94 515.46,120.31 515.67,120.15 515.89,119.52 516.10,119.91 516.31,120.64 516.53,120.50 516.74,120.48 516.95,120.44 517.16,120.53 517.37,121.16 517.59,120.56 517.80,120.68 518.01,121.12 518.23,120.23 518.44,120.66 518.65,120.51 518.86,121.24 519.07,122.35 519.29,120.95 519.50,121.88 519.71,122.03 519.92,122.13 520.14,122.32 520.35,121.71 520.56,122.32 520.78,122.62 520.99,122.54 521.20,122.23 521.41,122.71 521.62,122.45 521.84,121.80 522.05,122.50 522.26,122.34 522.48,122.15 522.69,123.45 522.90,121.79 523.11,121.65 523.32,123.43 523.54,122.57 523.75,122.26 523.96,122.67 524.17,122.31 524.39,122.76 524.60,122.78 524.81,122.38 525.03,122.71 525.24,122.48 525.45,123.15 525.66,123.08 525.87,123.12 526.09,122.87 526.30,122.55 526.51,123.26 526.73,123.37 526.94,123.62 527.15,122.76 527.36,123.36 527.57,123.69 527.79,123.18 528.00,123.38 528.21,122.96 528.42,123.32 528.64,123.28 528.85,123.82 529.06,123.93 529.28,122.82 529.49,123.67 529.70,124.25 529.91,123.25 530.12,123.43 530.34,123.59 530.55,124.00 530.76,123.65 530.98,123.65 531.19,124.76 531.40,123.70 531.61,124.56 531.82,122.96 532.04,123.51 532.25,124.39 532.46,124.29 532.67,124.22 532.89,124.47 533.10,124.41 533.31,124.83 533.53,123.41 533.74,124.09 533.95,124.43 534.16,123.77 534.37,124.63 534.59,122.81 534.80,124.91 535.01,123.61 535.23,125.17 535.44,124.95 535.65,124.83 535.86,123.88 536.07,124.93 536.29,124.48 536.50,126.03 536.71,125.68 536.92,124.82 537.14,125.15 537.35,124.37 537.56,124.98 537.78,124.53 537.99,125.08 538.20,125.66 538.41,124.43 538.62,125.85 538.84,126.01 539.05,125.05 539.26,125.60 539.48,125.59 539.69,125.67 539.90,124.88 540.11,126.11 540.32,126.28 540.54,125.66 540.75,126.34 540.96,125.53 541.17,125.33 541.39,124.85 541.60,125.93 541.81,126.36 542.03,126.03 542.24,125.06 542.45,125.55 542.66,124.68 542.87,126.03 543.09,125.81 543.30,124.94" fill="none" stroke="#2ca02c" stroke-width="1.7" stroke-linejoin="round" />
</g>
<line x1="398.80" y1="147.4" x2="398.80" y2="151.4" stroke="#4d4d4d" stroke-width="0.9"/>
<text x="390.07 395.99 401.91" y="162.10" font-size="10.11" xml:space="preserve">363</text>
<line x1="432.80" y1="147.4" x2="432.80" y2="151.4" stroke="#4d4d4d" stroke-width="0.9"/>
<text x="424.07 429.99 435.91" y="162.10" font-size="10.11" xml:space="preserve">367</text>
<line x1="466.80" y1="147.4" x2="466.80" y2="151.4" stroke="#4d4d4d" stroke-width="0.9"/>
<text x="458.07 463.99 469.91" y="162.10" font-size="10.11" xml:space="preserve">371</text>
<line x1="500.80" y1="147.4" x2="500.80" y2="151.4" stroke="#4d4d4d" stroke-width="0.9"/>
<text x="492.07 497.99 503.91" y="162.10" font-size="10.11" xml:space="preserve">375</text>
<line x1="534.80" y1="147.4" x2="534.80" y2="151.4" stroke="#4d4d4d" stroke-width="0.9"/>
<text x="526.07 531.99 537.91" y="162.10" font-size="10.11" xml:space="preserve">379</text>
<line x1="386.30" y1="108.80" x2="390.30" y2="108.80" stroke="#4d4d4d" stroke-width="0.9"/>
<text x="377.93" y="112.80" font-size="10.11" xml:space="preserve">2</text>
<line x1="386.30" y1="67.66" x2="390.30" y2="67.66" stroke="#4d4d4d" stroke-width="0.9"/>
<text x="377.93" y="71.66" font-size="10.11" xml:space="preserve">4</text>
<line x1="386.30" y1="26.52" x2="390.30" y2="26.52" stroke="#4d4d4d" stroke-width="0.9"/>
<text x="377.93" y="30.52" font-size="10.11" xml:space="preserve">6</text>
<text x="405.54 413.59 416.92 420.31 429.53 437.23 440.68 444.15 452.09 456.98 465.03 469.55 472.88 480.61 488.33 492.27 499.99 507.71 511.38 520.28" y="15.00" font-size="13.08" xml:space="preserve">Ti Calibration on Ag</text>
<text x="404.61 413.50 416.96 424.83 432.67 436.14 444.00 451.73 455.07 463.65 471.39 479.21 484.24 492.21 499.30 503.33 508.11 515.44 524.28" y="174.90" font-size="13.08" xml:space="preserve">Binding Energy (eV)</text>
<text x="514.50" y="29.2" font-size="11.82" font-style="italic" textLength="15.90" lengthAdjust="spacingAndGlyphs">Ag</text>
<text x="531.00" y="31.2" font-size="9.07" font-style="italic" textLength="9.90" lengthAdjust="spacingAndGlyphs">3d</text>
<text x="524.67 529.27 536.53" y="140.60" font-size="11.92" font-weight="bold" xml:space="preserve">(c)</text>
<rect x="393.0" y="21.9" width="43.40" height="34.30" rx="2" fill="#fff" fill-opacity="0.8" stroke="#d6d6d6" stroke-width="0.8"/>
<line x1="396.1" y1="27.70" x2="412.4" y2="27.70" stroke="#1f77b4" stroke-width="1.7"/>
<text x="417.83 422.46 424.61" y="31.00" font-size="8.24" xml:space="preserve">0 s</text>
<line x1="396.1" y1="38.50" x2="412.4" y2="38.50" stroke="#ff7f0e" stroke-width="1.7"/>
<text x="417.83 422.48 427.10 429.25" y="41.80" font-size="8.24" xml:space="preserve">20 s</text>
<line x1="396.1" y1="49.30" x2="412.4" y2="49.30" stroke="#2ca02c" stroke-width="1.7"/>
<text x="417.83 422.48 427.10 429.25" y="52.60" font-size="8.24" xml:space="preserve">40 s</text>
<rect x="390.30" y="18.20" width="153.00" height="129.20" fill="none" stroke="#4d4d4d" stroke-width="1.1"/>
<text x="-41.51 -37.57 -29.39 -24.97 -17.22 -9.70 -2.93 0.86 5.51 12.60 16.63 21.39 29.12 36.93" y="0" font-size="13.08" transform="translate(19.80 83.50) rotate(-90)" xml:space="preserve">Intensity (au)</text>
<clipPath id="clipd"><rect x="44.0" y="182.1" width="499.0" height="58.5"/></clipPath>
<g clip-path="url(#clipd)">
<line x1="66.30" y1="237.90" x2="520.80" y2="184.45" stroke="#0000ff" stroke-width="1.8" stroke-dasharray="1.8 2.35" stroke-dashoffset="0"/>
<line x1="66.30" y1="237.90" x2="318.80" y2="222.65" stroke="#ff0000" stroke-width="1.8" stroke-dasharray="1.8 2.35" stroke-dashoffset="0"/>
<line x1="66.30" y1="237.90" x2="520.80" y2="211.90" stroke="#008000" stroke-width="1.8" stroke-dasharray="1.8 2.35" stroke-dashoffset="0"/>
<polygon points="116.80,229.80 113.10,237.20 120.50,237.20" fill="#0000ff"/>
<polygon points="167.30,222.19 163.60,229.59 171.00,229.59" fill="#0000ff"/>
<polygon points="217.80,214.81 214.10,222.21 221.50,222.21" fill="#0000ff"/>
<polygon points="268.30,211.70 264.60,219.10 272.00,219.10" fill="#0000ff"/>
<polygon points="318.80,203.22 315.10,210.62 322.50,210.62" fill="#0000ff"/>
<polygon points="369.30,199.60 365.60,207.00 373.00,207.00" fill="#0000ff"/>
<polygon points="419.80,194.20 416.10,201.60 423.50,201.60" fill="#0000ff"/>
<polygon points="470.30,186.88 466.60,194.28 474.00,194.28" fill="#0000ff"/>
<circle cx="137.00" cy="233.31" r="3.6" fill="#ff0000"/>
<circle cx="278.40" cy="224.80" r="3.6" fill="#ff0000"/>
<rect x="264.90" y="222.46" width="6.8" height="6.8" fill="#008000"/>
<rect x="466.90" y="210.81" width="6.8" height="6.8" fill="#008000"/>
</g>
<line x1="66.30" y1="240.6" x2="66.30" y2="244.6" stroke="#4d4d4d" stroke-width="0.9"/>
<text x="63.57" y="254.60" font-size="9.81" xml:space="preserve">0</text>
<line x1="167.30" y1="240.6" x2="167.30" y2="244.6" stroke="#4d4d4d" stroke-width="0.9"/>
<text x="161.61 167.53" y="254.60" font-size="9.81" xml:space="preserve">10</text>
<line x1="268.30" y1="240.6" x2="268.30" y2="244.6" stroke="#4d4d4d" stroke-width="0.9"/>
<text x="262.61 268.53" y="254.60" font-size="9.81" xml:space="preserve">20</text>
<line x1="369.30" y1="240.6" x2="369.30" y2="244.6" stroke="#4d4d4d" stroke-width="0.9"/>
<text x="363.61 369.53" y="254.60" font-size="9.81" xml:space="preserve">30</text>
<line x1="470.30" y1="240.6" x2="470.30" y2="244.6" stroke="#4d4d4d" stroke-width="0.9"/>
<text x="464.61 470.53" y="254.60" font-size="9.81" xml:space="preserve">40</text>
<line x1="40.0" y1="237.70" x2="44.0" y2="237.70" stroke="#4d4d4d" stroke-width="0.9"/>
<text x="31.63" y="241.70" font-size="10.11" xml:space="preserve">0</text>
<line x1="40.0" y1="205.40" x2="44.0" y2="205.40" stroke="#4d4d4d" stroke-width="0.9"/>
<text x="25.71 31.63" y="209.40" font-size="10.11" xml:space="preserve">10</text>
<rect x="45.8" y="183.2" width="277.0" height="16.6" rx="2" fill="#fff" fill-opacity="0.8" stroke="#d6d6d6" stroke-width="0.8"/>
<polygon points="57.90,188.60 54.20,196.00 61.60,196.00" fill="#0000ff"/>
<circle cx="155.30" cy="192.20" r="3.6" fill="#ff0000"/>
<rect x="247.30" y="189.30" width="6.8" height="6.8" fill="#008000"/>
<text x="73.61" y="195.40" font-size="9.07" font-style="italic" xml:space="preserve">R</text>
<text x="79.10 83.71" y="196.70" font-size="6.54" font-style="italic" xml:space="preserve">Co</text>
<text x="87.53 90.34 93.16 96.00 101.37 104.21 109.68" y="195.40" font-size="9.07" xml:space="preserve"> : 0.37</text>
<text x="114.85" y="195.40" font-size="9.07" font-style="italic" xml:space="preserve">Å</text>
<text x="121.01 123.69" y="195.40" font-size="9.07" xml:space="preserve">/s</text>
<text x="170.81" y="195.40" font-size="9.07" font-style="italic" xml:space="preserve">R</text>
<text x="176.19 180.55" y="196.70" font-size="6.54" font-style="italic" xml:space="preserve">Pt</text>
<text x="182.78 185.59 188.41 191.25 196.61 199.45 204.92" y="195.40" font-size="9.07" xml:space="preserve"> : 0.19</text>
<text x="210.10" y="195.40" font-size="9.07" font-style="italic" xml:space="preserve">Å</text>
<text x="216.25 218.94" y="195.40" font-size="9.07" xml:space="preserve">/s</text>
<text x="266.41" y="195.40" font-size="9.07" font-style="italic" xml:space="preserve">R</text>
<text x="272.00 276.02" y="196.70" font-size="6.54" font-style="italic" xml:space="preserve">Ti</text>
<text x="277.72 280.53 283.35 286.19 291.55 294.39 299.86" y="195.40" font-size="9.07" xml:space="preserve"> : 0.18</text>
<text x="305.04" y="195.40" font-size="9.07" font-style="italic" xml:space="preserve">Å</text>
<text x="311.19 313.88" y="195.40" font-size="9.07" xml:space="preserve">/s</text>
<text x="522.78 527.75 536.03" y="234.90" font-size="11.92" font-weight="bold" xml:space="preserve">(d)</text>
<rect x="44.00" y="182.10" width="499.00" height="58.50" fill="none" stroke="#4d4d4d" stroke-width="1.1"/>
<g transform="translate(20.9 225.89) rotate(-90)">
<text x="0" y="0" font-size="13.08" textLength="16.65" lengthAdjust="spacingAndGlyphs" xml:space="preserve">d (</text>
<text x="16.65" y="0" font-size="13.08" font-style="italic" textLength="8.48" lengthAdjust="spacingAndGlyphs">Å</text>
<text x="25.13" y="0" font-size="13.08" textLength="4.84" lengthAdjust="spacingAndGlyphs">)</text>
</g>
<text x="232.83 242.51 250.26 257.98 265.37 272.14 275.93 280.45 283.78 291.51 299.23 302.81 310.86 314.62 326.29 333.90 337.92 342.48 349.22" y="268.10" font-size="13.08" xml:space="preserve">Deposition Time (s)</text>
</g>
</svg>
</body></html>
